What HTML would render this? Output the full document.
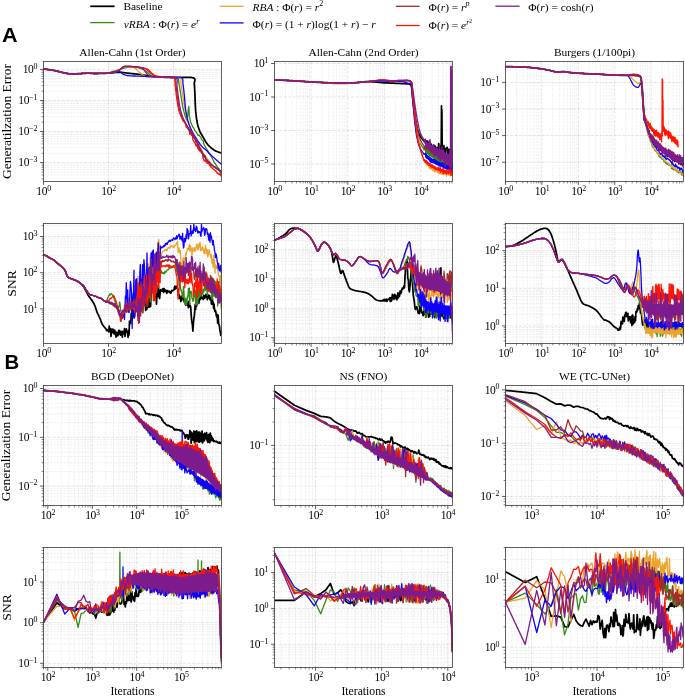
<!DOCTYPE html><html><head><meta charset="utf-8"><style>html,body{margin:0;padding:0;background:#fff;width:685px;height:696px;overflow:hidden}svg{display:block;filter:blur(0.35px)}text{font-family:"Liberation Serif",serif;fill:#000}.t{font-size:11.5px;letter-spacing:-0.3px}.s{font-size:7.9px;letter-spacing:0}.ti{font-size:11.4px}.yl{font-size:13.5px}.lg{font-size:11.4px}.ls{font-size:8px}.pn{font-family:"Liberation Sans",sans-serif;font-weight:bold;font-size:20px}</style></head><body>
<svg width="685" height="696" viewBox="0 0 685 696">
<defs>
<clipPath id="c00"><rect x="43.5" y="61.5" width="178" height="120"/></clipPath>
<clipPath id="c01"><rect x="274.5" y="61.5" width="178" height="120"/></clipPath>
<clipPath id="c02"><rect x="505.5" y="61.5" width="178" height="120"/></clipPath>
<clipPath id="c10"><rect x="43.5" y="223.5" width="178" height="120"/></clipPath>
<clipPath id="c11"><rect x="274.5" y="223.5" width="178" height="120"/></clipPath>
<clipPath id="c12"><rect x="505.5" y="223.5" width="178" height="120"/></clipPath>
<clipPath id="c20"><rect x="43.5" y="385.5" width="178" height="120"/></clipPath>
<clipPath id="c21"><rect x="274.5" y="385.5" width="178" height="120"/></clipPath>
<clipPath id="c22"><rect x="505.5" y="385.5" width="178" height="120"/></clipPath>
<clipPath id="c30"><rect x="43.5" y="547.5" width="178" height="120"/></clipPath>
<clipPath id="c31"><rect x="274.5" y="547.5" width="178" height="120"/></clipPath>
<clipPath id="c32"><rect x="505.5" y="547.5" width="178" height="120"/></clipPath>
</defs>
<path d="M43.5 178.9H221.5M43.5 175H221.5M43.5 172H221.5M43.5 169.5H221.5M43.5 167.4H221.5M43.5 165.6H221.5M43.5 164H221.5M43.5 153.3H221.5M43.5 147.8H221.5M43.5 143.9H221.5M43.5 140.9H221.5M43.5 138.4H221.5M43.5 136.3H221.5M43.5 134.5H221.5M43.5 133H221.5M43.5 122.2H221.5M43.5 116.7H221.5M43.5 112.8H221.5M43.5 109.8H221.5M43.5 107.4H221.5M43.5 105.3H221.5M43.5 103.5H221.5M43.5 101.9H221.5M43.5 91.1H221.5M43.5 85.6H221.5M43.5 81.8H221.5M43.5 78.7H221.5M43.5 76.3H221.5M43.5 74.2H221.5M43.5 72.4H221.5M43.5 70.8H221.5" stroke="#000" stroke-opacity="0.085" stroke-width="0.8" stroke-dasharray="2.6 1.1 1.8 1.1" fill="none"/>
<path d="M108.5 61.5V181.5M173.5 61.5V181.5M43.5 69.4H221.5M43.5 100.5H221.5M43.5 131.5H221.5M43.5 162.6H221.5" stroke="#000" stroke-opacity="0.13" stroke-width="0.8" stroke-dasharray="3.2 1.3" fill="none"/>
<g clip-path="url(#c00)" fill="none" stroke-linejoin="round" stroke-linecap="round">
<path d="M43.5 69l.4.1.6 0 .7.1.8.1.8.1.8.1.9.1.8.1.7.1.8.1.7.1.8.2.7.1.8.1.7.2.8.1.7.2.8.2.7.2.7.1.8.2.8.2.7.2.7.2.8.2.8.2.7.1.8.2.8.2.7.1.8.2.7.1.7.1.7.1.7.1.7 0 .7.1.7 0 .7 0 .8 0 .6 0 .7 0 .6 0 .7-.1.7 0 .7 0 .8-.1.7 0 .8-.1.7 0 .7 0 .7-.1.7 0 .8-.1.7 0 .8-.1.7 0 .8 0 .7-.1.7 0 .7 0 .7 0 .8 0 .7.1.7 0 .7 0 .6.1.7 0 .7.1.7 0 .7 0 .7 0 .7 0 .7 0 .7 0 .8-.1.7 0 .7 0 .7-.1.6 0 .7 0 .8 0 .8 0 .8 0 .8 0 .7 0 .8-.1.7 0 .6 0 .9-.1.7 0 .6-.1.8-.1 1-.1.6 0 .6-.1.7-.1.7 0 .7-.1.8-.1.7 0 .8-.1.8 0 .8 0 .8 0 .7 0 .7.1.7 0 .7.1.7.1.7.1.8.1.7.1.8.1.8.1.8.1.9.1.6.1.7 0 .6.1.7.1.7 0 .7.1.8.1.7.1.7 0 .7.1.8.1.7.1.7.1.8 0 .7.1.7.1.7.1.7.1.8.1.7.1.7.1.7.2.7.1.7.1.7.1.7.1.7.2.7.1.7.1.8.1.7.1.7.1.8.1.7.1.7 0 .7.1.7.1.8 0 .7.1.8 0 .7.1.8 0 .7.1.8 0 .7.1.7 0 .7.1.7 0 .7 0 .7.1.6 0 .8 0 .8.1.7 0 .6.1.6 0 .7 0 .6.1.6 0 .7 0 .8 0 .8.1.9 0 1 0 .6 0 .6 0 .6 0 .7 0 .7 0 .8-.1.8 0 .8 0 .8 0 .8-.1.8 0 .9 0 .8-.1.8 0 .8 0 .8 0 .8 0 .8 0 .7 0 .7.1.6 0 .7 0 .5.1.5.1.5.1.4.1 1 .5.5.5.2.7-.1.7-.2.9-.2.9-.2.9 0 1 .1.6 0 .6.1.6 0 .6 0 .6.1.7 0 .7.1.7 0 .7 0 .8.1.8 0 .8.1.9 0 .9 0 .6.1.6 0 .7 0 .7 0 .7.1.7 0 .8 0 .7 0 .8.1.7 0 .8 0 .8 0 .8.1.8 0 .7 0 .8.1.7 0 .8.1.7 0 .7 0 .7.1.7.1.8 0 .8.1.8.1.8.1.8.1.7.1.8 0 .7.1.8.1.7.1.7.1.7.1.7.1.7.2.6.1.7.1.6.1.6.2.9.2.8.2.7.1.8.2.7.3.7.2.6.2.6.2.6.2.6.3.6.2.6.3.8.4.7.3.7.4.6.4.6.4.7.3.5.4.6.3.6.4.7.4.7.3.7.4.6.4.6.3.6.4.6.4.7.5.6.4.7.5.6.5.7.6.6.5.5.5.5.6.5.6.6.6.5.6.4.6.5.5.4.7.5.7.4.6.4.6.3.7.3.7.3.8.3.8.3.9.3.8.2.7.2.5.2" stroke="#000000" stroke-width="1.75"/>
<path d="M43.5 69l.4.1.6 0 .7.1.8.1.8.1.8.1.9.1.8.1.7.1.8.1.7.1.8.2.7.1.8.1.7.2.8.1.7.2.8.2.7.2.7.1.8.2.8.2.7.2.7.2.8.2.8.2.7.1.8.2.8.2.7.1.8.2.7.1.7.1.7.1.7.1.7 0 .7.1.7 0 .7 0 .8 0 .6 0 .7 0 .6 0 .7-.1.7 0 .7 0 .8-.1.7 0 .8-.1.7 0 .7 0 .7-.1.7 0 .8-.1.7 0 .8-.1.7 0 .8 0 .7-.1.7 0 .7 0 .7 0 .8 0 .7.1.7 0 .7 0 .6.1.7 0 .7.1.7 0 .7 0 .7 0 .7 0 .7 0 .7 0 .8-.1.7 0 .7 0 .7-.1.6 0 .7 0 .8 0 .8 0 .9 0 .7 0 .8 0 .7 0 .7 0 .6-.1.9-.2.6-.3.6-.3.9-.4.6-.2.6-.2.7-.2.8-.2.8-.2.8-.2.8-.2.7-.2.7-.2.7-.2.7-.2.7-.3.7-.2.6-.2.7-.2.7-.2.7-.2.6-.2.7-.1.7-.2.6-.2.7-.2.7-.1.7-.1.7-.1.8-.1.7 0 .6-.1.8 0 .7 0 .7 0 .8.1.7 0 .8.1.7 0 .7.1.6.1.8.1.7.2.7.2.7.3.7.2.6.3.7.2.5.3.6.2.7.3.7.4.5.3.6.3.6.4.6.5.5.4.6.5.6.5.6.6.6.5.6.6.6.4.6.4.7.4.7.3.6.2.7.2.9.2 1 .1.6.1.6 0 .7.1.7 0 .7 0 .7.1.8 0 .8 0 .8 0 .9.1.8 0 .9 0 .6 0 .7 0 .8 0 .7 0 .8-.1.8 0 .8-.1.8 0 .8 0 .8 0 .8 0 .7 0 .7 0 .6.1.6.1.5.1.5.2.7.4.4.5.3.5.2.7.1.7 0 .8 0 .8.1.9.2 1 .1.6.1.6.2.6.1.6.1.7.1.7.1.7.1.8.2.7.1.8.1.7.1.8.1.8.1.7.2.8.1.7.1.7.1.7.1.7.1.8.2.7.1.7.1.8.1.7.1.7.1.8.1.7.2.7.1.7.1.7.1.7.1.6.2.7.1.6.2.8.2.8.2.8.2.8.2.7.2.7.2.8.2.6.2.7.2.6.1.6.2.6.2.5.4 1 .3.9.4.7.3.5.2.5.2.4.9-11 .6-3.5.6 9.5 1.1 6 .5.8.8 1.8.8 2.2.8.6.8 1.6.8 1.7.8.6.8 1.6.8 1.2.8 1.3.8-.4.9 1.4.8.6.8 2.4.8.8.8.1.8 3.7.8 1.8.8 1.2.8 1.7.8.9.8 1.2.8 2.4.8.3.8 1.6.8 1.4.8.8.8 2.2.8 1.2.8 2.1.8.6.9 1.5.8 1 .8 1.6.8.9.8.9.8 2.8.8 1.3.8.9.8-.3.8-.8.8-.1" stroke="#338a16" stroke-width="1.3"/>
<path d="M43.5 69l.4.1.6 0 .7.1.8.1.8.1.8.1.9.1.8.1.7.1.8.1.7.1.8.2.7.1.8.1.7.2.8.1.7.2.8.2.7.2.7.1.8.2.8.2.7.2.7.2.8.2.8.2.7.1.8.2.8.2.7.1.8.2.7.1.7.1.7.1.7.1.7 0 .7.1.7 0 .7 0 .8 0 .6 0 .7 0 .6 0 .7-.1.7 0 .7 0 .8-.1.7 0 .8-.1.7 0 .7 0 .7-.1.7 0 .8-.1.7 0 .8-.1.7 0 .8 0 .7-.1.7 0 .7 0 .7 0 .8 0 .7.1.7 0 .7 0 .6.1.7 0 .7.1.7 0 .7 0 .7 0 .7 0 .7 0 .7 0 .8-.1.7 0 .7 0 .7-.1.6 0 .7 0 .8 0 .8 0 .8 0 .8 0 .7 0 .8-.1.7 0 .6 0 .9 0 .7-.1.8 0 .7-.1.9-.2.7-.2.7-.1.8-.3.8-.2.8-.2.8-.3.8-.2.6-.3.9-.4.7-.5.7-.4.6-.5.6-.4.6-.4.5-.5.5-.5.6-.3.8-.3.7-.1.7 0 .8 0 .8 0 .9.1.8.1.8.1.7.1.8.1.7.1.7.1.7.2.7.3.7.3.5.4.6.4.5.5.5.5.5.6.5.5.6.5.5.5.5.5.6.5.6.4.5.5.6.4.6.4.6.4.6.3.6.3.6.3.5.2.5.1.6.2.6.1.7.1.9.1 1.2.1.5 0 .6.1.6 0 .6 0 .6.1.7 0 .7 0 .8 0 .7 0 .8 0 .7.1.8 0 .8 0 .8 0 .8 0 .8 0 .7 0 .8.1.8 0 .7 0 .7 0 .8 0 .7 0 .8 0 .8 0 .9-.1.8 0 .8 0 .9-.1.8 0 .8 0 .8 0 .8 0 .7 0 .7 0 .7 0 .6.1.6 0 .6.1.5.1.4.2.7.4.5.5.2.5.1.6 0 .7-.1.8 0 .8 0 1 .1 1 .1.6.1.5.1.7.1.6.1.7.1.7.1.7.1.7.1.8.1.7.2.8.1.8.1.8.1.7.1.8.2.8.1.8.1.8.1.7.1.7.1.7.1.7.1.7.1.7.2.7.1.8.1.7.1.7.1.8.1.7.2.7.1.8.1.7.1.7.2.7.1.7.1.7.2.7.1.7.2.7.1.8.2.7.2.7.1.8.2.7.2.7.2.7.2.7.2.7.1.7.2.7.2.7.2.6.2.7.2.6.2.6.2.6.2.6.3.8.2.7.3.7.3.7.3.6.2.6.3.7.3.6.3.5.3.6.3.6.3.6.3.7.3.6.3.6.4.7.3.6.4.7.3.6.4.6.3.7.4.6.4.6.3.7.4.6.4.7.3.6.4.7.3.6.4.6.3.7.3.6.3.7.4.6.3.7.3.6.3.6.4.7.3.6.3.7.4.6.3.6.4.6.4.6.4.7.4.6.4.7.5.6.4.6.4.6.5.6.4.7.5.5.4.6.4.6.5.6.4.5.5.6.5.6.5.6.5.6.5.6.5.5.5.5.5.6.5.5.5.5.5.4.5.5.6.5.6.5.7.5.7.5.7.4.7.5.6.4.6.4.5.3.5.3.3.2" stroke="#eca32c" stroke-width="1.3"/>
<path d="M43.5 69l.4.1.6 0 .7.1.8.1.8.1.8.1.9.1.8.1.7.1.8.1.7.1.8.2.7.1.8.1.7.2.8.1.7.2.8.2.7.2.7.1.8.2.8.2.7.2.7.2.8.2.8.2.7.1.8.2.8.2.7.1.8.2.7.1.7.1.7.1.7.1.7 0 .7.1.7 0 .7 0 .8 0 .6 0 .7 0 .6 0 .7-.1.7 0 .7 0 .8-.1.7 0 .8-.1.7 0 .7 0 .7-.1.7 0 .8-.1.7 0 .8-.1.7 0 .8 0 .7-.1.7 0 .7 0 .7 0 .8 0 .7.1.7 0 .7 0 .6.1.7 0 .7.1.7 0 .7 0 .7 0 .7 0 .7 0 .7 0 .8-.1.7 0 .7 0 .7-.1.6 0 .7 0 .8 0 .8 0 .8 0 .8 0 .8 0 .7 0 .7-.1.6 0 .8-.1.6-.2.6-.2.7-.1 1-.2.6-.1.7-.1.7-.1.8-.1.9-.1.8-.1.9 0 .8-.1.7 0 .7 0 .6.1.8.3.6.4.5.5.4.5.5.5.7.4.6.2.6.2.6.2.6.2.8.1.7.2.9.1 1 .1.6.1.6 0 .6 0 .6.1.7 0 .7.1.7 0 .7 0 .7 0 .8.1.8 0 .8 0 .8 0 .8.1.9 0 .6 0 .7.1.6 0 .7 0 .7 0 .7.1.7 0 .7 0 .7.1.8 0 .7 0 .8 0 .7.1.7 0 .8 0 .7.1.8 0 .7 0 .8 0 .7.1.7 0 .7 0 .7.1.8 0 .7 0 .7.1.8 0 .7 0 .8 0 .7.1.8 0 .7 0 .7.1.7 0 .8 0 .7.1.7 0 .7 0 .6 0 .7.1.7 0 .6 0 .8 0 .9 0 .8 0 .9-.1.8 0 .8-.1.8 0 .8-.1.7 0 .8 0 .7 0 .6 0 .6.1.6.1.5.1.4.2.6.4.4.5.2.6.2.7 0 .7 0 .8 0 .8 0 1 .1.9.1.6.1.6.1.6.1.7 0 .7.1.7.1.7.1.7.1.8.1.8.1.8 0 .8.1.8.1.8.1.9.1.6 0 .7.1.7 0 .7.1.7.1.7 0 .8.1.7 0 .8.1.7.1.8 0 .7.1.8.1.7 0 .8.1.7.1.7.1.7 0 .7.1.7.1.6.1.8.1.8.2.7.1.8.1.7.1.7.2.7.1.7.2.6.1.7.2.6.1.7.2.6.1.6.2.7.2.6.2.8.3.7.2.7.3.7.2.8.3.6.2.7.3.7.3.7.3.6.3.7.3.6.3.7.3.6.3.7.3.6.4.6.3.6.4.7.3.6.4.6.3.6.4.6.3.6.4.6.4.6.4.6.4.7.4.6.4.7.5.6.4.7.4.6.5.7.4.6.4.6.5.6.4.5.4.5.6.6.5.6.6.5.5.5.6.4.5.5.6.4.5.5.6.5.5.5.5.5.5.5.5.5.5.5.5.5.5.5.5.5.5.5.5.5.5.5.6.5.6.6.5.5.6.5.5.5.6.5.5.5.6.4.5.5.6.5.7.6.6.6.7.5.6.5.5.5.5.4.3.3" stroke="#1000ff" stroke-width="1.3"/>
<path d="M43.5 69l.4.1.6 0 .7.1.8.1.8.1.8.1.9.1.8.1.7.1.8.1.7.1.8.2.7.1.8.1.7.2.8.1.7.2.8.2.7.2.7.1.8.2.8.2.7.2.7.2.8.2.8.2.7.1.8.2.8.2.7.1.8.2.7.1.7.1.7.1.7.1.7 0 .7.1.7 0 .7 0 .8 0 .6 0 .7 0 .6 0 .7-.1.7 0 .7 0 .8-.1.7 0 .8-.1.7 0 .7 0 .7-.1.7 0 .8-.1.7 0 .8-.1.7 0 .8 0 .7-.1.7 0 .7 0 .7 0 .8 0 .7.1.7 0 .7 0 .6.1.7 0 .7.1.7 0 .7 0 .7 0 .7 0 .7 0 .7 0 .8-.1.7 0 .7 0 .7-.1.6 0 .7 0 .8 0 .8 0 .8 0 .8 0 .7 0 .8-.1.7 0 .6 0 .9 0 .7-.1.8 0 .7-.1.9-.2.6-.2.7-.1.7-.2.7-.3.7-.2.7-.3.7-.2.7-.3.5-.2.8-.4.6-.4.5-.4.5-.4.6-.4.6-.5.4-.5.6-.6.7-.4 1.2-.3.5-.1.6 0 .6 0 .6 0 .7 0 .8 0 .7 0 .8 0 .8.1.8 0 .7.1.8 0 .7.1.7 0 .7.1.8.1.7 0 .8.1.7.1.8.1.7.1.7.1.7.1.7.1.7.2.6.1.6.1.5.2.9.3.7.4.6.3.6.4.5.5.6.4.6.5.6.5.5.5.6.5.5.6.6.5.5.5.6.5.6.4.7.4.6.3.7.3.6.2.7.2.8.2.9.2.6.1.7.1.7.1.7 0 .7.1.8 0 .7.1.8 0 .8 0 .7.1.8 0 .7 0 .8 0 .8-.1.8-.1.8-.1.8 0 .7-.1.8 0 .7.1.6.1.5.2.5.3.4.4.3.5.2.5.1.6.1.7.1.7 0 .8.1.8 0 .8 0 .8.1.9.1.8.1.6.1.6.1.7 0 .7.1.7.1.7.1.7.1.7.1.7 0 .8.1.7.1.8.1.7.1.7.1.8.1.7.1.7.1.7.1.7.1.8.1.7.1.8.1.7.2.7.1.8.1.7.1.7.1.8.2.7.1.7.1.6.1.7.2.6.1.6.2.9.3.9.2.9.3.8.2.9.3.7.3.7.2.7.2.6.2.5.1.4.5.8.6 1.4.6 1.1.6 0 .6.7.6 1.8.6.8.6 2.4.6.6.6.6.6.8.6 1.3.6-1.2.6 2.2.6-.4.6 4.5.6-3.2.6 4.8.6-2.8.6 4 .6-.8.6 1.4.6 3.4.6-2.9.6 1.4.6 5.4.6-.8.6-.9.6 5.7.6 1 .6-3 .6 2.8.6-.2.6 2.1.6 2.7.7-1.4.6 3.6.6-2.3.6 1.5.6 4 .6-1 .6.9.6 1.2.6.1.6.3.6-.4.6 2.4.6 1 .6.4.6-.1.6-.1.6.4.6.9.6.3.6-.5.6.5.6.6.6.6.6.8.6-.1.6-.3.6 1.6.6-.2.6.5.6-.1.6.7.6-.1.6.6.6-1 .6.7" stroke="#a52a2a" stroke-width="1.3"/>
<path d="M43.5 69l.4.1.6 0 .7.1.8.1.8.1.8.1.9.1.8.1.7.1.8.1.7.1.8.2.7.1.8.1.7.2.8.1.7.2.8.2.7.2.7.1.8.2.8.2.7.2.7.2.8.2.8.2.7.1.8.2.8.2.7.1.8.2.7.1.7.1.7.1.7.1.7 0 .7.1.7 0 .7 0 .8 0 .6 0 .7 0 .6 0 .7-.1.7 0 .7 0 .8-.1.7 0 .8-.1.7 0 .7 0 .7-.1.7 0 .8-.1.7 0 .8-.1.7 0 .8 0 .7-.1.7 0 .7 0 .7 0 .8 0 .7.1.7 0 .7 0 .6.1.7 0 .7.1.7 0 .7 0 .7 0 .7 0 .7 0 .7 0 .8-.1.7 0 .7 0 .7-.1.6 0 .7 0 .8 0 .8 0 .8 0 .8 0 .8 0 .7-.1.7 0 .6 0 .9 0 .7-.1.6 0 .7-.1.8-.2.7-.2.7-.2.8-.3.8-.2.8-.3.8-.3.7-.3.7-.3.7-.4.7-.4.7-.3.6-.4.6-.4.5-.4.4-.5.4-.5.5-.4.7-.4 1-.2.5 0 .5-.1.6 0 .7 0 .6 0 .7.1.8 0 .7.1.8 0 .8.1.7.1.8.1.8 0 .8.1.7.1.7.1.8.1.7 0 .8.1.8.1.8.1.8.1.8.1.8.1.8.1.7.1.7.2.7.1.7.2.6.1.5.2.9.4.8.5.6.5.5.5.5.6.4.5.5.5.5.5.6.5.6.5.5.5.6.4.6.4.8.4.9.3.6.2.6.1.7.1.7.1.7.1.8.1.8.1.7.1.8 0 .8.1.8.1.7 0 .7.1.8 0 .7 0 .8 0 .8-.1.8 0 .8-.1.7 0 .8 0 .6 0 .6.2.5.2.5.3.4.4.2.5.2.6.2.6.1.6 0 .8.1.7 0 .8 0 .9 0 .8.1.9.1.9.1.6.1.7.1.6 0 .7.1.7.1.8.1.7.1.8.1.7.1.8 0 .8.1.7.1.8.1.8.1.7.1.7.1.7.1.7.1.8.1.8.2.8.1.8.1.8.1.7.2.8.1.7.1.8.2.7.1.7.2.7.1.6.2.7.1.6.2.9.3.9.3.8.3.8.3.8.3.7.2.6.3.6.1.5.2.4.2.1.6 1.7.6 1.2.6 1.6.6-.5.6 1.1.6.8.6 1.2.6 3 .6-1.5.6 2.8.6-.5.6 1.4.6 1.8.6 3.1.6-.1.6-1.9.6 2.4.6.4.6 4.8.6.8.6 1 .6 1.2.6.7.6 2.1.6.3.6-1.8.6 4.3.6-.9.6 2.5.6.1.6.3.6.7.6 1.5.6.4.6 0 .5 5 .6.9.6 2.1.6-.8.6 0 .6 1.8.6-2.1.6 3.3.6-.2.6-.1.6 1.1.6 1.6.6-.1.6 1.1.6.9.6.3.6.1.6 1.2.6.2.6.6.6.5.6.7.6 0 .6 1.4.6.9.6-.5.6 1 .6.8.6-1 .6.6.6 1.5.6.4.6-.3.6-.7.6.4.6.7" stroke="#ff1500" stroke-width="1.3"/>
<path d="M43.5 69l.4.1.6 0 .7.1.8.1.8.1.8.1.9.1.8.1.7.1.8.1.7.1.8.2.7.1.8.1.7.2.8.1.7.2.8.2.7.2.7.1.8.2.8.2.7.2.7.2.8.2.8.2.7.1.8.2.8.2.7.1.8.2.7.1.7.1.7.1.7.1.7 0 .7.1.7 0 .7 0 .8 0 .6 0 .7 0 .6 0 .7-.1.7 0 .7 0 .8-.1.7 0 .8-.1.7 0 .7 0 .7-.1.7 0 .8-.1.7 0 .8-.1.7 0 .8 0 .7-.1.7 0 .7 0 .7 0 .8 0 .7.1.7 0 .7 0 .6.1.7 0 .7.1.7 0 .7 0 .7 0 .7 0 .7 0 .7 0 .8-.1.7 0 .7 0 .7-.1.6 0 .7 0 .8 0 .8 0 .8 0 .8 0 .7 0 .8-.1.7 0 .6 0 .9 0 .7-.1.8 0 .7-.1.9-.2.6-.2.7-.1.7-.2.7-.3.7-.2.7-.3.7-.2.7-.3.5-.2.8-.4.6-.4.5-.4.5-.4.6-.4.6-.5.5-.5.6-.5.8-.5 1-.3.5-.1.6 0 .7-.1.7 0 .8 0 .7.1.8 0 .8 0 .8.1.7 0 .7.1.7 0 .8.1.8 0 .7.1.8.1.7.1.7.1.7.1.7.1.6.1.5.1.9.2.6.2.6.3.5.3.6.5.4.4.5.6.4.5.4.7.5.6.4.6.5.6.4.5.5.6.5.5.5.5.5.4.7.4.8.3.5.2.5.1.6.1.5.1.6.1.7.1.7 0 .8.1.8.1 1 0 1.1.1.5 0 .6 0 .7 0 .6 0 .7 0 .8 0 .7 0 .8-.1.8 0 .9 0 .8-.1.8 0 .9 0 .8 0 .8 0 .8 0 .7 0 .8 0 .7.1.7 0 .6.1.6.1.5.1.5.1.4.2.7.4.5.5.3.5.2.7.1.6-.1.7 0 .8-.1.8-.1.8-.1.8 0 .9.1.8.1.6.1.6.1.7 0 .7.1.7.1.7.1.7.1.7.1.7 0 .8.1.7.1.8.1.7.1.7.1.8.1.7.1.7.1.7.1.7.1.7.1.8.1.7.1.7.1.7.1.8.1.7.1.7.2.7.1.7.1.7.2.7.1.7.1.6.2.7.2.7.2.7.2.7.2.7.2.7.2.7.2.7.3.6.2.7.3.6.2.7.3.6.2.6.3.7.3.6.3.7.3.6.4.7.3.6.3.6.4.7.3.6.4.6.4.7.4.6.3.6.4.7.4.6.4.7.3.6.4.6.4.6.3.6.4.6.4.6.4.6.3.6.4.6.4.7.4.6.4.6.4.7.3.6.4.7.4.7.3.6.3.6.4.6.3.7.3.6.3.7.4.6.3.7.3.7.3.7.3.6.4.7.3.6.3.7.3.6.3.6.3.6.3.6.3.5.4.8.4.7.4.7.4.6.4.7.3.6.4.6.3.6.4.5.4.6.4.5.4.6.4.5.5.6.5.5.5.6.5.5.5.5.5.5.5.5.5.5.5.5.5.4.5.5.5.4.6.5.6.5.6.5.5.5.6.4.5.4.5.4.6.4.5.4.7.5.8.5.7.5.7.5.7.4.5.3.4.3" stroke="#7e1b8d" stroke-width="1.3"/>
</g>
<path d="M43.5 181.5v3.4M108.5 181.5v3.4M173.5 181.5v3.4M43.5 69.4h-3.4M43.5 100.5h-3.4M43.5 131.5h-3.4M43.5 162.6h-3.4" stroke="#333" stroke-width="0.8" fill="none"/>
<path d="M43.5 178.9h-1.9M43.5 175h-1.9M43.5 172h-1.9M43.5 169.5h-1.9M43.5 167.4h-1.9M43.5 165.6h-1.9M43.5 164h-1.9M43.5 153.3h-1.9M43.5 147.8h-1.9M43.5 143.9h-1.9M43.5 140.9h-1.9M43.5 138.4h-1.9M43.5 136.3h-1.9M43.5 134.5h-1.9M43.5 133h-1.9M43.5 122.2h-1.9M43.5 116.7h-1.9M43.5 112.8h-1.9M43.5 109.8h-1.9M43.5 107.4h-1.9M43.5 105.3h-1.9M43.5 103.5h-1.9M43.5 101.9h-1.9M43.5 91.1h-1.9M43.5 85.6h-1.9M43.5 81.8h-1.9M43.5 78.7h-1.9M43.5 76.3h-1.9M43.5 74.2h-1.9M43.5 72.4h-1.9M43.5 70.8h-1.9" stroke="#333" stroke-width="0.6" fill="none"/>
<rect x="43.5" y="61.5" width="178" height="120" fill="none" stroke="#3a3a3a" stroke-width="0.8"/>
<text x="43.8" y="194.8" text-anchor="middle" class="t">10<tspan class="s" dy="-4.3">0</tspan></text>
<text x="108.8" y="194.8" text-anchor="middle" class="t">10<tspan class="s" dy="-4.3">2</tspan></text>
<text x="173.8" y="194.8" text-anchor="middle" class="t">10<tspan class="s" dy="-4.3">4</tspan></text>
<text x="37.5" y="73" text-anchor="end" class="t">10<tspan class="s" dy="-4.3">0</tspan></text>
<text x="37.5" y="104.1" text-anchor="end" class="t">10<tspan class="s" dy="-4.3">−1</tspan></text>
<text x="37.5" y="135.1" text-anchor="end" class="t">10<tspan class="s" dy="-4.3">−2</tspan></text>
<text x="37.5" y="166.2" text-anchor="end" class="t">10<tspan class="s" dy="-4.3">−3</tspan></text>
<path d="M285.5 61.5V181.5M292 61.5V181.5M296.6 61.5V181.5M300.1 61.5V181.5M303 61.5V181.5M305.5 61.5V181.5M307.6 61.5V181.5M309.4 61.5V181.5M322.2 61.5V181.5M328.6 61.5V181.5M333.2 61.5V181.5M336.7 61.5V181.5M339.6 61.5V181.5M342.1 61.5V181.5M344.2 61.5V181.5M346.1 61.5V181.5M358.8 61.5V181.5M365.2 61.5V181.5M369.8 61.5V181.5M373.4 61.5V181.5M376.3 61.5V181.5M378.7 61.5V181.5M380.8 61.5V181.5M382.7 61.5V181.5M395.4 61.5V181.5M401.9 61.5V181.5M406.4 61.5V181.5M410 61.5V181.5M412.9 61.5V181.5M415.3 61.5V181.5M417.5 61.5V181.5M419.3 61.5V181.5M432 61.5V181.5M438.5 61.5V181.5M443.1 61.5V181.5M446.6 61.5V181.5M449.5 61.5V181.5M452 61.5V181.5" stroke="#000" stroke-opacity="0.085" stroke-width="0.8" stroke-dasharray="2.6 1.1 1.8 1.1" fill="none"/>
<path d="M311.1 61.5V181.5M347.8 61.5V181.5M384.4 61.5V181.5M421 61.5V181.5M274.5 63.5H452.5M274.5 97H452.5M274.5 130.5H452.5M274.5 164H452.5" stroke="#000" stroke-opacity="0.13" stroke-width="0.8" stroke-dasharray="3.2 1.3" fill="none"/>
<g clip-path="url(#c01)" fill="none" stroke-linejoin="round" stroke-linecap="round">
<path d="M274.5 79.9l.4 0 .4 0 .5.1.6 0 .6 0 .7 0 .7.1.7 0 .8 0 .7.1.8 0 .9 0 .8.1.8 0 .8 0 .8.1.9 0 .7.1.8 0 .7 0 .7.1.7 0 .8 0 .7.1.7 0 .7.1.7 0 .7.1.7 0 .6 0 .7.1.7 0 .6.1.7 0 .7.1.7 0 .7.1.8 0 .8.1.8 0 .6 0 .7.1.6 0 .7.1.7 0 .7 0 .7.1.8 0 .7.1.7 0 .8.1.7 0 .8.1.7 0 .8 0 .7.1.8 0 .7.1.7 0 .8.1.7 0 .7 0 .7.1.7 0 .7 0 .8.1.7 0 .8 0 .7.1.7 0 .8 0 .7.1.7 0 .7 0 .7.1.7 0 .8 0 .7.1.7 0 .7 0 .7 0 .7 0 .6.1.7 0 .7 0 .7 0 .8 0 .7 0 .8 0 .8 0 .7 0 .8 0 .8 0 .7 0 .8 0 .8 0 .7 0 .7 0 .7 0 .7 0 .7 0 .7 0 .6-.1.6 0 .6 0 .6 0 1 0 .9-.1.8 0 .7 0 .6 0 .6-.1.7 0 .7-.1.7 0 .9-.1.6 0 .7-.1.6-.1.7-.1.6 0 .7-.1.7-.1.7-.1.8-.1.7 0 .8-.1.8 0 .8-.1.8 0 .9 0 .6 0 .6 0 .7.1.6 0 .7 0 .6.1.7 0 .7.1.7.1.7 0 .7.1.7.1.7 0 .8.1.7.1.7 0 .8.1.7.1.8 0 .7.1.8.1.7 0 .7 0 .7.1.7 0 .7 0 .7.1.7 0 .8 0 .7.1.8 0 .8 0 .7.1.8 0 .7 0 .8 0 .7.1.7 0 .7 0 .8.1.6 0 .7 0 .7.1.6 0 .6 0 .6.1.5 0 1 .1.9 0 .9 0 .9 0 .8.1.7 0 .7 0 .6.1.6.1.6.1.5.2.5.2.4.3.5.5.3.5.2.5.1.7.1.7.1.7 0 .8 0 .9.1.9.1 1 .1.6.1.6 0 .6.1.7.1.6.1.7.1.7 0 .8.1.7.1.8.1.7.1.8 0 .8.1.8.1.8.1.7.1.8.1.8.1.7.1.7.1.7 0 .7.1.7.1.8.1.7.1.7.1.8.1.7.1.8.1.7.1.8.1.7.1.7.1.8.1.7.1.6.1.7.1.7.1.6.1.8.2.8.1.8.2.7.1.8.2.7.1.7.2.7.1.7.2.7.2.6.1.7.2.6.2.6.1.5.2.6.3.8.3.8.3.8.3.7.3.6.3.6.3.6.3.6.3.5.3.5.5.8.6.7.6.7.5.5.5.5.3.3 0-.3.4.7.4-.2.4 1 .4-.9.4-.5.4 3.7.4-1 .4-1.3.4-1.1.4 1.8.4.1.4 1.1.4-.1.4-2.1.4 6.2.4-2.2.4-.3.4-1.4.4 5 .3-3.7.4.3.4 2.2.4 1.9.4-3.5.4.4.4-1.3.4 1.6.4 3.2.4-3.8.4 3.3.4-1 .4-.3.4 1.2.4-2.1.4 2.7.4-.2.4-6.5.4 3 .4 3.5.4-4.3.4.7.4 4.7.4-.6.4-2.2-.3 1.5.3-43.9.3 43.9.1 0-.3 5 .3-44.9.3 44.9.1 0 .4-3 .4-2 .4 2.2.4-6.4.4 5.9.4-3.1.4 3.2.4 3.2.4-6.5.4.5.4.7.4-2.3.3 1.2.4 2.6.4 5.6.4-3.3.4-3.9.4.4.4.7.4.5.4-2.5.4 8.3.4.5.4-3.3.4-2.2.4 1.2.4-2.5.4 5 .4-3.6.4 3.9.4-1.5.4-6.2" stroke="#000000" stroke-width="1.75"/>
<path d="M425 147.2l1.5 1.2 1.4 1.1 1.5 1.1 1.5 1 1.5 1.1 1.4 1 1.5 1 1.5.9 1.5.9 1.4.8 1.5.8 1.5.7 1.5.8 1.4.6 1.5.5 1.5.5 1.5.5 1.4.5 1.5.3 0 5-1.5-.3-1.4-.5-1.5-.5-1.5-.5-1.5-.5-1.4-.6-1.5-.8-1.5-.7-1.5-.8-1.4-.8-1.5-.9-1.5-.9-1.5-1-1.4-1-1.5-1.1-1.5-1-1.5-1.1-1.4-1.1-1.5-1.2z" fill="#338a16" stroke="none"/>
<path d="M274.5 79.9l.4 0 .4 0 .5.1.6 0 .6 0 .7 0 .7.1.7 0 .8 0 .7.1.8 0 .9 0 .8.1.8 0 .8 0 .8.1.9 0 .7.1.8 0 .7 0 .7.1.7 0 .8 0 .7.1.7 0 .7.1.7 0 .7.1.7 0 .6 0 .7.1.7 0 .6.1.7 0 .7.1.7 0 .7.1.8 0 .8.1.8 0 .6 0 .7.1.6 0 .7.1.7 0 .7 0 .7.1.8 0 .7.1.7 0 .8.1.7 0 .8.1.7 0 .8 0 .7.1.8 0 .7.1.7 0 .8.1.7 0 .7 0 .7.1.7 0 .7 0 .8.1.7 0 .8 0 .7.1.7 0 .8 0 .7.1.7 0 .7 0 .7.1.7 0 .8 0 .7.1.7 0 .7 0 .7 0 .7 0 .6.1.7 0 .7 0 .7 0 .8 0 .7 0 .8 0 .8 0 .7 0 .8 0 .8 0 .7 0 .8 0 .8 0 .7 0 .7 0 .7 0 .7 0 .7 0 .7 0 .6-.1.6 0 .6 0 .6 0 1 0 .9-.1.8 0 .7 0 .6 0 .6-.1.7 0 .7-.1.7 0 .9-.1.6 0 .7-.1.7 0 .7-.1.7-.1.7 0 .7-.1.8 0 .7-.1.8-.1.8 0 .7-.1.8-.1.7 0 .8-.1.7-.1.7 0 .7-.1.7-.1.7-.1.7-.1.8-.1.7 0 .7-.1.7-.1.7-.1.8 0 .7-.1.7 0 .8-.1.7 0 .7 0 .7 0 .7 0 .8 0 .7.1.7 0 .8 0 .7.1.7 0 .7.1.8 0 .7.1.7 0 .7 0 .6.1.7 0 .6 0 .9 0 .8 0 .7 0 .8-.1.7 0 .7 0 .7-.1.8 0 .7 0 .7 0 .7 0 .8 0 .7 0 .7 0 .8 0 .8 0 .8 0 .8 0 .8 0 .7 0 .8.1.7.1.6.1.6.3.6.2.4.4.4.4.3.5.2.6.1.6.2.7 0 .7.1.7 0 .8 0 .8 0 .8 0 .8.1.9 0 .8.1.9.1.6 0 .6.1.7.1.6 0 .7.1.6 0 .7.1.7 0 .7.1.7.1.7 0 .8.1.7 0 .7.1.8 0 .7.1.8.1.7 0 .8.1.7.1.7 0 .7.1.7 0 .7.1.8.1.7 0 .7.1.8.1.8 0 .7.1.8.1.7 0 .8.1.7.1.8 0 .7.1.7.1.7.1.8 0 .7.1.6.1.7.1.8.1.8.1.8.1.8.1.8.1.7.1.8.1.8.1.7.1.7.1.7.1.7.2.7.1.7.1.7.1.6.2.6.1.6.2.8.2.8.3.8.2.7.2.7.3.6.2.7.3.6.3.6.2.5.3.6.3.6.4.7.4.7.5.7.4.7.5.7.4.6.5.6.3.5.4.5.2.3 0 .9.4-2.4.4-.4.4 3 .4.6.4 2.9.4.5.4-1.5.4.5.4-.6.4-1.5.4.4.4 3.3.4-3.6.4 4.8.4-4.9.4 2.8.4-.3.4 3.1.4-2.7.3-.1.4 1.6.4 1 .4-2.9.4 1.7.4.5.4 3.3.4-7.8.4 6.1.4-.9.4 5.6.4-9.2.4 4.7.4 3 .4-.1.4-1.5.4 2.7.4-2.5.4 1.1.4 1 .4-.7.4-3 .4 3.6.4-2.3.4 4.8.4-6.1.4 0 .4 7.7.4-1.4.4-4.6.4-.6.4 2.9.4 2 .4-4.6.4 9.4.4-7.9.4-1.8.4 9.2.4-9.1.3 3.8.4 4.9.4-5.6.4 4 .4-2.7.4-2.7.4 5.5.4-.6.4 3.1.4-2.5.4-4.5.4 7.8.4-6.2.4 4 .4-1.9.4-2.7.4 3.6.4-3.9.4 2.9.4 2.2" stroke="#338a16" stroke-width="1.3"/>
<path d="M274.5 79.9l.4 0 .4 0 .5.1.6 0 .6 0 .7 0 .7.1.7 0 .8 0 .7.1.8 0 .9 0 .8.1.8 0 .8 0 .8.1.9 0 .7.1.8 0 .7 0 .7.1.7 0 .8 0 .7.1.7 0 .7.1.7 0 .7.1.7 0 .6 0 .7.1.7 0 .6.1.7 0 .7.1.7 0 .7.1.8 0 .8.1.8 0 .6 0 .7.1.6 0 .7.1.7 0 .7 0 .7.1.8 0 .7.1.7 0 .8.1.7 0 .8.1.7 0 .8 0 .7.1.8 0 .7.1.7 0 .8.1.7 0 .7 0 .7.1.7 0 .7 0 .8.1.7 0 .8 0 .7.1.7 0 .8 0 .7.1.7 0 .7 0 .7.1.7 0 .8 0 .7.1.7 0 .7 0 .7 0 .7 0 .6.1.7 0 .7 0 .7 0 .8 0 .7 0 .8 0 .8 0 .7 0 .8 0 .8 0 .7 0 .8 0 .8 0 .7 0 .7 0 .7 0 .7 0 .7 0 .7 0 .6-.1.6 0 .6 0 .6 0 1 0 .9-.1.8 0 .7 0 .6 0 .6-.1.7 0 .7-.1.7 0 .9-.1.6 0 .7-.1.6 0 .7-.1.7 0 .7-.1.8-.1.7 0 .8-.1.7-.1.8 0 .8-.1.7-.1.8 0 .8-.1.7-.1.7 0 .7-.1.8-.1.7-.1.8-.1.7-.1.8-.1.7-.1.8-.1.7-.1.8-.1.7 0 .8-.1.7 0 .7-.1.7 0 .8 0 .8 0 .7.1.8 0 .8.1.7.1.7 0 .8.1.7.1.7.1.7.1.8.1.6 0 .7.1.7 0 .8 0 .8 0 .8 0 .7-.1.7-.1.8 0 .7-.1.7 0 .7-.1.8 0 .7 0 .8 0 .7 0 .8 0 .7 0 .8-.1.8 0 .9-.1.8 0 .8 0 .7.1.7.1.7.2.6.2.5.4.5.4.3.4.3.5.2.5.1.6.2.7.1.7 0 .7.1.7 0 .8 0 .8 0 .8 0 .8 0 .8 0 .8.1.8 0 .8.1.8.1.7 0 .6.1.7.1.6.1.7 0 .7.1.7.1.7 0 .7.1.7.1.7.1.7 0 .7.1.7.1.7.1.7 0 .8.1.7.1.8.1.7.1.7.1.6 0 .7.1.7.1.7.1.7.1.7 0 .7.1.7.1.7.1.7.1.8.1.7.1.7 0 .7.1.7.1.7.1.7.1.7.1.7.1.7.1.6.1.7.1.7.1.8.1.7.2.7.1.7.1.7.1.7.1.7.2.7.1.7.1.6.1.7.2.7.1.7.1.7.2.7.1.7.1.7.2.7.1.7.1.7.2.7.1.8.1.7.2.8.1.7.2.8.1.8.2.8.1.8.2.7.1.8.2.7.1.8.2.7.1.7.2.6.1.7.1.6.2.6.1.5.3 1 .2.9.3.9.2.7.3.6.2.6.2.6.3.6.2.5.3.6.4.8.4.7.4.7.5.7.4.7.3.5.4.5.2.4 0 .6.4-1.6.4.7.4.9.4-.7.4 1.8.4 1.9.4-1 .4.8.4-.1.4-.1.4 1.5.4-1 .4-.9.4.3.4 2.7.4-1.6.4.2.4 1.1.4 1.6.4 0 .4-1.2.4-.6.4-.1.4.2.4 1.5.4.4.4-.3.4.6.4.7.4-2.4.4 2.7.4-2.4.4 1.9.4-.5.4 1.5.4-1.1.4 1.1.4-.2.4.2.4-1.9.4 2.2.4-.4.4-.9.4.6.4-2.1.4 2.8.4-.8.4.7.4 1.9.4-2.7.4.2.4 0 .4-1.5.4 2.9.4-.3.4-.7.4-.5.4 2.1.4-.2.4-2.5.4 1.4.4.1.4.3.4.1.4-1.4.4.9.4-1.5.4 2.3.4-3 .4 4.1" stroke="#eca32c" stroke-width="1.3"/>
<path d="M425 152.6l1.5 1.4 1.4 1.3 1.5 1.3 1.5 1 1.5.8 1.4.7 1.5.8 1.5.7 1.5.7 1.4.6 1.5.7 1.5.6 1.5.7 1.4.5 1.5.4 1.5.4 1.5.4 1.4.4 1.5.2 0 4.6-1.5-.3-1.4-.4-1.5-.4-1.5-.4-1.5-.4-1.4-.5-1.5-.7-1.5-.6-1.5-.7-1.4-.6-1.5-.7-1.5-.7-1.5-.8-1.4-.7-1.5-.8-1.5-1-1.5-1.3-1.4-1.3-1.5-1.3z" fill="#1000ff" stroke="none"/>
<path d="M274.5 79.9l.4 0 .4 0 .5.1.6 0 .6 0 .7 0 .7.1.7 0 .8 0 .7.1.8 0 .9 0 .8.1.8 0 .8 0 .8.1.9 0 .7.1.8 0 .7 0 .7.1.7 0 .8 0 .7.1.7 0 .7.1.7 0 .7.1.7 0 .6 0 .7.1.7 0 .6.1.7 0 .7.1.7 0 .7.1.8 0 .8.1.8 0 .6 0 .7.1.6 0 .7.1.7 0 .7 0 .7.1.8 0 .7.1.7 0 .8.1.7 0 .8.1.7 0 .8 0 .7.1.8 0 .7.1.7 0 .8.1.7 0 .7 0 .7.1.7 0 .7 0 .8.1.7 0 .8 0 .7.1.7 0 .8 0 .7.1.7 0 .7 0 .7.1.7 0 .8 0 .7.1.7 0 .7 0 .7 0 .7 0 .6.1.7 0 .7 0 .7 0 .8 0 .7 0 .8 0 .8 0 .7 0 .8 0 .8 0 .7 0 .8 0 .8 0 .7 0 .7 0 .7 0 .7 0 .7 0 .7 0 .6-.1.6 0 .6 0 .6 0 1 0 .9-.1.8 0 .7 0 .6 0 .6-.1.7 0 .7-.1.7 0 .9-.1.6 0 .7-.1.6-.1.7 0 .6-.1.7 0 .7-.1.7-.1.8 0 .7-.1.8-.1.8 0 .8-.1.8 0 .9-.1.6 0 .6-.1.7 0 .6 0 .7-.1.6 0 .7-.1.7 0 .7 0 .7-.1.7 0 .7 0 .7 0 .8-.1.7 0 .7 0 .8 0 .7-.1.8 0 .7 0 .8 0 .7 0 .7 0 .7 0 .7 0 .7 0 .7 0 .8 0 .8 0 .7 0 .8 0 .8.1.7 0 .8 0 .8 0 .7 0 .8.1.7 0 .7 0 .7 0 .7.1.7 0 .6 0 .6.1.6 0 .5.1.5 0 1.2.1 1.1.2.8.2.8.2.6.3.6.2.5.2.5.2.5.2 1 .1.8 0 .7.2.5.9.1.4.2.5.1.6 0 .6.1.6.1.7.1.7 0 .8.1.8.1.8 0 .8.1.8.1.8 0 .8.1.8.1.7 0 .6.1.7.1.7 0 .6.1.7 0 .7.1.7.1.8 0 .7.1.7.1.8 0 .7.1.8.1.7 0 .8.1.8.1.8.1.7 0 .6.1.7.1.8 0 .7.1.7.1.7 0 .8.1.7.1.8.1.7 0 .8.1.7.1.8 0 .8.1.7.1.7.1.8.1.7 0 .7.1.7.1.7.1.7.1.8.1.7.1.8 0 .7.1.8.1.7.1.7.1.8.1.7.1.7.1.7.1.7.1.7.1.6.1.7.1.6.2.7.1.6.1.6.2.8.2.9.2.8.2.8.2.7.2.8.2.7.2.7.2.7.2.7.3.6.2.6.3.6.2.6.4.8.4.8.5.7.4.7.5.6.4.6.5.6.3.4.4.5.2.3 0 .4.4-.6.4.3.4.2.4.4.4 1.5.4-.2.4 2.2.4-.8.4-.6.4-.1.4-.3.4 2 .4 1.2.4-1 .4 2.9.4-1.1.4 1.7.4-3.1.4 3.2.3.3.4-1.2.4-1.2.4.3.4 1.2.4.7.4-.7.4-2.2.4.6.4 2.1.4.2.4-1.1.4 2.2.4-.3.4-.2.4-.4.4.4.4 2.1.4 1 .4-1.3.4 0 .4-1.1.4 1.9.4 0 .4-2.2.4.3.4 2.9.4-3.8.4 1.3.4.2.4 2 .4-1.7.4-.5.4-1.3.4.4.4 4.2.4 1.5.4-.5.4 1.1.3-3.1.4-.1.4.1.4 2.2.4-3.7.4 1.7.4 1.6.4-.9.4-1.5.4 3.8.4 1.8.4-6.1.4 5.2.4 2.1.4-2.1.4-3.1.4 3.2.4 1.5.4-4.1.4 3.1" stroke="#1000ff" stroke-width="1.3"/>
<path d="M274.5 79.9l.4 0 .4 0 .5.1.6 0 .6 0 .7 0 .7.1.7 0 .8 0 .7.1.8 0 .9 0 .8.1.8 0 .8 0 .8.1.9 0 .7.1.8 0 .7 0 .7.1.7 0 .8 0 .7.1.7 0 .7.1.7 0 .7.1.7 0 .6 0 .7.1.7 0 .6.1.7 0 .7.1.7 0 .7.1.8 0 .8.1.8 0 .6 0 .7.1.6 0 .7.1.7 0 .7 0 .7.1.8 0 .7.1.7 0 .8.1.7 0 .8.1.7 0 .8 0 .7.1.8 0 .7.1.7 0 .8.1.7 0 .7 0 .7.1.7 0 .7 0 .8.1.7 0 .8 0 .7.1.7 0 .8 0 .7.1.7 0 .7 0 .7.1.7 0 .8 0 .7.1.7 0 .7 0 .7 0 .7 0 .6.1.7 0 .7 0 .7 0 .8 0 .7 0 .8 0 .8 0 .7 0 .8 0 .8 0 .7 0 .8 0 .8 0 .7 0 .7 0 .7 0 .7 0 .7 0 .7 0 .6-.1.6 0 .6 0 .6 0 1 0 .9-.1.8 0 .7 0 .6 0 .6-.1.7 0 .7-.1.7 0 .9-.1.6 0 .7-.1.6 0 .7-.1.7 0 .7-.1.8-.1.7 0 .8-.1.7 0 .8-.1.8-.1.7-.1.8 0 .8-.1.7-.1.7-.1.7 0 .8-.1.7-.1.8-.1.7-.1.8-.1.7-.1.8-.1.7-.1.8-.1.7-.1.8-.1.7 0 .7-.1.7 0 .8 0 .8 0 .7 0 .8 0 .8.1.7 0 .7.1.8.1.7 0 .7.1.7.1.8 0 .6.1.7 0 .7 0 .8 0 .8 0 .8-.1.7 0 .7-.1.8 0 .7-.1.7 0 .7-.1.8 0 .7 0 .8 0 .7 0 .7 0 .8-.1.8 0 .8 0 .8-.1.8 0 .8 0 .8.1.7.1.7.1.6.3.5.3.5.4.3.4.3.5.2.6.2.6.2.6.1.7.1.7 0 .8.1.8 0 .8 0 .8 0 .8.1.9 0 .8.1.9.1.8.1.6.1.7 0 .7.1.6.1.7.1.7.1.7 0 .7.1.7.1.8.1.7.1.7 0 .8.1.7.1.7.1.8.1.7 0 .8.1.7.1.8.1.7.1.7.1.7 0 .7.1.7.1.7.1.7.1.7.1.7 0 .8.1.7.1.7.1.7.1.8.1.7.1.7 0 .7.1.7.1.7.1.6.1.7.1.7.1.6.1.6.1.8.2.8.1.8.1.8.2.8.1.7.2.8.1.7.2.7.1.7.2.7.1.7.2.6.1.6.2.6.1.6.2.6.3.9.3.9.3.8.3.7.3.7.3.7.3.6.3.6.3.5.3.6.5.8.4.7.5.6.5.6.5.5.3.5.3.3-1-.2.4 2.1.4-2.7.4.5.4.6.4-.2.4 1.7.4.2.4-1.7.4 1 .4-.7.4.5.4 2 .4-.6.4-1 .4 2.3.4.3.4.4.4-.8.4 2.9.3-1.1.4-2.1.4 3.6.4-.2.4-3.3.4 2 .4 1.4.4-.2.4.4.4.7.4-.6.4-.4.4 1 .4 1 .4 1.1.4 1.5.4-3.7.4.6.4.5.4 3 .4-3.9.4 1.1.4 3.7.4-.6.4-4.3.4 3.7.4-1 .4.2.4-2.3.4 3.1.4 3.3.4-3.2.4-.7.4 1.1.4 0 .4 2.1.4-2.8.4.7.4 4.8.3-2.5.4-1.2.4 2.5.4-3 .4 5.2.4-4.9.4 2.7.4-2.2.4-2.1.4 2.9.4 5.1.4-4 .4-.8.4.8.4.8.4-1.3.4-.2.4 1.8.4-3.9.4 2.4" stroke="#a52a2a" stroke-width="1.3"/>
<path d="M425 159.3l1.5 1.3 1.4 1.2 1.5 1.3 1.5 1 1.5.9 1.4.8 1.5.8 1.5.6 1.5.6 1.4.6 1.5.5 1.5.4 1.5.4 1.4.3 1.5.2 1.5.2 1.5.2 1.4.2 1.5.1 0 3.2-1.5-.2-1.4-.2-1.5-.1-1.5-.2-1.5-.2-1.4-.4-1.5-.4-1.5-.4-1.5-.4-1.4-.7-1.5-.6-1.5-.6-1.5-.8-1.4-.8-1.5-.8-1.5-1-1.5-1.3-1.4-1.3-1.5-1.3z" fill="#ff1500" stroke="none"/>
<path d="M274.5 79.9l.4 0 .4 0 .5.1.6 0 .6 0 .7 0 .7.1.7 0 .8 0 .7.1.8 0 .9 0 .8.1.8 0 .8 0 .8.1.9 0 .7.1.8 0 .7 0 .7.1.7 0 .8 0 .7.1.7 0 .7.1.7 0 .7.1.7 0 .6 0 .7.1.7 0 .6.1.7 0 .7.1.7 0 .7.1.8 0 .8.1.8 0 .6 0 .7.1.6 0 .7.1.7 0 .7 0 .7.1.8 0 .7.1.7 0 .8 0 .7.1.8 0 .7.1.8 0 .7 0 .8.1.7 0 .7.1.8 0 .7.1.7 0 .7.1.7 0 .7.1.8 0 .7.1.8 0 .7.1.7.1.8 0 .7.1.7.1.7 0 .7.1.7 0 .8.1.7.1.7 0 .7.1.7 0 .7.1.6 0 .7 0 .7.1.7 0 .7 0 .8 0 .7 0 .7.1.7 0 .7 0 .6 0 .7 0 .7-.1.7 0 .7 0 .6 0 .7 0 .7-.1.8 0 .7 0 .7-.1.8 0 .8-.1.8 0 .6 0 .7-.1.7 0 .7-.1.7 0 .7-.1.7-.1.8 0 .7-.1.8-.1.7 0 .8-.1.7-.1.8 0 .7-.1.8-.1.7-.1.8 0 .7-.1.7-.1.7-.1.7 0 .7-.1.6-.1.7 0 .6-.1.8-.1.8-.1.8-.1.8-.1.7-.1.7-.1.8-.1.6-.1.7-.2.7-.1.7-.1.6-.1.7-.1.6 0 .7-.1.6-.1.6 0 .7-.1.6 0 .8 0 .8 0 .8 0 .7.1.8 0 .7.1.8.1.7.1.7.1.7.1.7.1.7 0 .7.1.7.1.6 0 .8 0 .7 0 .7 0 .7 0 .7-.1.7 0 .6-.1.7 0 .6 0 .7 0 .8 0 .7 0 .7 0 .7 0 .8 0 .8-.1.8 0 .8 0 .8 0 .8 0 .8.1.7.1.7.2.6.2.5.3.5.4.3.4.3.5.2.5.2.6.1.7.1.6.1.8 0 .7 0 .8 0 .8 0 .8 0 .8.1.8 0 .8 0 .8.1.8.1.6 0 .7.1.6.1.7 0 .7.1.6.1.7 0 .7.1.7 0 .7.1.7.1.7 0 .7.1.8.1.7 0 .7.1.8.1.7 0 .8.1.7.1.7 0 .7.1.7.1.7.1.7 0 .7.1.8.1.7.1.8 0 .7.1.7.1.8.1.7 0 .8.1.7.1.8.1.7.1.7 0 .8.1.7.1.7.1.7.1.7.1.8.1.7 0 .8.1.7.1.7.1.8.1.7.1.8.1.7.1.7.1.7.1.7 0 .8.1.7.1.7.2.6.1.7.1.7.1.7.1.6.1.8.2.8.2.7.1.8.2.7.2.7.1.8.2.7.2.7.2.7.2.6.2.7.1.7.2.6.2.7.2.7.2.6.2.7.3.8.2.8.3.8.3.8.2.7.3.8.3.7.2.7.3.7.2.6.2.6.2.5.2.4.1.4 0 .8.4-1.1.4 2.3.4-.8.4.9.4.1.4-1.7.4 1.3.4 1.5.4-.4.4-.2.4.8.4 1.5.4-.4.4.8.4-2 .4 2.8.4-.7.4 1.9.4-2.2.3.8.4-1.1.4 2.4.4.1.4-1.5.4.8.4.6.4 1.1.4.5.4-1 .4 1.6.4-.9.4.4.4-.2.4-.9.4.9.4 1.9.4-3.2.4 1.1.4 1.3.4.5.4-2.8.4 4.8.4-2.2.4.8.4 0 .4-1.7.4-.4.4 4.8.4-5.1.4 4.9.4-2.1.4 1.2.4-2.3.4.2.4-.4.4 3.8.4-1.6.4-1.2.3.1.4 2 .4.7.4-4.5.4.8.4 2.5.4-2 .4 2.3.4-4.1.4 6.7.4-2.4.4 1.5.4-1.6.4 1.7.4.1.4.7.4-3.5.4-.3.4.1.4 1.9" stroke="#ff1500" stroke-width="1.3"/>
<path d="M424.5 139.3l1.5 1.8 1.5 1.1 1.5 1 1.5 1 1.5.9 1.5 1 1.5.9 1.5.9 1.5.9 1.5.9 1.5.8 1.5.8 1.5.7 1.5.8 1.5.5 1.5.6 1.5.6 1.5.8 1.5.7 0 10-1.5-.8-1.5-1.1-1.5-.8-1.5-.8-1.5-.8-1.5-.9-1.5-1.1-1.5-1-1.5-1-1.5-1-1.5-1-1.5-1.1-1.5-1-1.5-1.1-1.5-1-1.5-1.7-1.5-2-1.5-1.9-1.5-2.7z" fill="#7e1b8d" stroke="none"/>
<path d="M274.5 79.9l.4 0 .4 0 .5.1.6 0 .6 0 .7 0 .7.1.7 0 .8 0 .7.1.8 0 .9 0 .8.1.8 0 .8 0 .8.1.9 0 .7.1.8 0 .7 0 .7.1.7 0 .8 0 .7.1.7 0 .7.1.7 0 .7.1.7 0 .6 0 .7.1.7 0 .6.1.7 0 .7.1.7 0 .7.1.8 0 .8.1.8 0 .6 0 .7.1.6 0 .7.1.7 0 .7 0 .7.1.8 0 .7.1.7 0 .8.1.7 0 .8.1.7 0 .8 0 .7.1.8 0 .7.1.7 0 .8.1.7 0 .7 0 .7.1.7 0 .7 0 .8.1.7 0 .8 0 .7.1.7 0 .8 0 .7.1.7 0 .7 0 .7.1.7 0 .8 0 .7.1.7 0 .7 0 .7 0 .7 0 .6.1.7 0 .7 0 .7 0 .8 0 .7 0 .8 0 .8 0 .7 0 .8 0 .8 0 .7 0 .8 0 .8 0 .7 0 .7 0 .7 0 .7 0 .7 0 .7 0 .6-.1.6 0 .6 0 .6 0 1 0 .9-.1.8 0 .7 0 .6 0 .6-.1.7 0 .7-.1.7 0 .9-.1.6 0 .7-.1.6 0 .7-.1.7-.1.7 0 .8-.1.7 0 .8-.1.7-.1.8 0 .8-.1.7-.1.8 0 .8-.1.7-.1.7 0 .7-.1.8-.1.7-.1.8-.1.7-.1.8-.1.7 0 .8-.1.7-.1.8-.1.7 0 .8-.1.7 0 .7-.1.7 0 .8 0 .8 0 .7 0 .8.1.7 0 .8.1.7 0 .8.1.7.1.7 0 .7.1.7 0 .7.1.7 0 .7 0 .8 0 .7-.1.8 0 .7-.1.7-.1.8 0 .7-.1.7-.1.7-.1.7 0 .7-.1.7 0 .7 0 .7 0 .8 0 .8 0 .8 0 .7 0 .8.1.8 0 .7.1.7.1.7.1.6.2.5.2.5.3.5.5.4.5.3.5.2.7.1.7.1.7.1.9.1 1 .2 1.1.1.5.1.6.1.6.1.6.1.6.1.7.1.7.1.7.1.7.1.7.1.8.1.7.1.8.1.7.1.8.1.8.1.7.1.8.1.7.1.8.1.7.1.6.1.7.1.7.1.7.1.7.1.8.1.7.1.7.2.7.1.8.1.7.1.7.1.7.1.8.1.7.1.7.1.7.2.6.1.7.1.6.1.7.1.6.1.8.2.8.1.8.2.8.2.8.1.8.2.8.1.7.2.7.1.7.2.7.1.7.1.6.2.6.1.6.2.6.1.5.3 1 .2.9.3.7.2.6.2.6.3.5.2.6.3.6.4.7.4.8.4.7.4.7.4.7.3.5.2.4 0 .4.4 2.2.4-1.2.4-2.5.4 2.5.4 6.3.4-2.7.4 4.5.4-6.1.4.8.4 2.4.4-3.1.4 1.5.4 4.5.4-8.8.4-1.1.4 10.2.4-1.3.4-1.6.4 3.9.3-3 .4-1.1.4 2.7.4-2.3.4-2.6.4 10.5.4 1.3.4-5 .4-2.6.4 2.9.4 3.9.4-5.4.4-1.3.4 2.7.4-3 .4 6.9.4 2.4.4-6 .4 4.6.4-10.9.4 5.5.4 10.1.4-10.5.4 2.5.4 4.5.4-10.6.4 10.1.4.1.4-4.5.4-3 .4 3.5.4-.1.4.9.4 12.1.4-8.2.4 2.5.4-5.2.4 0 .4 3.1.3-1.3.4-1.2.4-.3.4 3.3.4 3.6.4 4.2.4-16.1.4 11.8.4-2.3-.2 7.9.3-101.6.3 101.6 0-3.8.2-97.6.2 97.6 0-1.6.3-92.5.3 92.5-.2 0 .4-2.8.4 7.7.4-2.4.4-6.8.4.3.4 3.5.4-3.5.4-2.9" stroke="#7e1b8d" stroke-width="1.3"/>
</g>
<path d="M274.5 181.5v3.4M311.1 181.5v3.4M347.8 181.5v3.4M384.4 181.5v3.4M421 181.5v3.4M274.5 63.5h-3.4M274.5 97h-3.4M274.5 130.5h-3.4M274.5 164h-3.4" stroke="#333" stroke-width="0.8" fill="none"/>
<path d="M285.5 181.5v1.9M292 181.5v1.9M296.6 181.5v1.9M300.1 181.5v1.9M303 181.5v1.9M305.5 181.5v1.9M307.6 181.5v1.9M309.4 181.5v1.9M322.2 181.5v1.9M328.6 181.5v1.9M333.2 181.5v1.9M336.7 181.5v1.9M339.6 181.5v1.9M342.1 181.5v1.9M344.2 181.5v1.9M346.1 181.5v1.9M358.8 181.5v1.9M365.2 181.5v1.9M369.8 181.5v1.9M373.4 181.5v1.9M376.3 181.5v1.9M378.7 181.5v1.9M380.8 181.5v1.9M382.7 181.5v1.9M395.4 181.5v1.9M401.9 181.5v1.9M406.4 181.5v1.9M410 181.5v1.9M412.9 181.5v1.9M415.3 181.5v1.9M417.5 181.5v1.9M419.3 181.5v1.9M432 181.5v1.9M438.5 181.5v1.9M443.1 181.5v1.9M446.6 181.5v1.9M449.5 181.5v1.9M452 181.5v1.9" stroke="#333" stroke-width="0.6" fill="none"/>
<rect x="274.5" y="61.5" width="178" height="120" fill="none" stroke="#3a3a3a" stroke-width="0.8"/>
<text x="274.8" y="194.8" text-anchor="middle" class="t">10<tspan class="s" dy="-4.3">0</tspan></text>
<text x="311.4" y="194.8" text-anchor="middle" class="t">10<tspan class="s" dy="-4.3">1</tspan></text>
<text x="348.1" y="194.8" text-anchor="middle" class="t">10<tspan class="s" dy="-4.3">2</tspan></text>
<text x="384.7" y="194.8" text-anchor="middle" class="t">10<tspan class="s" dy="-4.3">3</tspan></text>
<text x="421.3" y="194.8" text-anchor="middle" class="t">10<tspan class="s" dy="-4.3">4</tspan></text>
<text x="268.5" y="67.1" text-anchor="end" class="t">10<tspan class="s" dy="-4.3">1</tspan></text>
<text x="268.5" y="100.6" text-anchor="end" class="t">10<tspan class="s" dy="-4.3">−1</tspan></text>
<text x="268.5" y="134.1" text-anchor="end" class="t">10<tspan class="s" dy="-4.3">−3</tspan></text>
<text x="268.5" y="167.6" text-anchor="end" class="t">10<tspan class="s" dy="-4.3">−5</tspan></text>
<path d="M516.5 61.5V181.5M522.9 61.5V181.5M527.4 61.5V181.5M531 61.5V181.5M533.8 61.5V181.5M536.3 61.5V181.5M538.4 61.5V181.5M540.3 61.5V181.5M552.9 61.5V181.5M559.3 61.5V181.5M563.9 61.5V181.5M567.4 61.5V181.5M570.3 61.5V181.5M572.7 61.5V181.5M574.8 61.5V181.5M576.7 61.5V181.5M589.3 61.5V181.5M595.7 61.5V181.5M600.3 61.5V181.5M603.8 61.5V181.5M606.7 61.5V181.5M609.1 61.5V181.5M611.3 61.5V181.5M613.1 61.5V181.5M625.8 61.5V181.5M632.2 61.5V181.5M636.7 61.5V181.5M640.3 61.5V181.5M643.1 61.5V181.5M645.6 61.5V181.5M647.7 61.5V181.5M649.6 61.5V181.5M662.2 61.5V181.5M668.6 61.5V181.5M673.2 61.5V181.5M676.7 61.5V181.5M679.6 61.5V181.5M682 61.5V181.5" stroke="#000" stroke-opacity="0.085" stroke-width="0.8" stroke-dasharray="2.6 1.1 1.8 1.1" fill="none"/>
<path d="M541.9 61.5V181.5M578.4 61.5V181.5M614.8 61.5V181.5M651.2 61.5V181.5M505.5 82.4H683.5M505.5 109H683.5M505.5 135.6H683.5M505.5 162.2H683.5" stroke="#000" stroke-opacity="0.13" stroke-width="0.8" stroke-dasharray="3.2 1.3" fill="none"/>
<g clip-path="url(#c02)" fill="none" stroke-linejoin="round" stroke-linecap="round">
<path d="M505.5 66.6l.4 0 .5 0 .6 0 .7 0 .7.1.7 0 .9 0 .8 0 .8 0 .9 0 .8.1.9 0 .8 0 .7 0 .6 0 .7.1.8 0 .7 0 .7 0 .8 0 .7.1.7 0 .8 0 .7 0 .7.1.7 0 .7 0 .7.1.6 0 .8.1.8 0 .8.1.7 0 .7.1.7.1.7 0 .7.1.7.1.7 0 .7.1.7.1.7.1.8.1.8.1.7.1.8.1.8.1.7.1.8.1.7.1.7.1.7.1.6.1.8.1.7.2.7.1.7.2.6.1.7.1.6.2.7.1.7.2.7.2.6.1.7.2.7.2.7.2.7.1.7.2.7.1.7.1.7.1.7 0 .8 0 .7 0 .8-.1.7-.1.7-.1.7-.1.8 0 .7 0 .7 0 .7.1.8.1.7.1.7.1.7.2.8.1.7.1.7.1.7.1.7.1.7 0 .6.1.7 0 .7.1.8.1.8 0 .9.1.6 0 .7.1.7 0 .7.1.7 0 .7.1.8 0 .8 0 .7.1.8 0 .8.1.8 0 .8.1.8 0 .7 0 .7.1.7 0 .7 0 .8.1.7 0 .8 0 .7.1.7 0 .8 0 .7 0 .7.1.8 0 .7 0 .6.1.7 0 .8 0 .8.1.8 0 .7.1.8 0 .7.1.7 0 .7.1.8 0 .7.1.6 0 .7.1.7 0 .8 0 .7.1.7 0 .7.1.7 0 .6 0 .7.1.7 0 .8 0 .8.1.8 0 .7 0 .7 0 .7 0 .7 0 .8.1.8 0 .8 0 .8 0 .8 0 .8 0 .7 0 .8 0 .7 0 .6 0 .6 0 1 0 .9 0 .7.1.7 0 .7 0 .6 0 .7.1.7 0 .8 0 .8 0 .8.1.8 0 .8 0 .8.1.6.1.6.2.7.3.4.2.3.5.3.7.3 1.3.1.5.1.5.1.6 0 .6.1.6.1.7.1.7 0 .7.1.8.1.8 0 .8.1.8.1.8 0 .8.1.8.1.9 0 .8.1.8.1.7 0 .7.1.7 0 .7 0 .7.1.8 0 .7.1.8 0 .8.1.8 0 .7 0 .8.1.8 0 .7.1.8 0 .7.1.7 0 .8.1.6 0 .7.1.7 0 .6.1.9.1.9 0 .9.1.9.1.8.1.9.1.8.1.8.1.7.1.7.1.7 0 .6.1.5.1.5 0 .4-.5-.5.5 0 .4 1.6.5 1.9.4.3.5 1.3.4 1.6.5 3 .4-.6.5 3.4.4.8.5-1.2.4 2.8.5.6.4.8.5 3.9.4-3.5.5.7.4 5.5.5-2.2.4-.4.5 1.2.4.7.5 3.6.4-3.2.5.6.4 2.4.5.3.4 2.6.5-.1.4-2.1.5-.4.5 3.8.4 1.3.5-4.6.4 4.2.5 1 .4-.8.5-1.9.4 3.4.5 0 .4-2.6.5 2.8.4-2 .5-.6.4 2 .5.3.4.7.5 1.7.4 1.3.5 1.1.4.4.5.4.4-.7.5-2.4.4-.4.5 2.9.4-.1.5 1 .4-2.9.5.9.4 4.4.5-1.4.5.8.4-3.2.5 2 .4 3.2.5-1.2.4 2.2.5-4.3.4 1.7.5 2.3.4-1.8.5 2.3.4-1.1.5-2.3.4.2.5 5.4.4-4.8.5.8.4 1.1.5 2.5.4 1.1.5-1.9.4.4.5 2 .4-2.8.5.9.4 1.6.5.1.4-3.6.5.5.4.1.5 3.6" stroke="#000000" stroke-width="1.75"/>
<path d="M505.5 66.6l.4 0 .5 0 .6 0 .7 0 .7.1.7 0 .9 0 .8 0 .8 0 .9 0 .8.1.9 0 .8 0 .7 0 .6 0 .7.1.8 0 .7 0 .7 0 .8 0 .7.1.7 0 .8 0 .7 0 .7.1.7 0 .7 0 .7.1.6 0 .8.1.8 0 .8.1.7 0 .7.1.7.1.7 0 .7.1.7.1.7 0 .7.1.7.1.7.1.8.1.8.1.7.1.8.1.8.1.7.1.8.1.7.1.7.1.7.1.6.1.8.1.7.2.7.1.7.2.6.1.7.1.6.2.7.1.7.2.7.2.6.1.7.2.7.2.7.2.7.1.7.2.7.1.7.1.7.1.7 0 .8 0 .7 0 .8-.1.7-.1.7-.1.7-.1.8 0 .7 0 .7 0 .7.1.8.1.7.1.7.1.7.2.8.1.7.1.7.1.7.1.7.1.7 0 .6.1.7 0 .7.1.8.1.8 0 .9.1.6 0 .7.1.7 0 .7.1.7 0 .7.1.8 0 .8 0 .7.1.8 0 .8.1.8 0 .8.1.8 0 .7 0 .7.1.7 0 .7 0 .8.1.7 0 .8 0 .7.1.7 0 .8 0 .7 0 .7.1.8 0 .7 0 .6.1.7 0 .8 0 .8.1.8 0 .7.1.8 0 .7.1.7 0 .7.1.8 0 .7.1.6 0 .7.1.7 0 .8 0 .7.1.7 0 .7.1.7 0 .6 0 .7.1.7 0 .8 0 .8.1.8 0 .7 0 .7 0 .7 0 .7.1.8 0 .8 0 .8 0 .8 0 .8 0 .8 0 .7 0 .8 0 .7 0 .6 0 .6 0 1 0 .8-.1.8 0 .7-.1.6 0 .7-.1.7 0 .7 0 .7 0 .8 0 .8 0 .8 0 .8 0 .7.1.7.1.7.1.5.2.7.4.5.3.3.6.2.8.3 1.4.1.5.1.5.1.6 0 .6.1.6.1.7.1.7 0 .8.1.7.1.8 0 .8.1.8.1.8 0 .8.1.8.1.9 0 .8.1.8.1.7 0 .7.1.7 0 .7 0 .7.1.8 0 .7.1.8 0 .7.1.8 0 .8 0 .7.1.8 0 .8.1.7 0 .7.1.8 0 .7.1.7 0 .7.1.7 0 .6.1.8 0 .9.1.8.1.9.1.8.1.8 0 .8.1.8.1.8.1.7.1.7 0 .7.1.6.1.6 0 .5.1.4 0 .4-1-.4.5.1.4.1.5 2.3.4 1.7.5 2.3.4 1.4.5 2.6.4 2.5.5 1.6.4 1.8.5 1.1.4.6.5.8.4 2.2.5.4.4 1.1.5 2.2.4 1.3.5.8.4 1 .5-.3.4.6.5.8.4 2.1.5-.6.4.9.5.4.4.6.5.5.4 1 .5.2.5.7.4 1.6.5-.8.4 1.7.5.3.4.2.5.5.4.9.5.1.4-.2.5.7.4.4.5.8.4 1.6.5-.6.4-.3.5 1.2.4 1.1.5-.5.4 1 .5-1 .4.3.5 1.7.4-1.1.5 1 .4.5.5-.1.4 0 .5.2.4 2.7.5-.3.5.9.4-.7.5 1.5.4.1.5-.3.4.1.5.3.4-.4.5.7.4 1.2.5-1.2.4 2 .5-.7.4.5.5.9.4-.3.5-1.2.4.6.5-.5.4.3.5 2.9.4-.8.5 1.4.4-.3.5-1.2.4 2.1.5-.1.4-1.4.5-1.2.4.8.5-.5" stroke="#338a16" stroke-width="1.3"/>
<path d="M505.5 66.6l.4 0 .5 0 .6 0 .7 0 .7.1.7 0 .9 0 .8 0 .8 0 .9 0 .8.1.9 0 .8 0 .7 0 .6 0 .7.1.8 0 .7 0 .7 0 .8 0 .7.1.7 0 .8 0 .7 0 .7.1.7 0 .7 0 .7.1.6 0 .8.1.8 0 .8.1.7 0 .7.1.7.1.7 0 .7.1.7.1.7 0 .7.1.7.1.7.1.8.1.8.1.7.1.8.1.8.1.7.1.8.1.7.1.7.1.7.1.6.1.8.1.7.2.7.1.7.2.6.1.7.1.6.2.7.1.7.2.7.2.6.1.7.2.7.2.7.2.7.1.7.2.7.1.7.1.7.1.7 0 .8 0 .7 0 .8-.1.7-.1.7-.1.7-.1.8 0 .7 0 .7 0 .7.1.8.1.7.1.7.1.7.2.8.1.7.1.7.1.7.1.7.1.7 0 .6.1.7 0 .7.1.8.1.8 0 .9.1.6 0 .7.1.7 0 .7.1.7 0 .7.1.8 0 .8 0 .7.1.8 0 .8.1.8 0 .8.1.8 0 .7 0 .7.1.7 0 .7 0 .8.1.7 0 .8 0 .7.1.7 0 .8 0 .7 0 .7.1.8 0 .7 0 .6.1.7 0 .8 0 .8.1.8 0 .7.1.8 0 .7.1.7 0 .7.1.8 0 .7.1.6 0 .7.1.7 0 .8 0 .7.1.7 0 .7.1.7 0 .6 0 .7.1.7 0 .8 0 .8.1.8 0 .7 0 .7 0 .7 0 .8 0 .8 0 .9 0 .8 0 .8 0 .8 0 .8 0 .7 0 .7 0 .7 0 .6.1.5 0 1.4.2.8.2.5.3.6.4.6.5.5.6.5.7.6.7.5.6.6.5.5.5.6.5.5.5.6.4.7.5.7.5.7.4.6.2.7-.4.7-.8.6-.3.4.2.3.4.2.8.3 1.6.1.5 0 .5.1.6.1.6 0 .7.1.7 0 .8.1.7.1.8 0 .8.1.9 0 .8.1.8.1.8 0 .8.1.7 0 .8.1.7.1.7 0 .8.1.7 0 .7.1.8.1.7 0 .7.1.7 0 .7.1.8 0 .7.1.6.1.7 0 .7.1.7 0 .6.1.7.1.8.1.8.1.9.1.8.1.8.1.9.1.8.1.7.1.7 0 .7.1.7.1.5.1.5 0 .4-1 .1.5 0 .4.2.5 1.1.4 2.5.5 2.4.4 2.1.5 1.3.4 2.7.5 1.9.4 1 .5 1.7.4.6.5 1 .4 1.8.5.7.4.7.5 1.1.4 1.3.5.2.4 1.6.5.9.4.4.5 1.4.4.9.5.2.4 1 .5-.2.4.5.5 2.1.4-.6.5.4.5 1.8.4.3.5-.6.4.9.5.4.4.5.5-.1.4 1.5.5 0 .4.6.5 0 .4.3.5.3.4 2.2.5.2.4.1.5-.5.4.5.5.3.4.8.5-.2.4.8.5.2.4.4.5 1.4.4-.1.5.4.4.1.5.8.4 1 .5-.8.5-.3.4 1.4.5 0 .4 1.3.5-1.4.4 2.3.5-2 .4 1.7.5.1.4-.1.5 1.9.4-.2.5-1.2.4 1.2.5.6.4-1.3.5.4.4 1.7.5.7.4-.5.5.2.4.5.5-.4.4 2.1.5.6.4-1.4.5-1.3.4 1.1.5 1.2.4-1.4.5-.7" stroke="#eca32c" stroke-width="1.3"/>
<path d="M505.5 66.6l.4 0 .5 0 .6 0 .7 0 .7.1.7 0 .9 0 .8 0 .8 0 .9 0 .8.1.9 0 .8 0 .7 0 .6 0 .7.1.8 0 .7 0 .7 0 .8 0 .7.1.7 0 .8 0 .7 0 .7.1.7 0 .7 0 .7.1.6 0 .8.1.8 0 .8.1.7 0 .7.1.7.1.7 0 .7.1.7.1.7 0 .7.1.7.1.7.1.8.1.8.1.7.1.8.1.8.1.7.1.8.1.7.1.7.1.7.1.6.1.8.1.7.2.7.1.7.2.6.1.7.1.6.2.7.1.7.2.7.2.6.1.7.2.7.2.7.2.7.1.7.2.7.1.7.1.7.1.7 0 .8 0 .7 0 .8-.1.7-.1.7-.1.7-.1.8 0 .7 0 .7 0 .7.1.8.1.7.1.7.1.7.2.8.1.7.1.7.1.7.1.7.1.7 0 .6.1.7 0 .7.1.8.1.8 0 .9.1.6 0 .7.1.7 0 .7.1.7 0 .7.1.8 0 .8 0 .7.1.8 0 .8.1.8 0 .8.1.8 0 .7 0 .7.1.7 0 .7 0 .8.1.7 0 .8 0 .7.1.7 0 .8 0 .7 0 .7.1.8 0 .7 0 .6.1.7 0 .8 0 .8.1.8 0 .7.1.8 0 .7.1.7 0 .7.1.8 0 .7.1.6 0 .7.1.7 0 .8 0 .7.1.7 0 .7.1.7 0 .6 0 .7.1.7 0 .8 0 .8.1.8 0 .7 0 .7 0 .7 0 .8 0 .9 0 .8 0 .8-.1.9 0 .8 0 .8 0 .7 0 .7.1.7 0 .5 0 .5.1 1.2.4.4.5.2.6.4.7.4.6.4.6.4.7.3.7.4.7.4.7.3.7.4.6.3.7.3.6.4.6.4.5.6.6.7.5.7.5.7.4.6.2.8 0 .7-.3.6-.6.4-.7.4-.9.4-.8.3-.6 1 .5.1.4 0 .5.1.6.1.6 0 .7.1.7.1.8 0 .8.1.9.1.8 0 .8.1.9.1.9 0 .8.1.8.1.7 0 .7.1.7 0 .7.1.7 0 .8.1.7.1.8 0 .7.1.7 0 .8.1.7.1.8 0 .7.1.7.1.7 0 .7.1.7.1.8.1.9.1.8.1.9.1.8.1.9.1.8.1.8.1.8.1.7.1.7.1.6.1.6 0 .5.1.4-1 0 .5.1.4.3.5 1.6.4 1.9.5 1.4.4 2.7.5 1.3.4 1.8.5 1.5.4 1.6.5.5.4 1.2.5 1.5.4 1.2.5 1 .4 0 .5 1 .4 1.2.5 1.3.4 1.3.5.7.4 1.1.5.1.4.9.5.2.4.8.5.5.4 1.2.5.7.4.5.5.2.5.6.4.2.5 1.8.4 0 .5.9.4.5.5-.8.4-.1.5.8.4 1.9.5.1.4-.6.5 1.3.4-.7.5 1.7.4-1.6.5 2.1.4 1 .5-1.1.4.5.5-.6.4.8.5.2.4.6.5-.3.4 1 .5-.2.4 1.6.5.1.4-.2.5 2.6.5-1.7.4 1.1.5 1.5.4-.1.5 1 .4-.8.5 1.2.4-2.4.5 2.7.4-1.1.5.3.4 1.9.5.3.4-1.2.5.4.4 0 .5 2.7.4-.9.5-1.1.4 1.4.5-1.6.4 1.1.5 1.2.4 2.2.5-.2.4-1.1.5.9.4-2.1.5 1.8.4 1.2.5-3.4" stroke="#1000ff" stroke-width="1.3"/>
<path d="M505.5 66.6l.4 0 .5 0 .6 0 .7 0 .7.1.7 0 .9 0 .8 0 .8 0 .9 0 .8.1.9 0 .8 0 .7 0 .6 0 .7.1.8 0 .7 0 .7 0 .8 0 .7.1.7 0 .8 0 .7 0 .7.1.7 0 .7 0 .7.1.6 0 .8.1.8 0 .8.1.7 0 .7.1.7.1.7 0 .7.1.7.1.7 0 .7.1.7.1.7.1.8.1.8.1.7.1.8.1.8.1.7.1.8.1.7.1.7.1.7.1.6.1.8.1.7.2.7.1.7.2.6.1.7.1.6.2.7.1.7.2.7.2.6.1.7.2.7.2.7.2.7.1.7.2.7.1.7.1.7.1.7 0 .8 0 .7 0 .8-.1.7-.1.7-.1.7-.1.8 0 .7 0 .7 0 .7.1.8.1.7.1.7.1.7.2.8.1.7.1.7.1.7.1.7.1.7 0 .6.1.7 0 .7.1.8.1.8 0 .9.1.6 0 .7.1.7 0 .7.1.7 0 .7.1.8 0 .8 0 .7.1.8 0 .8.1.8 0 .8.1.8 0 .7 0 .7.1.7 0 .7 0 .8.1.7 0 .8 0 .7.1.7 0 .8 0 .7 0 .7.1.8 0 .7 0 .6.1.7 0 .8 0 .8.1.8 0 .7.1.8 0 .7.1.7 0 .7.1.8 0 .7.1.6 0 .7.1.7 0 .8 0 .7.1.7 0 .7.1.7 0 .6 0 .7.1.7 0 .8 0 .8.1.8 0 .7 0 .7 0 .7.1.7 0 .8 0 .8 0 .8 0 .8 0 .8 0 .8 0 .7 0 .8 0 .7 0 .6 0 .6 0 1-.1.9-.1.7-.1.7-.1.7-.1.6-.1.7-.1.7 0 .8 0 .8.1.8 0 .8.1.8.1.8.2.6.2.6.2.7.4.4.4.3.5.3.9.3 1.3.1.5.1.5.1.6 0 .6.1.6.1.7.1.7 0 .8.1.7.1.8 0 .8.1.8.1.8 0 .8.1.8.1.9 0 .8.1.8.1.7 0 .7.1.7 0 .7 0 .7.1.8 0 .7.1.8 0 .7.1.8 0 .8 0 .7.1.8 0 .8.1.7 0 .7.1.8 0 .7.1.7 0 .7.1.7 0 .6.1.8 0 .9.1.8.1.9.1.8.1.8 0 .8.1.8.1.8.1.7.1.7 0 .7.1.6.1.6 0 .5.1.4 0 .4-.5 0 .5.3.4 1.3.5 1.6.4 0 .5 3.2.4.1.5 2 .4 1.4.5 2.1.4-2 .5 1.2.4 2.8.5.2.4 2 .5-1.5.4 4.5.5-4.8.4 5.1.5-1.5.4-1.6.5 4.5.4-3.3.5 1.7.4 1.1.5-.5.4.6.5 0 .4 5.4.5-4.5.4 1 .5-.1.5 5.8.4-1.9.5 2.3.4 1.4.5-2.8.4-.3.5.2.4-.5.5 2.5.4 2.8.5-2.8.4 2 .5 1.2.4-.1.5-.7.4-.6.5-2.8.4 2.2.5 3.7.4-2.6.5 2 .4-2.7.5 2.6.4-2.3.5 4.3.4.6.5-5.5.4 5 .5-3.9.4 6.6.5-5.4.5-.1.4 5.9.5-1.8.4-4.2.5 3.7.4 2.9.5-4.7.4 4.7.5-3.2.4 1.4.5-.1.4-2.4.5 2.9.4 1.3.5 1 .4-.3.5-2.6.4 3.7.5-2.2.4 5.1.5-6.1.4 5.7.5-5.2.4 4.1.5-1.4.4 1 .5 1.8.4.9.5-6.4.4 7.1.5-1.9" stroke="#a52a2a" stroke-width="1.3"/>
<path d="M648 120.3l1.5 2.7 1.5 2.6 1.5 1.6 1.5 1.5 1.5 1.4 1.5 1.5 1.5 1.4 1.5 1 1.5 1.1 1.5-8.4 1.5.8 1.5 2.1 1.5 1.5 1.5 1.5 1.5 1.5 1.5 1.5 1.5 1.5 1.5 1.5 1.5 1.6 1.5 1.5 0 4.8-1.5-1.5-1.5-1.6-1.5-1.5-1.5-1.5-1.5-1.5-1.5-1.5-1.5-1.5-1.5-1.5-1.5-2.1-1.5-.8-1.5 8.4-1.5-1.1-1.5-1-1.5-1.4-1.5-1.5-1.5-1.4-1.5-1.5-1.5-1.6-1.5-2.6-1.5-2.7z" fill="#ff1500" stroke="none"/>
<path d="M505.5 66.6l.4 0 .5 0 .6 0 .7 0 .7.1.7 0 .9 0 .8 0 .8 0 .9 0 .8.1.9 0 .8 0 .7 0 .6 0 .7.1.8 0 .7 0 .7 0 .8 0 .7.1.7 0 .8 0 .7 0 .7.1.7 0 .7 0 .7.1.6 0 .8.1.8 0 .8.1.7 0 .7.1.7.1.7 0 .7.1.7.1.7 0 .7.1.7.1.7.1.8.1.8.1.7.1.8.1.8.1.7.1.8.1.7.1.7.1.7.1.6.1.8.1.7.2.7.1.7.2.6.1.7.1.6.2.7.1.7.2.7.2.6.1.7.2.7.2.7.2.7.1.7.2.7.1.7.1.7.1.7 0 .8 0 .7 0 .8-.1.7-.1.7-.1.7-.1.8 0 .7 0 .7 0 .7.1.8.1.7.1.7.1.7.2.8.1.7.1.7.1.7.1.7.1.7 0 .6.1.7 0 .7.1.8.1.8 0 .9.1.6 0 .7.1.7 0 .7.1.7 0 .7.1.8 0 .8 0 .7.1.8 0 .8.1.8 0 .8.1.8 0 .7 0 .7.1.7 0 .7 0 .8.1.7 0 .8 0 .7.1.7 0 .8 0 .7 0 .7.1.8 0 .7 0 .6.1.7 0 .8 0 .8.1.8 0 .7.1.8 0 .7.1.7 0 .7.1.8 0 .7.1.6 0 .7.1.7 0 .8 0 .7.1.7 0 .7.1.7 0 .6 0 .7.1.7 0 .8 0 .8.1.8 0 .7 0 .7 0 .7 0 .8.1.8 0 .9 0 .8 0 .8 0 .8 0 .8 0 .8 0 .7 0 .6 0 .6 0 .5 0 1.3-.1.7-.1.4-.2.6-.1.7-.1.7-.2.7-.1.7-.2.8 0 .7 0 .8.1.8 0 .7.1.8.2.6.2.8.3.6.3.6.6.5 1 .2.5.1.5.1.6.2.6.1.6.1.8.1.7.1.9.1.8.1 1 .1 1 .1.6 0 .6.1.6 0 .6.1.7 0 .7 0 .8.1.7 0 .7.1.8 0 .8.1.7 0 .8.1.8 0 .8.1.7 0 .8 0 .7.1.7 0 .7.1.7.1.8 0 .8.1.7 0 .8.1.8 0 .8.1.7 0 .8.1.7 0 .8.1.7.1.7 0 .7.1.7.1.6.1.7.1.6.1.6.2.9.2.8.3.8.3.8.3.8.3.7.3.7.3.6.2.6.3.5.1.4.2.4.5.3.5 3.4.4.9.5.8.4.3.5 1.5.4-5 .5 5.1.4-2.1.5 4.5.4-2.1.5 1.5.4.3.5.7.4 2.7.5 1.8.4-5.3.5 4.6.4 1.2.5-4 .4-2 .5 3.9.4 2.8.5-1.7.4-2.7.5 5 .4-3.1.5 5.4.4-6.2.5 4.2.4-1.6.5 5.8.4-10.2.1 4.2.2-57.1.2 57.1 0-6.7.2-49.7.2 49.7 0-2.2.2-27 .2 27 .1 0 .5-.8.4 3.2.5 4.5.4 1.3.5.1.4-2.3.5-2.9.4 2.9.5 1.7.4-2.7.5 6.6.4-7.6.5 1.8.4.2.5.1.4-.5.5 2 .4 1.7.5 5.5.4-3.1.5 1.2.4-2 .5-1.2.4 4 .5 2 .4-5.4.5 5.6.4-3.5.5 4.8.4-2.6.5-1.4.4.4.5 6.3" stroke="#ff1500" stroke-width="1.3"/>
<path d="M645.5 121.6l1.5 4.6 1.5 4.2 1.5 3.4 1.5 1.8 1.5 1.8 1.5 1.8 1.5 1.6 1.5 1.4 1.5 1.4 1.5 1.3 1.5 1.1 1.5 1.1 1.5 1.2 1.5 1 1.5 1 1.5 1 1.5.9 1.5.9 1.5.8 1.5.9 1.5.6 1.5.7 1.5.6 1.5.6 1.5.6 1.5.2 1.5 0 0 7.2-1.5 0-1.5-.2-1.5-.7-1.5-.7-1.5-.6-1.5-.7-1.5-.7-1.5-.9-1.5-.9-1.5-1-1.5-.9-1.5-1.1-1.5-1.1-1.5-1.1-1.5-1.1-1.5-1.2-1.5-1.2-1.5-1.5-1.5-1.7-1.5-1.7-1.5-1.8-1.5-2.1-1.5-2.1-1.5-2.1-1.5-4.1-1.5-5-1.5-5.4z" fill="#7e1b8d" stroke="none"/>
<path d="M505.5 66.6l.4 0 .5 0 .6 0 .7 0 .7.1.7 0 .9 0 .8 0 .8 0 .9 0 .8.1.9 0 .8 0 .7 0 .6 0 .7.1.8 0 .7 0 .7 0 .8 0 .7.1.7 0 .8 0 .7 0 .7.1.7 0 .7 0 .7.1.6 0 .8.1.8 0 .8.1.7 0 .7.1.7.1.7 0 .7.1.7.1.7 0 .7.1.7.1.7.1.8.1.8.1.7.1.8.1.8.1.7.1.8.1.7.1.7.1.7.1.6.1.8.1.7.2.7.1.7.2.6.1.7.1.6.2.7.1.7.2.7.2.6.1.7.2.7.2.7.2.7.1.7.2.7.1.7.1.7.1.7 0 .8 0 .7 0 .8-.1.7-.1.7-.1.7-.1.8 0 .7 0 .7 0 .7.1.8.1.7.1.7.1.7.2.8.1.7.1.7.1.7.1.7.1.7 0 .6.1.7 0 .7.1.8.1.8 0 .9.1.6 0 .7.1.7 0 .7.1.7 0 .7.1.8 0 .8 0 .7.1.8 0 .8.1.8 0 .8.1.8 0 .7 0 .7.1.7 0 .7 0 .8.1.7 0 .8 0 .7.1.7 0 .8 0 .7 0 .7.1.8 0 .7 0 .6.1.7 0 .8 0 .8.1.8 0 .7.1.8 0 .7.1.7 0 .7.1.8 0 .7.1.6 0 .7.1.7 0 .8 0 .7.1.7 0 .7.1.7 0 .6 0 .7.1.7 0 .8 0 .8.1.8 0 .7 0 .7 0 .7 0 .7.1.8 0 .8 0 .8 0 .8 0 .8 0 .8 0 .7 0 .8 0 .7 0 .6 0 .6 0 1 0 .9 0 .7 0 .7-.1.7 0 .6 0 .7 0 .7 0 .8 0 .8 0 .8 0 .8 0 .8 0 .8.1.6.1.6.2.7.3.5.4.4.5.3.9.3 1.3.1.5.1.5.1.6.1.6 0 .6.1.7.1.7.1.8 0 .7.1.8.1.8 0 .8.1.8 0 .8.1.8.1.9 0 .8.1.8.1.7 0 .7.1.7 0 .7 0 .7.1.8 0 .7.1.8 0 .7.1.8 0 .8 0 .7.1.8 0 .8.1.7 0 .7.1.8 0 .7.1.7 0 .7.1.7 0 .6.1.8 0 .9.1.8.1.9.1.8.1.8 0 .8.1.8.1.8.1.7.1.7 0 .7.1.6.1.6 0 .5.1.4 0 .4-.7.2.5-.8.4 1.5.5 2.2.4 1.6.5.5.4 2 .5.4.4 2.3.5-1 .4 4.5.5.7.4-1.1.5 1.7.4 3.6.5-1.7.4 4.7.5.7.4-.5.5-5.5.4.4.5 2.4.4 1.2.5 3.4.4 1.6.5-1.7.4 1.2.5-.1.4-4.2.5 4.7.4-2.2.5 2.2.5-3.1.4 6.1.5 2.8.4-7 .5 4.9.4-4.6.5 3.2.4-1.4.5 6.7.4-.8.5 1.9.4-5.9.5 5 .4.1.5-1.4.4 4.2.5-2.4.4-3 .5 4.5.4-2 .5-2.2.4 4.2.5-5.2.4 4.2.5 1.4.4-5.2.5 6.7.4-5.3.5 5.8.4-2.8.5-2.8.5 9.9.4-9.1.5 1.2.4 3.8.5-2.4.4 3.2.5-.4.4 1.4.5-.1.4-2.4.5-.7.4 5.2.5-2.5.4 1.1.5 4.4.4-9.5.5 3.1.4 3.2.5-5.3.4 7.8.5-3.6.4-.8.5-1.1.4 8.6.5-9.9.4 8.6.5-1.2.4 2.1.5-2.2.4-3.9.5 2.2" stroke="#7e1b8d" stroke-width="1.3"/>
</g>
<path d="M505.5 181.5v3.4M541.9 181.5v3.4M578.4 181.5v3.4M614.8 181.5v3.4M651.2 181.5v3.4M505.5 82.4h-3.4M505.5 109h-3.4M505.5 135.6h-3.4M505.5 162.2h-3.4" stroke="#333" stroke-width="0.8" fill="none"/>
<path d="M516.5 181.5v1.9M522.9 181.5v1.9M527.4 181.5v1.9M531 181.5v1.9M533.8 181.5v1.9M536.3 181.5v1.9M538.4 181.5v1.9M540.3 181.5v1.9M552.9 181.5v1.9M559.3 181.5v1.9M563.9 181.5v1.9M567.4 181.5v1.9M570.3 181.5v1.9M572.7 181.5v1.9M574.8 181.5v1.9M576.7 181.5v1.9M589.3 181.5v1.9M595.7 181.5v1.9M600.3 181.5v1.9M603.8 181.5v1.9M606.7 181.5v1.9M609.1 181.5v1.9M611.3 181.5v1.9M613.1 181.5v1.9M625.8 181.5v1.9M632.2 181.5v1.9M636.7 181.5v1.9M640.3 181.5v1.9M643.1 181.5v1.9M645.6 181.5v1.9M647.7 181.5v1.9M649.6 181.5v1.9M662.2 181.5v1.9M668.6 181.5v1.9M673.2 181.5v1.9M676.7 181.5v1.9M679.6 181.5v1.9M682 181.5v1.9" stroke="#333" stroke-width="0.6" fill="none"/>
<rect x="505.5" y="61.5" width="178" height="120" fill="none" stroke="#3a3a3a" stroke-width="0.8"/>
<text x="505.8" y="194.8" text-anchor="middle" class="t">10<tspan class="s" dy="-4.3">0</tspan></text>
<text x="542.2" y="194.8" text-anchor="middle" class="t">10<tspan class="s" dy="-4.3">1</tspan></text>
<text x="578.7" y="194.8" text-anchor="middle" class="t">10<tspan class="s" dy="-4.3">2</tspan></text>
<text x="615.1" y="194.8" text-anchor="middle" class="t">10<tspan class="s" dy="-4.3">3</tspan></text>
<text x="651.5" y="194.8" text-anchor="middle" class="t">10<tspan class="s" dy="-4.3">4</tspan></text>
<text x="499.5" y="86" text-anchor="end" class="t">10<tspan class="s" dy="-4.3">−1</tspan></text>
<text x="499.5" y="112.6" text-anchor="end" class="t">10<tspan class="s" dy="-4.3">−3</tspan></text>
<text x="499.5" y="139.2" text-anchor="end" class="t">10<tspan class="s" dy="-4.3">−5</tspan></text>
<text x="499.5" y="165.8" text-anchor="end" class="t">10<tspan class="s" dy="-4.3">−7</tspan></text>
<path d="M43.5 334.2H221.5M43.5 327.8H221.5M43.5 323.3H221.5M43.5 319.8H221.5M43.5 316.9H221.5M43.5 314.5H221.5M43.5 312.4H221.5M43.5 310.6H221.5M43.5 298H221.5M43.5 291.6H221.5M43.5 287.1H221.5M43.5 283.6H221.5M43.5 280.7H221.5M43.5 278.3H221.5M43.5 276.2H221.5M43.5 274.4H221.5M43.5 261.8H221.5M43.5 255.4H221.5M43.5 250.9H221.5M43.5 247.4H221.5M43.5 244.5H221.5M43.5 242.1H221.5M43.5 240H221.5M43.5 238.2H221.5M43.5 225.6H221.5" stroke="#000" stroke-opacity="0.085" stroke-width="0.8" stroke-dasharray="2.6 1.1 1.8 1.1" fill="none"/>
<path d="M108.5 223.5V343.5M173.5 223.5V343.5M43.5 308.9H221.5M43.5 272.7H221.5M43.5 236.5H221.5" stroke="#000" stroke-opacity="0.13" stroke-width="0.8" stroke-dasharray="3.2 1.3" fill="none"/>
<g clip-path="url(#c10)" fill="none" stroke-linejoin="round" stroke-linecap="round">
<path d="M43.5 254.6l.5.2.7.3.8.4.8.3.7.4.6.4.6.4.6.4.6.4.6.4.8.3.7.3.7.3.8.4.6.4.6.5.6.5.6.6.6.5.6.5.6.5.6.5.6.5.6.5.6.5.6.5.7.5.6.4.5.5.6.5.5.5.5.6.4.5.4.6.4.5.3.7.4.7.3.6.2.7.2.7.3.8.3.6.2.6.4.8.5.6.6.6.5.3.7.3.7.3.8.3.8.3.7.3.7.2.7.3.8.3.8.3.7.3.6.3.7.4.6.4.6.3.5.4.6.5.5.4.5.5.5.4.5.5.5.6.5.6.4.5.4.6.3.6.4.6.4.7.3.7.4.6.4.7.4.7.3.7.4.7.4.7.3.7.4.7.4.7.4.6.4.6.4.6.5.5.4.6.5.5.4.6.4.5.4.6.4.6.3.6.4.6.3.6.3.6.3.7.3.6.3.7.2.6.3.7.2.6.2.7.2.6.2.7.2.7.2.7.3.7.3.6.2.7.3.6.4.7.3.6.3.7.3.7.3.6.3.7.3.6.3.7.3.7.2.7.3.7.2.7.3.6.3.7.3.6.3.6.4.7.5.6.5.7.5.6.5.6.4.5.4.5.3.3.5 1.6.5-.9.4.2.5.8.4.5.5.6.4-5.6.5 5.4.4-3 .5 0 .4 7.8.5-7.1.4.1.5 3.3.4-3.5.5 3.3.4-2.4.5 4 .4-4 .5 1.6.4.6.5 4.9.4-5.1.5.7.4.8.5 2.3.4-.9.5-4.7.4.1.5 3.4.4-.3.5 1.6.4-3.9.5 3.3.4-2.1.5 4.7.4-5.8.5.2.4.2.5 2.3.4-5.4.5 7.9.4-7 .5.4.4-1 .5 3.3.4-.5.5 2.8.4 2.8.5-6.9.4 4.9.5-14.1.4 2.8.5-1.1.4.4.5-9.9.4 4.5.5-13 .4 13.6.5-7.9.4-5.3.5 1.4.4 10 .5-12 .4 7.4.5-9.6.4 1.4.5 1 .4-2.5.5 0 .4 14.3.5-17.9.4 17.5.5-2.4.4-8.6.5-2.1.4 8.5.5-6.8.4-5.2.5-4.7.4-.8.5 11.4.4-3.5.5-12.7.4 1.3.5 11.5.4.5.5 7.8.4-8.8.5-.1.4 7.5.5-26.4.4 13.2.5 10.9.4-14.8.5 15.1.4-24.3.5 8 .4 15.7.5-15.5.4 2.8.5-6.9.4 2.5.5 2.1.4.2.5-8.2.4 4.3.5-1.3.4 10.8.5-4.5.4 1.1.5 10.2.4-9.4.5 0 .4 1.9.5-11.7.4 6.3.5 3.9.4 3.4.5-5.9.4-2.9.5 0 .4 1.2.5-.8.4 1.2.5-2.5.4-.2.5 3.7.4-3.6.5.6.4 1.7.5.5.4-1.1.5.6.4 2.4.5-2.4.4-.5.5 1.3.4-.1.5.1.4-.6.5.7.4 1.2.5 0 .4-1.4.5-1.2.4.4.5-.2.4-.5.5-.3.4-.1.5-2.3.4-1.4.5 2.8.4-.9.5-1 .4-.8.5 1.8.4.8.5.8.4 6 .5 1.7.4-2.3.5 3.5.4-1.3.5 4.3.4-.8.5-.6.4-4.2.5.4.4 1.8.5.2.4 2.2.5 1.9.4-2.9.5 3.8.4 1.7.5-2.3.4-.9.5.6.4 2.7.5-1.5.4 4 .5-6.2.4 2.7.5 2.4.4-.9.5 1.7.4 5.9.5 7.2.4 1.9.5 3.4.4 5.5.5-8 .4-4.1.5-3.2.4-4.1.5-7.3.4 4.9.5-7.8.4 4.8.5-2.6.4-2.1.5-2.2.4 1.7.5 2.2.4-2.5.5-2.3.4 1.1.5-6.2.4 3.4.5-.6.4 2.2.5-.8.4.5.5 1.2.4-4 .5 2.6.4.1.5-2.4.4 1.8.5-3 .4 1.7.5-.4.4 3.8.5-5.2.4 2.9.5-.4.4 1.2.5-2.6.4 4.2.5-.9.4-.9.5 5.9.4.3.5-5.8.4 3.7.5 0 .4 6.3.5-4.1.4 5.6.5 1.7.4-1.1.5 2.1.4 3.2.5 1.2.4-2.3.5 8.6.4-8.2.5 8.8.4.8.5 1.5.4 4.7.5 1.3.4 3.3.5-1.9.4 1 .5-7.7.4 7 .5-3.7.4 7.2.5-6.1" stroke="#000000" stroke-width="1.75"/>
<path d="M43.5 254.6l.5.2.7.3.8.4.8.3.7.4.6.4.6.4.6.4.6.4.6.4.8.3.7.3.7.3.8.4.6.4.6.5.6.5.6.6.6.5.6.5.6.5.6.5.6.5.6.5.6.5.6.5.7.5.6.4.5.5.6.5.5.5.5.6.4.5.4.6.4.5.3.7.4.7.3.6.2.7.2.7.3.8.3.6.2.6.4.8.5.6.6.6.5.3.7.3.7.3.8.3.8.3.7.3.7.2.7.3.8.3.8.3.7.3.6.3.7.4.6.4.6.4.5.4.6.4.6.4.7.4.6.4.7.4.6.7.4.5.4.6.4.7.5.7.4.7.4.7.4.7.4.6.5.7.4.6.5.6.4.6.5.5.4.5.4.4.8.5.8.1.8.2.7.2.8.2.7.2.8.2.8.3.7.5.8.4.7.3.9.2.9.1.9.3.6.4.5.5.6.5.6.5.6.4.8.4.7.4.7.4.4.2.3-1 .5-.7.4-1.6.5-.9.4-.4.5-1.8.4.1.5-1.6.4 1.2.5-.7.4-.5.5-.4.4.7.5.9.4 0 .5 1 .4 1.4.5 1.7.4 1.2.5 1.2.4 1.7.5 2.5.4 1.3.5 2 .4-.3.5-.7.4.2.5-1.6.4-.3.5-4.6.4 1.5.5 6.1.4 1.9.5 2.7.4 1.4.5 3.1.4-1.6.5-4.1.4.3.5-2.6.4-2.2.5-.3.4-3.9.5 5.7.4-3.4.5 6.1.4-3.9.5-4.4.4 0 .5 4.4.4 3.4.5-8 .4-.3.5 6.4.4-5.6.5 5.6.4-6.3.5 4.2.4-3.2.5 4 .4-1 .5-4.6.4 5.5.5 4 .4-8.7.5-5.6.4 4.4.5 3.2.4-13.8.5.5.4 19.2.5-12.1.4 18.3.5-11 .4-21.1.5 24.2.4-16.3.5 2.5.4 7.5.5-7.1.4 16.2.5-17.6.4-8.5.5 6.7.4-6.2.5 18.9.4-31.5.5 17.9.4-3.3.5 1.1.4-5.7.5 0 .4 14.9.5-18.7.4 14.5.5 2.1.4-5.1.5 9.7.4-15.1.5-18.6.4 18.3.5 6 .4-13.4.5-11.2.4 13.6.5-12.6.4 3.7.5 22.9.4-7.1.5-2.9.4-1.7.5 5.1.4-7 .5-15.9.4 14.5.5-6.7.4-4.7.5 10.6.4-2.3.5-9.1.4 2.8.5 2 .4-2.8.5 2.6.4-.6.5.7.4-.3.5.7.4-1.4.5 1.4.4-2.5.5.3.4.6.5-.6.4-.7.5-.6.4-.7.5.3.4-.2.5-2 .4.6.5.1.4-.8.5-.8.4 1.2.5-.3.4-1.1.5 1.1.4-1.1.5.6.4-.6.5-.8.4 0 .5-1.5.4 1.3.5 5.5.4-3.4.5-3.5.4 10.9.5-4.9.4 2.7.5 12.5.4-5.6.5 4.3.4 1.1.5 5.2.4-.4.5 2.2.4 1.6.5 3.8.4-3.2.5-7.8.4 4.4.5 10.4.4 2.1.5 1.1.4-6.4.5 2.9.4 3.7.5-3.9.4-4.8.5 1.3.4-8.9.5 6.4.4-6.8.5 16.4.4-13.2.5 1.1.4-1 .5 1.7.4 5.8.5-.3.4 2.7.5-.3.4-4 .5-.1.4-7.4.5 1.3.4 13.9.5-13.8.4 14.3.5-3.6.4-2.6.5 4.8.4-14.4.5 7.9.4-8.1.5 7 .4-4 .5.6.4 3.5.5-8.2.4 5.6.5.6.4.1.5-5.2.4 2.7.5-1.3.4-2 .5-8.9.4 10.7.5-10.9.4 7.8.5 1.2.4 7 .5-10.1.4 4.1.5 2 .4-2.3.5-10.1.4 11.1.5-.3.4 2.6.5-9.5.4 16.3.5-.1.4-3.2.5-11.6.4-2 .5 14.3.4-16 .5 15.4.4-3.7.5-10.7.4 15.7.5-7.4.4-3.9.5 20.1.4-18.6.5 8.8.4 6.5.5-3.3.4 1.9.5-11.8.4 5 .5 13 .4-4.5.5-.2.4 1.1.5-1.4.4-2.5.5 2.4" stroke="#338a16" stroke-width="1.3"/>
<path d="M43.5 254.6l.5.2.7.3.8.4.8.3.7.4.6.4.6.4.6.4.6.4.6.4.8.3.7.3.7.3.8.4.6.4.6.5.6.5.6.6.6.5.6.5.6.5.6.5.6.5.6.5.6.5.6.5.7.5.6.4.5.5.6.5.5.5.5.6.4.5.4.6.4.5.3.7.4.7.3.6.2.7.2.7.3.8.3.6.2.6.4.8.5.6.6.6.5.3.7.3.7.3.8.3.8.3.7.3.7.2.7.3.8.3.8.3.7.3.6.3.7.4.6.4.6.4.5.4.6.4.6.4.7.4.6.4.7.4.6.7.4.5.4.6.4.7.5.7.4.7.4.7.4.7.4.6.5.7.4.6.5.6.4.6.5.5.4.5.4.4.8.5.8.1.8.2.7.2.8.2.7.2.8.2.8.3.7.5.8.4.7.3.9.2.9.1.9.3.6.4.5.5.6.5.6.5.6.4.8.4.7.4.7.4.4.2.3-.2.5.2.4.3.5 0 .4-.1.5.3.4.2.5.7.4-1.1.5.8.4-.1.5.5.4-1.1.5.8.4.7.5 1.1.4 0 .5 0 .4.1.5-.2.4.9.5 1.2.4-.5.5 1 .4-1.3.5 2.7.4-.9.5 1 .4 3.5.5 2.4.4-.3.5-.3.4 1.6.5.1.4-.4.5-.2.4-2.9.5 1.7.4-3.7.5 2.5.4-1.3.5-6 .4 2.3.5-2 .4-5.6.5 7.1.4 2.7.5 1.6.4-14.1.5 1.1.4 5.3.5 8.3.4-2.1.5-8.5.4-2.2.5-5.2.4-.1.5 7.6.4 3.4.5-3.7.4.1.5-1.3.4-3.5.5 4 .4 5.1.5-4.8.4-19.7.5 19.8.4-8.5.5-9.4.4-6.9.5 16.2.4 5.8.5-8.5.4-2.2.5 2 .4-3.5.5 16.5.4-.9.5-11.1.4 13.4.5 3.9.4-41.4.5 31 .4-14.7.5.2.4-.2.5-8 .4 6.7.5-4.7.4-2.4.5 8.6.4-4.8.5-14.2.4 20.8.5-14.8.4-.3.5-12.6.4 24.5.5-27.9.4 10.7.5-1.6.4 10.9.5-17.4.4 18.2.5-10.2.4.9.5 7.9.4-8.6.5-5.9.4 11.5.5-17 .4 25.7.5-25.5.4-10.7.5 20.5.4-23.8.5 8 .4.8.5-2.9.4 13.7.5-1.6.4-2.5.5-1.6.4-.9.5-.6.4-.5.5 0 .4-.3.5-1.2.4.5.5-.2.4-1 .5 1.6.4-.8.5.4.4-1.9.5-.5.4-.1.5.1.4-.5.5 1.1.4-1.7.5-1.2.4.8.5.5.4-.3.5.4.4-.9.5.3.4 1.3.5-2.2.4 0 .5.3.4-.6.5-1 .4-1.4.5.4.4-1.5.5 10.9.4-3 .5-1.6.4 4.6.5-1.2.4-.8.5 7.1.4 5.9.5.7.4 2.4.5-2 .4-6.8.5 5.3.4-5 .5 2.5.4-2.4.5 1.1.4-5.9.5 1.5.4-2.9.5-1.1.4-2.6.5 0 .4 1.4.5-2.4.4-2.9.5 6.5.4-3.9.5-1.2.4 5.4.5-2.1.4 7.4.5-7.6.4-1.1.5 2.9.4.5.5.1.4-3.6.5.3.4 2.5.5-2.9.4-2.5.5-1.1.4 3.4.5 2.5.4-.6.5-4.5.4-1.5.5 3.6.4-4.6.5 8.3.4-2.5.5 2 .4 0 .5-3.4.4.9.5 1.3.4 1.9.5 2.9.4-4.2.5 3.9.4-8.2.5 6.1.4-2.5.5 5.4.4-4.3.5 7.1.4-2.3.5-1.6.4-3.7.5 2.2.4 2.4.5 2.1.4 1.8.5-3.2.4 7.1.5 1.9.4-4.3.5 8.3.4-12 .5 9.2.4-4.9.5 13.1.4-8.3.5 2.1.4 1.3.5-2.5.4 2 .5 2 .4 2.6.5 2.4.4 1.5.5 1.6.4 3.9.5-6.3.4 10.6.5-3.7.4-.3.5-5.2.4 11.2.5.6.4-12 .5 4.7" stroke="#eca32c" stroke-width="1.3"/>
<path d="M43.5 254.6l.5.2.7.3.8.4.8.3.7.4.6.4.6.4.6.4.6.4.6.4.8.3.7.3.7.3.8.4.6.4.6.5.6.5.6.6.6.5.6.5.6.5.6.5.6.5.6.5.6.5.6.5.7.5.6.4.5.5.6.5.5.5.5.6.4.5.4.6.4.5.3.7.4.7.3.6.2.7.2.7.3.8.3.6.2.6.4.8.5.6.6.6.5.3.7.3.7.3.8.3.8.3.7.3.7.2.7.3.8.3.8.3.7.3.6.3.7.4.6.4.6.4.5.4.6.4.6.4.7.4.6.4.7.4.6.7.4.5.4.6.4.7.5.7.4.7.4.7.4.7.4.6.5.7.4.6.5.6.4.6.5.5.4.5.4.4.8.5.8.1.8.2.7.2.8.2.7.2.8.2.8.3.7.5.8.4.7.3.9.2.9.1.9.3.6.4.5.5.6.5.6.5.6.4.8.4.7.4.7.4.4.2.3 0 .5-.2.4.1.5.7.4-.2.5.2.4-.2.5 0 .4 1 .5-.8.4.4.5-.4.4.7.5 1 .4-.3.5.5.4.2.5 0 .4.9.5 0 .4-.1.5.5.4 1 .5.8.4.8.5-1.9.4 3.3.5.8.4-.2.5 3.6.4 2.1.5-2.1.4 3.9.5-1.9.4-2.4.5 1.7.4 2.5.5-4.4.4 1.3.5-2.3.4 7.1.5-12.5.4-11.1.5 2.5.4-15.8.5 16.9.4 3.2.5-12.9.4 22 .5-3.6.4 4.3.5-7.5.4-12.5.5-11.1.4 2 .5 6.4.4 10.2.5 28.4.4-24.6.5-10.4.4-.8.5-22.5.4 48 .5-3.5.4-10.6.5-24.4.4 11.2.5-12.1.4 21.1.5-3.1.4.8.5-10.8.4 13.9.5-13.5.4-13 .5-9.6.4 10.7.5 26.6.4-21.9.5 10.1.4-25.3.5 19.2.4-7 .5-17.2.4 4.2.5 8.9.4 4.6.5 8.7.4-9.8.5-2.1.4-21.3.5 29.8.4 8.7.5-17.8.4-4.7.5-1.8.4 3.2.5 5.8.4 7 .5-30.3.4 18.6.5-15.2.4-4.8.5 15.3.4-16.9.5 10 .4 14.5.5-14 .4 17.6.5-16.8.4-7.8.5-1.1.4 11.4.5-6.6.4 18.4.5-32.5.4 18.9.5 8.5.4-13.9.5-1.5.4-8.7.5 1.3.4.5.5-.8.4.3.5 0 .4-1.2.5-.7.4 1 .5-1.6.4.8.5-2.5.4 1.6.5-1.8.4.4.5.7.4-1.8.5 0 .4-1.4.5 0 .4.4.5-1.3.4 1.3.5-1 .4-.2.5-.3.4 0 .5.7.4-1.8.5-.9.4.6.5 0 .4 1.1.5-.7.4-1.4.5 1.4.4-3.3.5 3.3.4-2.3.5-.2.4-1.2.5-1.1.4.7.5 4.4.4-2.2.5-.8.4 3 .5-1.9.4 3.5.5-7.3.4 8.8.5 5.7.4-1.1.5-8.5.4.1.5 3.3.4-1.4.5-6.1.4 3.9.5-9.9.4 1.6.5.8.4 8.2.5-2.6.4-2.4.5-.5.4-.3.5-7.8.4 10.7.5-3.2.4-1.2.5 2 .4-3.5.5 2.7.4-8.7.5 6.3.4-.5.5-1.3.4 2.9.5-3.6.4-1.8.5 1.7.4 3.8.5 1.4.4-2.2.5 1.8.4-.5.5-.5.4 1 .5 3.3.4.4.5-12.1.4 7.7.5-2.7.4 0 .5-.5.4-1.2.5 2 .4 5.9.5-1.6.4-4.8.5.6.4-1 .5.7.4 4.8.5-1.3.4 3 .5 4.4.4-5.8.5-.2.4 7.9.5-9.4.4 5.5.5-2.1.4 3.5.5 2 .4 3.2.5-4.4.4 4.1.5 2.2.4 4 .5 1.9.4 5.1.5-4.1.4 1.3.5 3 .4 3.5.5 2.3.4 4.6.5-4.8.4 6.5.5.9.4-2.8.5-2.7.4 5.7.5.9.4 1.9.5-6.3.4 7.4.5-7.3.4-.6.5 7.5" stroke="#1000ff" stroke-width="1.3"/>
<path d="M43.5 254.6l.5.2.7.3.8.4.8.3.7.4.6.4.6.4.6.4.6.4.6.4.8.3.7.3.7.3.8.4.6.4.6.5.6.5.6.6.6.5.6.5.6.5.6.5.6.5.6.5.6.5.6.5.7.5.6.4.5.5.6.5.5.5.5.6.4.5.4.6.4.5.3.7.4.7.3.6.2.7.2.7.3.8.3.6.2.6.4.8.5.6.6.6.5.3.7.3.7.3.8.3.8.3.7.3.7.2.7.3.8.3.8.3.7.3.6.3.7.4.6.4.6.4.5.4.6.4.6.4.7.4.6.4.7.4.6.7.4.5.4.6.4.7.5.7.4.7.4.7.4.7.4.6.5.7.4.6.5.6.4.6.5.5.4.5.4.4.8.5.8.1.8.2.7.2.8.2.7.2.8.2.8.3.7.5.8.4.7.3.9.2.9.1.9.3.6.4.5.5.6.5.6.5.6.4.8.4.7.4.7.4.4.2.3 0 .5.1.4 0 .5.4.4 0 .5.2.4 1.1.5-.8.4.6.5.7.4-1.2.5.8.4.5.5.4.4.3.5 1.1.4-.7.5.1.4 1.5.5-.7.4.3.5 1.2.4-.5.5 1 .4-.1.5.2.4.3.5 1.2.4 2.4.5.3.4 1.4.5 2 .4 1.3.5 2.2.4-4.8.5 1.1.4.5.5-3.9.4 1 .5-.4.4-.2.5-1.9.4 1 .5-3.6.4 3.7.5-3.6.4-4.8.5 5.6.4.5.5.6.4-.1.5-8.3.4.5.5 5.3.4 1.3.5-.9.4-4.5.5 4.8.4-.8.5-3 .4-2.1.5-2.4.4 2.4.5 3.5.4-1.3.5-2.2.4-4.2.5 6.9.4 2 .5-1.1.4 14.5.5-34.5.4 15.9.5 8.2.4-24.7.5 11.8.4 18.8.5-34.2.4 6.9.5 9.4.4 1.2.5 13.3.4-4.9.5-5.2.4-10.6.5 2.3.4-6.1.5 10.5.4-8.4.5-2.5.4-3.5.5 21.5.4-1 .5-17.5.4 1.4.5-8.3.4-8.6.5 13.3.4 4.7.5 8.5.4-21.3.5 9.4.4-9.7.5 6.4.4-17.1.5-.6.4.4.5-1.4.4-3.2.5 9.2.4 8.5.5-6.5.4 8.2.5-12.7.4 6 .5-12.8.4 11.5.5-19.7.4 24.2.5-1.3.4-14.6.5 1.5.4.4.5-1.6.4-1.1.5 1.6.4-1.3.5.6.4-.3.5.5.4-1.6.5.5.4-.5.5.6.4-.4.5 1.4.4-1.8.5 1.2.4-1.3.5.6.4-.2.5-.2.4.4.5 1.3.4-.5.5 1 .4-.5.5-.1.4.5.5-.5.4.8.5.3.4-.5.5 2.1.4-1.6.5.9.4 3.1.5-6.7.4 13.2.5-8.1.4 8.7.5-.1.4 5 .5-16.3.4 4.6.5 14.5.4-.3.5-15.3.4 9.8.5-3.6.4-6 .5 2.7.4 2.8.5.1.4 3.8.5-2.3.4 0 .5.4.4-5.9.5 4 .4-5.1.5 6.4.4-4.1.5 3.4.4-.8.5-1.5.4 4.8.5 4.5.4-9.3.5-2.1.4 1.2.5-4.8.4 6 .5-2.1.4 5.5.5 5.9.4-3.4.5-1.6.4-4.4.5 6.5.4-7.6.5 7.4.4 5.2.5-5.3.4-2.9.5 4.2.4-11.8.5 15.4.4-10.6.5 5.3.4-4.6.5 9.9.4-2.9.5 1.5.4-6.1.5-3.4.4 3.6.5-6.8.4 7.8.5 1.1.4 4.5.5-8.3.4 2.2.5-.3.4 9.4.5-2 .4-3 .5 1.6.4 9.8.5-5.6.4 3.7.5-12.4.4 4.8.5 3.5.4-6.6.5 2.7.4 8.3.5-8.2.4-1 .5 5.6.4 6.5.5-1.3.4-4.6.5 5.4.4-3.4.5 4.2.4-8.7.5.3.4 9.7.5-10.7.4-.5.5 13.7.4-7.2.5 5.4.4-3.3.5 9.4.4-5 .5 2.9.4-7 .5-2.1.4 2.4.5 5.1" stroke="#a52a2a" stroke-width="1.3"/>
<path d="M43.5 254.6l.5.2.7.3.8.4.8.3.7.4.6.4.6.4.6.4.6.4.6.4.8.3.7.3.7.3.8.4.6.4.6.5.6.5.6.6.6.5.6.5.6.5.6.5.6.5.6.5.6.5.6.5.7.5.6.4.5.5.6.5.5.5.5.6.4.5.4.6.4.5.3.7.4.7.3.6.2.7.2.7.3.8.3.6.2.6.4.8.5.6.6.6.5.3.7.3.7.3.8.3.8.3.7.3.7.2.7.3.8.3.8.3.7.3.6.3.7.4.6.4.6.4.5.4.6.4.6.4.7.4.6.4.7.4.6.7.4.5.4.6.4.7.5.7.4.7.4.7.4.7.4.6.5.7.4.6.5.6.4.6.5.5.4.5.4.4.8.5.8.1.8.2.7.2.8.2.7.2.8.2.8.3.7.5.8.4.7.3.9.2.9.1.9.3.6.4.5.5.6.5.6.5.6.4.8.4.7.4.7.4.4.2.3 0 .5-.5.4-.5.5-.2.4.1.5-.1.4-.7.5-.9.4-.6.5.4.4 0 .5-1.4.4 0 .5-.4.4-.6.5.3.4-1.1.5.9.4 1.5.5.4.4 1.7.5.8.4 2.1.5.6.4 3.1.5.9.4 4.2.5 1.2.4 1.1.5 1.1.4 1.5.5 4.6.4.2.5-1.1.4-4.5.5-.9.4-2.3.5-1.5.4.7.5.9.4-6.8.5 1.7.4.7.5-3.5.4 1.8.5-2.1.4 4.9.5-1 .4-1.9.5-2.2.4.7.5-.3.4.3.5-1.6.4 1.8.5 1.1.4.2.5-.5.4-3.7.5 4.3.4 2.9.5-1.8.4-3.5.5 9 .4-10.8.5-.4.4-.4.5 1.5.4 4.7.5-15.2.4-9.8.5 40.5.4-5.9.5-30 .4 22.9.5-15.6.4 15.7.5-22.9.4 6 .5 3.3.4-.5.5-2 .4 10.2.5-16.5.4-12.4.5 10.4.4 17 .5-11.9.4-8.4.5-8.7.4 32.5.5-7.6.4-7.8.5-4.9.4-.9.5-15.6.4 25.6.5-21.3.4 3.6.5-9.7.4 10.1.5 5 .4 9.5.5-12.4.4 20 .5.5.4-26.6.5 12.9.4 13.7.5-25.7.4 8.7.5 8.5.4-27.3.5 11.8.4 5.2.5-13.3.4 18.9.5-17.6.4 4.8.5 8 .4-14 .5-5.3.4 2.1.5 1.4.4-1.1.5-.1.4.3.5.3.4-.6.5.5.4.5.5-1.1.4 1.2.5-1.3.4-.6.5.1.4 1.4.5-.9.4 1.6.5-2.4.4.7.5.2.4 1.9.5-1 .4.2.5-.4.4.7.5-.8.4.4.5-1 .4 1.6.5-.1.4-.1.5 2.7.4 1.1.5 4.3.4-1 .5 6.5.4 10 .5 8.6.4-3.9.5-5.1.4-3.9.5-2.5.4-10.5.5 8.6.4-9.5.5 2 .4-1.3.5 9.1.4-7.2.5 6.1.4-5.3.5-2.5.4 14.5.5-15.4.4 10.3.5-3.4.4.7.5 3.6.4-.2.5-4.5.4 4.7.5-4.4.4 3.1.5-8.6.4 3.6.5 2.7.4 2.8.5-9.5.4 7.2.5 5.1.4-1.3.5 12.1.4-4.3.5 0 .4-9.3.5 3.9.4-3.1.5-6.7.4 20.4.5-15.3.4 15.4.5-17.1.4 3 .5 4.2.4 2.3.5-12 .4 11.7.5 4 .4-14.7.5 14.8.4-5.6.5-10.4.4 4.5.5-.2.4 0 .5 2.9.4 1.7.5-3.4.4-2.6.5 4.2.4-5 .5 9.8.4-2.1.5-10.4.4 4 .5 9.3.4-4.7.5-2.1.4 8.6.5-3.6.4-5 .5 5.6.4-2.6.5-6.9.4 3.3.5 8.6.4-2.5.5-5.2.4 5.1.5 2.8.4-4.3.5 1.8.4-3.3.5 1.9.4-8.8.5 9.2.4 1.3.5 5.7.4-1.4.5 2.8.4-11 .5 12 .4 4.2.5-8.6.4 21.9.5-14.2.4 5.3.5-8.5.4 5.3.5 5.5" stroke="#ff1500" stroke-width="1.3"/>
<path d="M43.5 254.6l.5.2.7.3.8.4.8.3.7.4.6.4.6.4.6.4.6.4.6.4.8.3.7.3.7.3.8.4.6.4.6.5.6.5.6.6.6.5.6.5.6.5.6.5.6.5.6.5.6.5.6.5.7.5.6.4.5.5.6.5.5.5.5.6.4.5.4.6.4.5.3.7.4.7.3.6.2.7.2.7.3.8.3.6.2.6.4.8.5.6.6.6.5.3.7.3.7.3.8.3.8.3.7.3.7.2.7.3.8.3.8.3.7.3.6.3.7.4.6.4.6.4.5.4.6.4.6.4.7.4.6.4.7.4.6.7.4.5.4.6.4.7.5.7.4.7.4.7.4.7.4.6.5.7.4.6.5.6.4.6.5.5.4.5.4.4.8.5.8.1.8.2.7.2.8.2.7.2.8.2.8.3.7.5.8.4.7.3.9.2.9.1.9.3.6.4.5.5.6.5.6.5.6.4.8.4.7.4.7.4.4.2.3 0 .5.1.4.2.5-.2.4.7.5-.3.4.4.5-.7.4 1.1.5-.3.4.7.5-1 .4.4.5 1 .4-.1.5-.3.4.8.5-.9.4.4.5.9.4.2.5.8.4.8.5-.1.4.5.5 1.7.4 3.5.5.1.4 2.6.5-.2.4 1.3.5.3.4.5.5-1.3.4-2.7.5-2.4.4.7.5-.7.4.6.5-.1.4-1.5.5 2.2.4-4.5.5-1.9.4-1.2.5 4.3.4-1.4.5.2.4-2.1.5 1.6.4-.6.5-.5.4-3.3.5 3.9.4 1.4.5-.8.4-1.7.5 2.8.4-4.5.5.9.4 2.1.5 1.7.4-5.3.5 3.2.4-1.8.5 7.5.4-2.5.5 2.8.4-5.7.5 7 .4-14.7.5 6.7.4 7.1.5 10.3.4-15.8.5-8 .4 9.4.5 2.6.4-6.5.5-7.7.4-3.3.5-3.9.4-3.3.5 7.9.4 10.9.5-14.7.4 8.6.5-8.9.4-9.8.5 14.3.4-.3.5-6.7.4-3.4.5 3 .4-12.5.5-6.3.4 6.7.5-4.9.4 6.8.5 3.5.4-20.9.5 32.6.4-16.8.5 5.1.4-6.7.5 6.4.4-25.2.5 30.3.4-31.1.5 10 .4 4.2.5 3.7.4-3.7.5-10.7.4-8.8.5 21.6.4-5.4.5 5.9.4-13.6.5-1.7.4-.5.5 3.4.4-.1.5.2.4-1.3.5-.5.4-.1.5 1.1.4-.3.5.1.4-.5.5.1.4-.3.5-.1.4-1.5.5 2.1.4-.8.5-.4.4 2 .5-.9.4-.6.5.1.4-.5.5 1.6.4-.8.5-.8.4 1.8.5-1.9.4-.7.5 2.1.4-.2.5-.7.4 1.1.5 1.3.4 3.5.5-3 .4 1.7.5 3.1.4 5.3.5 2.7.4-3.8.5-5.5.4 17.1.5-14.1.4 9.2.5-1.2.4-2 .5 2.8.4-4.1.5 1.5.4-4.8.5 13.2.4-18.9.5 11.6.4 4.6.5-10.4.4 4.6.5-14.5.4 12.6.5-6.5.4 8.3.5-8.6.4 12.2.5-5.5.4-8.2.5 6.8.4-5.9.5 5.9.4-3.8.5-8.5.4.8.5 1.6.4 11.8.5-2.5.4 0 .5.9.4-5.5.5 5.9.4-7 .5 14.5.4-7.8.5 1.4.4 3.5.5-7.1.4 6.3.5-2.5.4-.8.5 5.6.4-13.1.5 20.2.4-9 .5.8.4.7.5 4.7.4-2.6.5-13.3.4 21.9.5-13.6.4 8 .5-6.2.4 3.4.5 4.7.4.1.5 6.6.4-6.2.5.2.4 2.8.5 4 .4-5.8.5-4.7.4 5.3.5-.7.4 9.1.5-6 .4-4.8.5-3.5.4 14.3.5-3.7.4-5.8.5 2.4.4 7.9.5-7.3.4 8.3.5 3.2.4-7.7.5.2.4 3.5.5-3.9.4 13 .5-3.3.4-6.8.5 10.3.4-6.6.5-1.1.4 4.1.5 2.7.4-2.8.5 6.5.4-.2.5-1.8.4-11.4.5.5" stroke="#7e1b8d" stroke-width="1.3"/>
</g>
<path d="M43.5 343.5v3.4M108.5 343.5v3.4M173.5 343.5v3.4M43.5 308.9h-3.4M43.5 272.7h-3.4M43.5 236.5h-3.4" stroke="#333" stroke-width="0.8" fill="none"/>
<path d="M43.5 334.2h-1.9M43.5 327.8h-1.9M43.5 323.3h-1.9M43.5 319.8h-1.9M43.5 316.9h-1.9M43.5 314.5h-1.9M43.5 312.4h-1.9M43.5 310.6h-1.9M43.5 298h-1.9M43.5 291.6h-1.9M43.5 287.1h-1.9M43.5 283.6h-1.9M43.5 280.7h-1.9M43.5 278.3h-1.9M43.5 276.2h-1.9M43.5 274.4h-1.9M43.5 261.8h-1.9M43.5 255.4h-1.9M43.5 250.9h-1.9M43.5 247.4h-1.9M43.5 244.5h-1.9M43.5 242.1h-1.9M43.5 240h-1.9M43.5 238.2h-1.9M43.5 225.6h-1.9" stroke="#333" stroke-width="0.6" fill="none"/>
<rect x="43.5" y="223.5" width="178" height="120" fill="none" stroke="#3a3a3a" stroke-width="0.8"/>
<text x="43.8" y="356.8" text-anchor="middle" class="t">10<tspan class="s" dy="-4.3">0</tspan></text>
<text x="108.8" y="356.8" text-anchor="middle" class="t">10<tspan class="s" dy="-4.3">2</tspan></text>
<text x="173.8" y="356.8" text-anchor="middle" class="t">10<tspan class="s" dy="-4.3">4</tspan></text>
<text x="37.5" y="312.5" text-anchor="end" class="t">10<tspan class="s" dy="-4.3">1</tspan></text>
<text x="37.5" y="276.3" text-anchor="end" class="t">10<tspan class="s" dy="-4.3">2</tspan></text>
<text x="37.5" y="240.1" text-anchor="end" class="t">10<tspan class="s" dy="-4.3">3</tspan></text>
<path d="M285.5 223.5V343.5M292 223.5V343.5M296.6 223.5V343.5M300.1 223.5V343.5M303 223.5V343.5M305.5 223.5V343.5M307.6 223.5V343.5M309.4 223.5V343.5M322.2 223.5V343.5M328.6 223.5V343.5M333.2 223.5V343.5M336.7 223.5V343.5M339.6 223.5V343.5M342.1 223.5V343.5M344.2 223.5V343.5M346.1 223.5V343.5M358.8 223.5V343.5M365.2 223.5V343.5M369.8 223.5V343.5M373.4 223.5V343.5M376.3 223.5V343.5M378.7 223.5V343.5M380.8 223.5V343.5M382.7 223.5V343.5M395.4 223.5V343.5M401.9 223.5V343.5M406.4 223.5V343.5M410 223.5V343.5M412.9 223.5V343.5M415.3 223.5V343.5M417.5 223.5V343.5M419.3 223.5V343.5M432 223.5V343.5M438.5 223.5V343.5M443.1 223.5V343.5M446.6 223.5V343.5M449.5 223.5V343.5M452 223.5V343.5M274.5 342.3H452.5M274.5 340.6H452.5M274.5 339H452.5M274.5 328.8H452.5M274.5 323.7H452.5M274.5 320H452.5M274.5 317.1H452.5M274.5 314.8H452.5M274.5 312.8H452.5M274.5 311.1H452.5M274.5 309.6H452.5M274.5 299.4H452.5M274.5 294.2H452.5M274.5 290.5H452.5M274.5 287.7H452.5M274.5 285.4H452.5M274.5 283.4H452.5M274.5 281.7H452.5M274.5 280.2H452.5M274.5 270H452.5M274.5 264.8H452.5M274.5 261.1H452.5M274.5 258.3H452.5M274.5 255.9H452.5M274.5 254H452.5M274.5 252.3H452.5M274.5 250.7H452.5M274.5 240.5H452.5M274.5 235.4H452.5M274.5 231.7H452.5M274.5 228.8H452.5M274.5 226.5H452.5M274.5 224.5H452.5" stroke="#000" stroke-opacity="0.085" stroke-width="0.8" stroke-dasharray="2.6 1.1 1.8 1.1" fill="none"/>
<path d="M311.1 223.5V343.5M347.8 223.5V343.5M384.4 223.5V343.5M421 223.5V343.5M274.5 337.7H452.5M274.5 308.3H452.5M274.5 278.8H452.5M274.5 249.4H452.5" stroke="#000" stroke-opacity="0.13" stroke-width="0.8" stroke-dasharray="3.2 1.3" fill="none"/>
<g clip-path="url(#c11)" fill="none" stroke-linejoin="round" stroke-linecap="round">
<path d="M274.5 240.2l.4-.2.6-.3.7-.3.7-.3.8-.4.8-.4.8-.4.7-.4.6-.4.7-.4.6-.4.7-.4.7-.4.6-.4.6-.5.6-.4.5-.4.6-.6.5-.5.5-.6.5-.6.4-.6.5-.5.4-.4.8-.6.7-.5.7-.3.8-.3.7-.1.8-.1.9 0 .8.1.8.1.8.1.7.1.7.1.8.3 1 .4.5.3.6.3.6.4.7.4.6.4.7.4.7.5.7.5.6.4.6.5.5.4.6.5.5.5.5.5.5.5.5.6.4.5.4.5.4.5.4.6.4.6.5.7.4.7.4.7.4.7.3.7.4.7.3.6.4.7.3.7.3.7.4.7.2.6.3.6.3.6.4.9.4.9.3.6.4.3.4-.3.4-.6.4-.9.5-.9.3-.6.3-.7.3-.7.4-.7.3-.7.4-.6.5-.6.5-.7.5-.5.6-.4.6-.1.6.1.7.4.7.5.6.6.7.7.4.5.4.5.5.5.4.6.4.7.4.6.4.7.3.8.2.6.2.6.2.7.2.8.2.7.1.7.2.8.1.7.1.7.2.7.1.6.2 1 .1 1 .2.9.1.9.1.8.1.5.2.2.2-.2.3-.6.2-.9.3-1 .3-.9.2-.7.4-1.3.3-1 .5.1.2.3.1.5.2.5.2.6.2.7.2.8.2.8.2.8.2.8.2.8.2.8.2.8.2.7.2.8.1.8.2.9.2.8.2.9.2.8.2.8.1.8.2.7.2.5.1.5.2.3.5 0 .4-1.2.4-1.2.5-.3.2.3.3.4.2.6.2.7.3.8.3.9.2.9.4.9.3.9.2.6.3.6.2.7.3.7.3.8.2.7.3.8.3.8.3.7.3.8.3.7.2.6.3.6.3.5.2.5.6 1 .6.6.5.3.6.2.7.3.6.3.6.2.6.2.7.2.9.2 1 .2.6.1.6.1.7.2.7.1.8.1.7.1.8.2.8.1.8.1.7.2.7.2.7.1.6.2.9.3.7.3.7.3.6.4.6.3.6.4.6.5.7.4.5.4.6.5.5.4.6.6.5.5.6.5.5.5.6.4.5.4.6.3.8.3.9.2.9.2.9.1.8 0 .7.1.5 0 .5-.5.5.2.6-.9.5 1.3.6-1.6.5.7.6 1.1.5-2 .6 2.1.5-1 .6-1 .5.3.6-.4.5-1.4.6 3.6.5-3.8.6 3.6.5-1 .6-5.8.5 1.3.6 1.4.5 2.3.6-5.1.5 3.3.6-2.2.5 3.3.6 1.1.5-1.6.6-5.3.5 5 .6-4.2.5 2.4.6-5.1.5 2.7.6-.9.5-3.1.6-1.6.5 1 .6-.8.5-2.3.6 1.8.5-10.6.6-9.8.5-2.1.6-5.6.5 2.3.6 16.7.5 1 .6 10.2.5 1.9.6-5.9.5-6.3.6-6.9.5-6.4.6 12.4.5 7.9.6 8.9.5 2.9.6 3.6.5 6.2.6 1.2.5-2.2.6-.3.5.6.6 3.6.5 1.9.6-.3.5.8.5-7.4.6 4.7.5-2.9.6 5 .5 0 .6-.2.5 3 .6-6.3.5 5.1.6-1.4.5-3.7.6 7.7.5-9.3.6 4.2.5.7.6.7.5 3.8.6-4.2.5 3.4.6-5.9.5 1.9.6-3.3.5 5 .6-2.1.5 3.7.6-6.7.5 3.6.6 5 .5-9.5.6 6.6.5.2.6.5.5-1.6.6-.5.5 4.6.6-6.7.5 4.3.6-.3.5.7-.1-2.5.3-45.6.3 45.6.1 0 .5-4.6.6 7.7.5-4.9.6 5.1.5 2.1.6-2.1.5-3.6.6 4.6.5-4.5.6-.5.5 2.6.6 1 .5.5.6-1.2.5-1.3.6 3.5.5-4.1.6 3 .5-5.9.6 1.4.5 7.5.6-6.5.5 1.9.6-3.6.5 7.2" stroke="#000000" stroke-width="1.75"/>
<path d="M274.5 240.2l.5-.2.6-.2.8-.3.8-.3.9-.3.9-.3.7-.2.6-.2.8-.3.7-.2.7-.3.8-.2.7-.3.7-.4.6-.4.6-.4.6-.4.7-.5.6-.5.5-.5.6-.4.6-.5.5-.4.7-.5.6-.5.6-.5.5-.4.6-.4.5-.4.5-.3.8-.4.6-.3.6-.2.7-.1.7-.1.7 0 .8.1 1.1.5.5.3.6.3.6.4.6.4.7.5.7.5.7.5.6.5.7.5.6.5.5.4.6.5.5.5.5.5.5.6.5.5.4.5.4.5.4.5.4.6.4.6.5.7.4.7.4.7.4.7.3.7.4.7.3.6.4.7.3.7.3.7.4.7.2.6.3.6.3.6.4.9.4.9.3.6.4.3.4-.3.4-.6.4-.9.5-.9.3-.6.3-.7.3-.7.4-.7.3-.7.4-.6.5-.6.5-.7.5-.5.6-.4.6-.1.6.1.7.4.7.5.6.6.7.7.4.5.4.6.5.6.4.6.4.7.4.7.4.6.3.6.4.7.3.8.3.7.3.6.2.6.3.5.7 1.1.6.4.5-.4.6-.8.6-.3.5.3.5.6.5.8.5.8.3.6.4.6.3.6.4.7.4.5.6.5.6.2.6.2.7.1.8.1.7.1.8.1.7.1.6.2.7.3.7.4.6.5.5.5.6.4.5.5.6.6.6.8.5.7.5.5.6.2.5-.2.5-.4.5-.5.5-.7.6-.7.6-.8.4-.5.4-.6.4-.7.4-.6.5-.7.4-.7.4-.6.5-.6.4-.4.4-.3.7-.2.7.1.7.3.8.5.9.5.5.3.6.3.5.4.6.4.6.4.7.4.6.4.7.3.7.3.8.2.7.1.7 0 .8-.1.8-.2.9-.1.8-.2.8-.2.9 0 .7 0 .8.1.6.2.6.4.4.4.3.5.3.7.2.7.3.8.2.8.2.9.2.9.2.9.1.8.2.9.2.8.1.7.2.6.2.5.2.4.2.3.4.2.4-.2.5-.4.4-.6.4-.7.5-.9.4-.8.4-.9.5-.7.4-.6.4-.7.4-.7.4-.8.4-.7.4-.8.4-.7.4-.6.4-.6.4-.5.3-.3.8-.4.6.1.6.7.7 1.1.2.5.3.5.3.7.2.8.3.8.3.8.3.9.3.8.3.8.3.8.2.7.3.6.3.5.2.3.8.3.8-.7.6-1 .5-.6-.5-.4.5.6.6-1.4.5-.1.6-.8.5-.5.6.4.5-.4.6-.4.5-.8.6-.8.5-2.3.6-1.6.5 0 .6-1.3.5.2.6-4 .5.6.6 1.7.5 1.6.6 2 .5.1.6 5.9.5 3.1.6 6.9.5 2.4.6 2.5.5.4.6 2.3.5 5.8.6-4.1.5 7.8.6.9.5-.4.6-.1.5 10.7.6-1.1.5-7 .6 2.2.5 5.4.6-4.3.5 1.7.6-3.4.5 4.3.6-5.1.5 11.1.6-1 .5 1 .6 6.6.5-.9.6-9.1.5 6.4.5-6.4.6 1.7.5 4.3.6-7.9.5 7.2.6-5 .5 5.9.6-4.1.5 3.4.6 2.6.5.2.6 1.2.5-.5.6-13.3.5 5.3.6 2.8.5 7.3.6-6.5.5 3.5.6-12.4.5 7.6.6 2 .5.1.6 2.1.5-4.1.6 2 .5-1.8.6-7 .5 8.7.6-.3.5 4.7.6-3.2.5-3.4.6-2.2.5 10.9.6-6.8.5-3.6.6 5.9.5 3.9.6-3.3.5 2.7.6-10.6.5 6.8.6 0 .5 5.2.6-5 .5-2.3.6 4.7.5-1.9.6 8.6.5-7.6" stroke="#338a16" stroke-width="1.3"/>
<path d="M274.5 240.2l.5-.2.6-.2.8-.3.8-.3.9-.3.9-.3.7-.2.6-.2.8-.3.7-.2.7-.3.8-.2.7-.3.7-.4.6-.4.6-.4.6-.4.7-.5.6-.5.5-.5.6-.4.6-.5.5-.4.7-.5.6-.5.6-.5.5-.4.6-.4.5-.4.5-.3.8-.4.6-.3.6-.2.7-.1.7-.1.7 0 .8.1 1.1.5.5.3.6.3.6.4.6.4.7.5.7.5.7.5.6.5.7.5.6.5.5.4.6.5.5.5.5.5.5.6.5.5.4.5.4.5.4.5.4.6.4.6.5.7.4.7.4.7.4.7.3.7.4.7.3.6.4.7.3.7.3.7.4.7.2.6.3.6.3.6.4.9.4.9.3.6.4.3.4-.3.4-.6.4-.9.5-.9.3-.6.3-.7.3-.7.4-.7.3-.7.4-.6.5-.6.5-.7.5-.5.6-.4.6-.1.6.1.7.4.7.5.6.6.7.7.4.5.4.6.5.6.4.6.4.7.4.7.4.6.3.6.4.7.3.8.3.7.3.6.2.6.3.5.7 1.1.6.4.5-.4.6-.8.6-.3.5.3.5.6.5.8.5.8.3.6.4.6.3.6.4.7.4.5.6.5.6.2.6.2.7.1.8.1.7.1.8.1.7.1.6.2.7.3.7.4.6.5.5.5.6.4.5.5.6.6.6.8.5.7.5.5.6.2.5-.2.5-.4.5-.5.5-.7.6-.7.6-.8.4-.5.4-.6.4-.7.4-.6.5-.7.4-.7.4-.6.5-.6.4-.4.4-.3.7-.2.7.1.7.3.8.5.9.5.5.3.6.3.5.4.6.4.6.4.7.4.6.4.7.3.7.3.8.2.7.1.7 0 .8-.2.8-.1.9-.2.8-.2.8-.1.9-.1.7 0 .8.1.6.3.6.4.3.4.3.5.3.7.3.7.2.8.2.9.2.8.2 1 .2.9.1.9.2.9.2.8.1.8.2.7.1.6.2.5.2.4.2.3.4.2.4-.2.3-.4.4-.6.4-.8.4-.8.4-.9.4-.9.4-.9.4-.7.4-.6.4-.7.4-.8.4-.8.4-.7.4-.8.4-.7.4-.6.4-.6.4-.4.3-.3.8-.3.6.2.6.8.7 1.3.2.5.2.5.3.7.2.8.2.8.3.8.2.9.3.9.3.8.2.9.3.8.2.7.2.6.3.6.2.4.2.3.5.2.6-.6.5-.9.4-1.1.4-1 .3-.6-.5.1.5-.2.6-1 .5-1.3.6-1 .5-2.6.6-.5.5-.2.6-3 .5-2.6.6-.9.5-.8.6-3.6.5-2.1.6-1.7.5.3.6-2.3.5-.4.6-1.4.5-1.3.6 2.6.5 5.2.6 3.7.5 2.6.6 6.3.5 5.1.6.9.5 3.7.6 3.5.5 6 .6-1 .5 6.3.6-4.3.5-.9.6 1.7.5 4.6.6-8.5.5 9.3.6 3.3.5 5.4.6-13.9.5 10.3.6-2.6.5 1 .6 1.3.5-3.4.6-4.5.5 7.6.6 5.1.5-9.6.6 7.6.5-3.5.5.8.6-1.4.5 8.1.6-11.9.5 7.9.6 3.3.5-2.4.6-6.2.5-4.5.6 7.5.5-8.5.6 9.8.5-2.9.6 1.1.5-.8.6-.8.5-6 .6 5.9.5 4.3.6-3.7.5 3.7.6-9.5.5 5.7.6 1.9.5 5.7.6-.5.5-9.8.6-1.5.5 8.3.6-7.8.5 5.3.6-.6.5 1 .6-.9.5-2.1.6-.6.5 10.3.6-7.8.5-1.9.6 7.4.5-9.5.6 4.7.5.1.6-2.6.5 2.9.6 4.3.5-3 .6-3.1.5-5.7.6 6.3.5 4.8" stroke="#eca32c" stroke-width="1.3"/>
<path d="M418 293.1l1.5 1.9 1.5 1.8 1.6 1.5 1.5.9 1.5 1 1.5.9 1.6.9 1.5.8 1.5.3 1.5.2 1.5.3 1.6.3 1.5.2 1.5.3 1.5.2 1.5.2 1.6.2 1.5.2 1.5.2 1.5.2 1.6.2 1.5.3 1.5.1 0 9.6-1.5-.2-1.5-.3-1.6-.2-1.5-.3-1.5-.3-1.5-.3-1.6-.3-1.5-.3-1.5-.3-1.5-.3-1.5-.4-1.6-.3-1.5-.4-1.5-.3-1.5-.3-1.5-1-1.6-1-1.5-.9-1.5-1-1.5-1-1.6-2.5-1.5-3.3-1.5-3.3z" fill="#1000ff" stroke="none"/>
<path d="M274.5 240.2l.5-.2.6-.2.8-.3.8-.3.9-.3.9-.3.7-.2.6-.2.8-.3.7-.2.7-.3.8-.2.7-.3.7-.4.6-.4.6-.4.6-.4.7-.5.6-.5.5-.5.6-.4.6-.5.5-.4.7-.5.6-.5.6-.5.5-.4.6-.4.5-.4.5-.3.8-.4.6-.3.6-.2.7-.1.7-.1.7 0 .8.1 1.1.5.5.3.6.3.6.4.6.4.7.5.7.5.7.5.6.5.7.5.6.5.5.4.6.5.5.5.5.5.5.6.5.5.4.5.4.5.4.5.4.6.4.6.5.7.4.7.4.7.4.7.3.7.4.7.3.6.4.7.3.7.3.7.4.7.2.6.3.6.3.6.4.9.4.9.3.6.4.3.4-.3.4-.6.4-.9.5-.9.3-.6.3-.7.3-.7.4-.7.3-.7.4-.6.5-.6.5-.7.5-.5.6-.4.6-.1.6.1.7.4.7.5.6.6.7.7.4.5.4.6.5.6.4.6.4.7.4.7.4.6.3.6.4.7.3.8.3.7.3.6.2.6.3.5.7 1.1.6.4.5-.4.6-.8.6-.3.5.3.5.6.5.8.5.8.3.6.4.6.3.6.4.7.4.5.6.5.6.2.6.2.7.1.8.1.7.1.8.1.7.1.6.2.7.3.7.4.6.5.5.5.6.4.5.5.6.6.6.8.5.7.5.5.6.2.5-.2.5-.4.5-.5.5-.7.6-.7.6-.8.4-.5.4-.6.4-.7.4-.6.5-.7.4-.7.4-.6.5-.6.4-.4.4-.3.7-.3.7 0 .7.3.8.5.9.7.4.4.5.4.5.5.6.6.5.6.6.6.6.6.5.6.6.5.5.5.5.5.5.3.9.4.8.3.8 0 .7 0 .8.1.7.1.7.2.7.1.7.2.7.2.6.3.6.5.4.5.3.6.3.7.3.7.3.7.3.8.3.8.3.7.3.7.2.8.3.8.2.9.3.8.3.7.2.6.4.4.3.2.4-.1.5-.3.5-.5.6-.6.5-.8.5-.7.5-.8.5-.6.4-.7.4-.7.4-.8.3-.8.3-.7.4-.6.4-.5.4-.2.5.1.5.4.6.7.5.7.6.8.6.5.7.3.7 0 .7-.2.8-.2.8-.4.8-.4.7-.3.6-.3.4-.2-.5-.4.5.5.6-2 .5-1.8.6-1.5.5-2.2.6-1.5.5-1.6.6-1.3.5-1.5.6-2.6.5-1.5.6-.9.5-2 .6-1.7.5-1.9.6-1.8.5-1.1.6-.9.5-.6.6 1.4.5 4.3.6 3.2.5 6.4.6 4.3.5 5.2.6 5.5.5 7 .6 2.3.5 3.5.6-.8.5 7 .6-1.4.5 3.2.6 3.9.5-.1.6-1.7.5 4.7.6 2.4.5-12.6.6 16.7.5 1.5.6-16.3.5 6.6.6-4.8.5 14 .6-5.4.5-6.7.6 17.5.5-12.9.6 13.1.5-1.1.5-6.9.6-2.5.5.9.6 6.1.5 3 .6-9.4.5-4.9.6 11.4.5-7.5.6 16.2.5-8.2.6 3.1.5-6.5.6 2.5.5-8.3.6 10.9.5-14.5.6.9.5 8.4.6-.3.5 13.8.6-17.8.5 11.5.6 7.5.5-12 .6-11.9.5 6.1.6 2.5.5 4.4.6 3.4.5-10.2.6 9.9.5 8.2.6-11.6.5-1.1.6.5.5 11.9.6.7.5-10.3.6-.3.5-.5.6 4.1.5-12.4.6 4.5.5 9.5.6 2.5.5 4.4.6-11.5.5-4.8.6 2.1.5-1.7" stroke="#1000ff" stroke-width="1.3"/>
<path d="M274.5 240.2l.5-.2.6-.2.8-.3.8-.3.9-.3.9-.3.7-.2.6-.2.8-.3.7-.2.7-.3.8-.2.7-.3.7-.4.6-.4.6-.4.6-.4.7-.5.6-.5.5-.5.6-.4.6-.5.5-.4.7-.5.6-.5.6-.5.5-.4.6-.4.5-.4.5-.3.8-.4.6-.3.6-.2.7-.1.7-.1.7 0 .8.1 1.1.5.5.3.6.3.6.4.6.4.7.5.7.5.7.5.6.5.7.5.6.5.5.4.6.5.5.5.5.5.5.6.5.5.4.5.4.5.4.5.4.6.4.6.5.7.4.7.4.7.4.7.3.7.4.7.3.6.4.7.3.7.3.7.4.7.2.6.3.6.3.6.4.9.4.9.3.6.4.3.4-.3.4-.6.4-.9.5-.9.3-.6.3-.7.3-.7.4-.7.3-.7.4-.6.5-.6.5-.7.5-.5.6-.4.6-.1.6.1.7.4.7.5.6.6.7.7.4.5.4.6.5.6.4.6.4.7.4.7.4.6.3.6.4.7.3.8.3.7.3.6.2.6.3.5.7 1.1.6.4.5-.4.6-.8.6-.3.5.3.5.6.5.8.5.8.3.6.4.6.3.6.4.7.4.5.6.5.6.2.6.2.7.1.8.1.7.1.8.1.7.1.6.2.7.3.7.4.6.5.5.5.6.4.5.5.6.6.6.8.5.7.5.5.6.2.5-.2.5-.4.5-.5.5-.7.6-.7.6-.8.4-.5.4-.6.4-.7.4-.6.5-.7.4-.7.4-.6.5-.6.4-.4.4-.3.7-.2.7.1.7.3.8.5.9.5.5.3.6.3.5.4.6.4.6.4.7.4.6.4.7.3.7.3.8.2.7.1.7 0 .8-.1.8-.2.9-.1.8-.2.8-.1.9-.1.7 0 .8.1.6.2.6.4.4.4.3.6.3.6.3.8.2.8.3.9.2.9.2 1 .2.9.1.8.2.9.2.7.2.6.2.6.2.4.2.2.4.1.4-.3.3-.5.4-.6.4-.8.4-1 .4-.9.4-.9.4-.9.4-.7.4-.6.4-.7.4-.7.4-.8.4-.7.4-.7.4-.7.4-.5.4-.5.4-.4.3-.2.5-.1.5.3.4.6.4.8.4.9.5 1 .3.5.2.7.3.7.3.8.3.9.3.8.4.9.3.8.3.8.3.7.3.6.2.5.3.3.7.2.6-.5.6-.8.5-.8.3-.5-.5-.2.5 0 .6.2.5-.6.6.2.5-.3.6-.5.5.3.6-.5.5.9.6-1.3.5 1.4.6-2.7.5.2.6-2.9.5 4.8.6-3.3.5.3.6-1.3.5.7.6 3.6.5-3.8.6-1.2.5 3.3.6 1.1.5 4.3.6 1.2.5-1.3.6-2 .5 3.1.6-7.9.5 5.8.6 5.2.5-12.4.6 9.7.5 1.7.6 8.4.5-2.5.6-1.3.5-7.9.6-6.1.5 2.4.6 5.1.5 1.6.6 4.3.5-7 .6 12.9.5-7 .6-3.3.5.9.6 5.8.5-5.1.5 2.7.6-5.7.5 10.6.6-1.4.5 2.2.6-5.9.5-5.3.6-.2.5 4.5.6 8.9.5-12.8.6 7.2.5-6.8.6 8.6.5-8.8.6 6.8.5-4.2.6 9.2.5-1.4.6-7.9.5 5.9.6-2.8.5 5.3.6-6.5.5 4.6.6-3.4.5 4.1.6-1.5.5 6.8.6-5.5.5-12.7.6 7 .5 1.8.6 8.8.5-5.8.6-.4.5-9 .6 1 .5 3.1.6 7.2.5-13 .6-1.1.5 14.2.6 3.7.5-16.9.6 4.5.5 1.4.6 5.4.5-10.1.6 12.4.5-13.1" stroke="#a52a2a" stroke-width="1.3"/>
<path d="M274.5 240.2l.5-.2.6-.2.8-.3.8-.3.9-.3.9-.3.7-.2.6-.2.8-.3.7-.2.7-.3.8-.2.7-.3.7-.4.6-.4.6-.4.6-.4.7-.5.6-.5.5-.5.6-.4.6-.5.5-.4.7-.5.6-.5.6-.5.5-.4.6-.4.5-.4.5-.3.8-.4.6-.3.6-.2.7-.1.7-.1.7 0 .8.1 1.1.5.5.3.6.3.6.4.6.4.7.5.7.5.7.5.6.5.7.5.6.5.5.4.6.5.5.5.5.5.5.6.5.5.4.5.4.5.4.5.4.6.4.6.5.7.4.7.4.7.4.7.3.7.4.7.3.6.4.7.3.7.3.7.4.7.2.6.3.6.3.6.4.9.4.9.3.6.4.3.4-.3.4-.6.4-.9.5-.9.3-.6.3-.7.3-.7.4-.7.3-.7.4-.6.5-.6.5-.7.5-.5.6-.4.6-.1.6.1.7.4.7.5.6.6.7.7.4.5.4.6.5.6.4.6.4.7.4.7.4.6.3.6.4.7.3.8.3.7.3.6.2.6.3.5.7 1.1.6.4.5-.4.6-.8.6-.3.5.3.5.6.5.8.5.8.3.6.4.6.3.6.4.7.4.5.6.5.6.2.6.2.7.1.8.1.7.1.8.1.7.1.6.2.7.3.7.4.6.5.5.5.6.4.5.5.6.6.6.8.5.7.5.5.6.2.5-.2.5-.4.5-.5.5-.7.6-.7.6-.8.4-.5.4-.6.4-.7.4-.6.5-.7.4-.7.4-.6.5-.6.4-.4.4-.3.7-.2.7.1.7.3.8.5.9.5.5.3.6.3.5.4.6.4.6.4.7.4.6.4.7.3.7.3.8.2.7.1.7 0 .8-.1.8-.2.9-.2.8-.1.8-.2.9-.1.7 0 .8.2.6.2.6.4.4.4.3.6.3.6.2.8.3.8.2.9.2.9.2.9.2 1 .1.9.2.8.2.8.1.8.2.6.2.5.2.4.2.2.3.1.4-.3.3-.4.4-.7.3-.8.4-.9.3-.9.4-.9.4-1 .3-.8.4-.7.4-.7.4-.7.4-.7.4-.8.4-.7.4-.7.4-.6.4-.6.4-.5.4-.3.3-.2.5 0 .5.3.4.7.4.8.4 1.1.5 1.1.2.5.3.6.2.7.3.7.2.8.3.8.3.8.2.9.3.7.3.8.2.7.3.6.2.5.3.4.2.3.5.2.6-.5.5-.7.4-1 .4-.8.3-.5-.5.2.5-.2.6 0 .5-1 .6.5.5-.6.6-.2.5.2.6-1.7.5 1.4.6-.5.5-.8.6-1.7.5.3.6 1.8.5-3.6.6-.7.5.7.6-1.3.5.3.6-1 .5 4.8.6-1.4.5 3.1.6 5 .5-4.7.6.3.5-2.2.6 3.5.5 4.7.6-2.5.5 6.7.6 3.1.5-9.1.6-.3.5 12.3.6-5.6.5-2.9.6 7.5.5-5.4.6 7.1.5-4 .6-.9.5 6.1.6-8.2.5 4.5.6 7.8.5-10.2.6-1 .5 4.2.6-1.8.5-5.4.5 14.6.6-10.8.5 2.9.6-.4.5 1.7.6-4 .5 9.2.6-2.1.5-6.1.6 1.6.5-1.7.6 9.5.5-13.6.6 14.6.5-4.8.6-4.8.5 6.2.6-2.9.5 2.8.6-5.6.5 4 .6-8 .5 2.6.6 7.8.5-2.6.6 6 .5-10.7.6 4.1.5-3.3.6 3.4.5-5.1.6 13.8.5-7.7.6-1.1.5.2.6 4.1.5-8.6.6 10.3.5-10.7.6 5.6.5-1.2.6 2.9.5.4.6.2.5 1.4.6-1.5.5 3.5.6-8 .5 1.4.6-2.6.5 6.7" stroke="#ff1500" stroke-width="1.3"/>
<path d="M414.5 263.2l1.5 5.2 1.5 3.4 1.6.3 1.5.6 1.5 1.1 1.5 1.1 1.5 1 1.6.3 1.5.2 1.5.3 1.5.3 1.6.3 1.5.3 1.5.3 1.5.3 1.5.3 1.6.3 1.5.6 1.5.6 1.5.6 1.5.6 1.6.6 1.5.7 1.5.7 0 13.6-1.5-.7-1.5-.7-1.6-.6-1.5-.6-1.5-.6-1.5-.6-1.5-.6-1.6-.4-1.5-.4-1.5-.5-1.5-.4-1.5-.4-1.6-.4-1.5-.4-1.5-.5-1.5-.4-1.6-.4-1.5-1.1-1.5-1.2-1.5-1.2-1.5-1.7-1.6-2-1.5-5.2-1.5-7z" fill="#7e1b8d" stroke="none"/>
<path d="M274.5 240.2l.5-.2.6-.2.8-.3.8-.3.9-.3.9-.3.7-.2.6-.2.8-.3.7-.2.7-.3.8-.2.7-.3.7-.4.6-.4.6-.4.6-.4.7-.5.6-.5.5-.5.6-.4.6-.5.5-.4.7-.5.6-.5.6-.5.5-.4.6-.4.5-.4.5-.3.8-.4.6-.3.6-.2.7-.1.7-.1.7 0 .8.1 1.1.5.5.3.6.3.6.4.6.4.7.5.7.5.7.5.6.5.7.5.6.5.5.4.6.5.5.5.5.5.5.6.5.5.4.5.4.5.4.5.4.6.4.6.5.7.4.7.4.7.4.7.3.7.4.7.3.6.4.7.3.7.3.7.4.7.2.6.3.6.3.6.4.9.4.9.3.6.4.3.4-.3.4-.6.4-.9.5-.9.3-.6.3-.7.3-.7.4-.7.3-.7.4-.6.5-.6.5-.7.5-.5.6-.4.6-.1.6.1.7.4.7.5.6.6.7.7.4.5.4.6.5.6.4.6.4.7.4.7.4.6.3.6.4.7.3.8.3.7.3.6.2.6.3.5.7 1.1.6.4.5-.4.6-.8.6-.3.5.3.5.6.5.8.5.8.3.6.4.6.3.6.4.7.4.5.6.5.6.2.6.2.7.1.8.1.7.1.8.1.7.1.6.2.7.3.7.4.6.5.5.5.6.4.5.5.6.6.6.8.5.7.5.5.6.2.5-.2.5-.4.5-.5.5-.7.6-.7.6-.8.4-.5.4-.6.4-.7.4-.6.5-.7.4-.7.4-.6.5-.6.4-.4.4-.3.7-.2.7.1.7.3.8.5.9.5.5.3.6.3.5.4.6.4.6.4.7.4.6.4.7.3.7.3.8.2.7.1.7 0 .8-.1.8-.2.9-.1.8-.2.8-.2.9 0 .7 0 .8.1.6.2.6.4.4.4.3.5.3.7.2.7.3.8.2.9.2.9.2.9.2.9.1.8.2.9.2.8.1.7.2.6.2.5.2.4.2.2.4.1.4-.2.3-.5.4-.7.4-.8.4-.9.4-1 .4-.9.4-.9.4-.7.4-.6.4-.7.4-.7.4-.8.4-.7.4-.7.4-.7.4-.5.4-.5.4-.4.3-.2.5-.1.5.3.4.6.4.7.4 1 .5 1 .2.5.3.7.3.7.2.8.3.8.3.8.3.9.3.8.3.8.3.8.2.6.3.6.3.4.2.3.5.1.6-.4.5-.8.4-.9.4-.9.3-.5-.5-.2.5-.1.6.9.5-.1.6-.9.5.3.6-.4.5-.4.6-.1.5-.9.6-.2.5.3.6-.2.5 1.7.6-1.2.5-2.5.6-1.6.5 3.3.6-4 .5-.6.6-4.9.5 1.5.6-2.6.5 2 .6 6 .5-7 .6 8.6-.3-4.9.3-4.4.3 4.4.2-5.4.2 5.4-.2 0 .6-2.2.5-5.1.6 21.7.5-4.5.6 14 .5-10.5.6-14.3.5 11.2.6 9.4.5 9.1.6-15.5.5 1.7.6 1 .5-2.7.6 3.2.5 1.1.6 8.5.5 1.7.6-19.9.5 14.6.6.6.5 1.1.6 11.2.5-9.4.5-17.4.6 15.2.5.5.6 4 .5-16.5.6-4.6.5.1.6 18.8.5-3.2.6-1.4.5.1.6-12.3.5 8.7.6-5.4.5 8 .6-13.9.5 13.7.6 6.8.5-18 .6 9.8.5 4.6.6-16.8.5 9.7.6-3.4.5 7.5.6-5.3.5 15.2.6-15.5.5 4.1.6 9.3.5 12.4.6.3.5-22.4.6 2.4.5 9.3.6 1.7.5 2.4.6-14.2.5 2.5.6-1 .5 2.2.6 10.7.5 3.1.6 7.1.5 9 .6 15 .5 8.9.6-3.1.5 2.1.6-1.4.5 2.4" stroke="#7e1b8d" stroke-width="1.3"/>
</g>
<path d="M274.5 343.5v3.4M311.1 343.5v3.4M347.8 343.5v3.4M384.4 343.5v3.4M421 343.5v3.4M274.5 337.7h-3.4M274.5 308.3h-3.4M274.5 278.8h-3.4M274.5 249.4h-3.4" stroke="#333" stroke-width="0.8" fill="none"/>
<path d="M285.5 343.5v1.9M292 343.5v1.9M296.6 343.5v1.9M300.1 343.5v1.9M303 343.5v1.9M305.5 343.5v1.9M307.6 343.5v1.9M309.4 343.5v1.9M322.2 343.5v1.9M328.6 343.5v1.9M333.2 343.5v1.9M336.7 343.5v1.9M339.6 343.5v1.9M342.1 343.5v1.9M344.2 343.5v1.9M346.1 343.5v1.9M358.8 343.5v1.9M365.2 343.5v1.9M369.8 343.5v1.9M373.4 343.5v1.9M376.3 343.5v1.9M378.7 343.5v1.9M380.8 343.5v1.9M382.7 343.5v1.9M395.4 343.5v1.9M401.9 343.5v1.9M406.4 343.5v1.9M410 343.5v1.9M412.9 343.5v1.9M415.3 343.5v1.9M417.5 343.5v1.9M419.3 343.5v1.9M432 343.5v1.9M438.5 343.5v1.9M443.1 343.5v1.9M446.6 343.5v1.9M449.5 343.5v1.9M452 343.5v1.9M274.5 342.3h-1.9M274.5 340.6h-1.9M274.5 339h-1.9M274.5 328.8h-1.9M274.5 323.7h-1.9M274.5 320h-1.9M274.5 317.1h-1.9M274.5 314.8h-1.9M274.5 312.8h-1.9M274.5 311.1h-1.9M274.5 309.6h-1.9M274.5 299.4h-1.9M274.5 294.2h-1.9M274.5 290.5h-1.9M274.5 287.7h-1.9M274.5 285.4h-1.9M274.5 283.4h-1.9M274.5 281.7h-1.9M274.5 280.2h-1.9M274.5 270h-1.9M274.5 264.8h-1.9M274.5 261.1h-1.9M274.5 258.3h-1.9M274.5 255.9h-1.9M274.5 254h-1.9M274.5 252.3h-1.9M274.5 250.7h-1.9M274.5 240.5h-1.9M274.5 235.4h-1.9M274.5 231.7h-1.9M274.5 228.8h-1.9M274.5 226.5h-1.9M274.5 224.5h-1.9" stroke="#333" stroke-width="0.6" fill="none"/>
<rect x="274.5" y="223.5" width="178" height="120" fill="none" stroke="#3a3a3a" stroke-width="0.8"/>
<text x="274.8" y="356.8" text-anchor="middle" class="t">10<tspan class="s" dy="-4.3">0</tspan></text>
<text x="311.4" y="356.8" text-anchor="middle" class="t">10<tspan class="s" dy="-4.3">1</tspan></text>
<text x="348.1" y="356.8" text-anchor="middle" class="t">10<tspan class="s" dy="-4.3">2</tspan></text>
<text x="384.7" y="356.8" text-anchor="middle" class="t">10<tspan class="s" dy="-4.3">3</tspan></text>
<text x="421.3" y="356.8" text-anchor="middle" class="t">10<tspan class="s" dy="-4.3">4</tspan></text>
<text x="268.5" y="341.3" text-anchor="end" class="t">10<tspan class="s" dy="-4.3">−1</tspan></text>
<text x="268.5" y="311.9" text-anchor="end" class="t">10<tspan class="s" dy="-4.3">0</tspan></text>
<text x="268.5" y="282.4" text-anchor="end" class="t">10<tspan class="s" dy="-4.3">1</tspan></text>
<text x="268.5" y="253" text-anchor="end" class="t">10<tspan class="s" dy="-4.3">2</tspan></text>
<path d="M516.5 223.5V343.5M522.9 223.5V343.5M527.4 223.5V343.5M531 223.5V343.5M533.8 223.5V343.5M536.3 223.5V343.5M538.4 223.5V343.5M540.3 223.5V343.5M552.9 223.5V343.5M559.3 223.5V343.5M563.9 223.5V343.5M567.4 223.5V343.5M570.3 223.5V343.5M572.7 223.5V343.5M574.8 223.5V343.5M576.7 223.5V343.5M589.3 223.5V343.5M595.7 223.5V343.5M600.3 223.5V343.5M603.8 223.5V343.5M606.7 223.5V343.5M609.1 223.5V343.5M611.3 223.5V343.5M613.1 223.5V343.5M625.8 223.5V343.5M632.2 223.5V343.5M636.7 223.5V343.5M640.3 223.5V343.5M643.1 223.5V343.5M645.6 223.5V343.5M647.7 223.5V343.5M649.6 223.5V343.5M662.2 223.5V343.5M668.6 223.5V343.5M673.2 223.5V343.5M676.7 223.5V343.5M679.6 223.5V343.5M682 223.5V343.5M505.5 340.9H683.5M505.5 337.2H683.5M505.5 334.2H683.5M505.5 331.7H683.5M505.5 329.5H683.5M505.5 327.6H683.5M505.5 314.6H683.5M505.5 308H683.5M505.5 303.3H683.5M505.5 299.6H683.5M505.5 296.6H683.5M505.5 294.1H683.5M505.5 291.9H683.5M505.5 290H683.5M505.5 277H683.5M505.5 270.4H683.5M505.5 265.7H683.5M505.5 262H683.5M505.5 259H683.5M505.5 256.5H683.5M505.5 254.3H683.5M505.5 252.4H683.5M505.5 239.4H683.5M505.5 232.7H683.5M505.5 228H683.5M505.5 224.4H683.5" stroke="#000" stroke-opacity="0.085" stroke-width="0.8" stroke-dasharray="2.6 1.1 1.8 1.1" fill="none"/>
<path d="M541.9 223.5V343.5M578.4 223.5V343.5M614.8 223.5V343.5M651.2 223.5V343.5M505.5 325.9H683.5M505.5 288.3H683.5M505.5 250.7H683.5" stroke="#000" stroke-opacity="0.13" stroke-width="0.8" stroke-dasharray="3.2 1.3" fill="none"/>
<g clip-path="url(#c12)" fill="none" stroke-linejoin="round" stroke-linecap="round">
<path d="M505.5 246.6l.4 0 .6-.1.6 0 .8 0 .8-.1.8-.1.8-.1.9-.2.8-.2.6-.2.7-.3.6-.2.7-.3.7-.3.7-.4.7-.3.7-.4.6-.3.7-.4.7-.3.6-.4.7-.4.6-.4.7-.4.7-.4.6-.4.6-.4.7-.5.6-.4.6-.4.6-.4.6-.4.6-.4.7-.4.6-.5.6-.4.6-.4.6-.4.6-.4.6-.4.5-.3.6-.4.7-.4.6-.5.7-.4.6-.3.6-.4.6-.4.6-.3.6-.3.7-.4.7-.3.7-.3.7-.3.6-.2.6-.2.9-.2.8-.2.8-.1.8 0 .7.1.7.2.6.3.7.6.4.4.4.5.5.6.4.6.4.7.5.8.4.9.2.5.3.6.2.6.2.7.3.7.2.7.2.7.3.7.2.8.2.7.3.8.2.7.2.8.2.7.2.6.1.8.2.7.2.7.2.7.2.8.1.7.2.7.2.8.1.7.2.7.1.6.2.7.1.6.2.9.2.9.1.9.2.9.1.8.2.8.1.7.2.7.1.5.2.4.9.3 1-.8.7-.5.6-.6.7-.1.5.3.5.7.5.8.5.9.3.6.4.6.3.7.4.7.3.8.4.8.4.8.3.6.3.7.2.6.3.7.3.7.3.7.3.8.3.7.3.7.3.7.3.6.2.7.3.6.3.7.3.6.3.6.2.7.3.6.3.7.3.6.3.7.3.7.3.6.3.7.3.6.3.7.3.6.3.7.3.7.3.6.3.7.3.7.3.7.3.7.3.7.3.7.3.7.3.7.2.7.3.8.3.6.3.7.3.7.3.7.3.8.4.8.3.7.3.8.3.7.4.7.3.6.3.5.3.5.7.8.6.4.7.3.8.3.6.2.6.3.7.2.7.2.8.3.8.3.8.4.5.3.6.3.6.3.6.3.6.4.7.3.6.4.6.5.7.4.6.5.6.6.5.5.4.5.5.5.5.7.5.6.5.7.4.6.5.7.5.6.4.7.5.6.4.5.4.5.4.4.3.4 1 .8.6.1.6 0 .7.2.6.3.6.3.6.3.6.3.7.4.6.5.5.4.5.5.5.5.5.6.6.6.5.5.4.5.5.4.7.6.7.4.7.4.5.4.4.2.5.4.5 1.2.4-.8.5.8.4-.8.5-1.8.4 1.9.5-1.9.4-6.1.5 2.5.4-.7.5.6.4-6.7.5 1.3.4-.5.5 3.6.4-6.5.5 1.5.4-3.7.5-.5.4 4.2.5-1.2.4 1.4.5-3.4.4 7.6.5-2.6.4-1.5.5 2.2.4-2.2.5 5.9.4-2.3.5-4 .4 9.1.5-10.4.4.2.5 8.5.4-3.9.5.7.4 1.7.5-5.7.4 4 .5-9 .4.4.5 0 .4-3.2.5 1.1.4-4.2.5 2.6.4-2.2.5-3.5.4 5.1.5 5.4.4-.8.5 1 .4 3.3.5 5.7.4 2.8.5-5.4.4 1.9.5 0 .4 3 .5-4.4.4 3.6.5 1.5.4.1.5-4.7.4 6.1.5-1.9.4-5.1.5 2.6.4 3.9.5 2 .4 0 .5-2 .4-2.5.5 1.9.5 2.6.4-7.4.5 10.4.4-5.9.5 4.8.4-1.7.5 2.8.4-2.2.5-1.9.4-3.6.5-.7.4 4.9.5-3.1.4-.2.5 6.1.4.1.5-2.2.4-3.5.5 2.3.4-2.5.5-1.8.4-1.1.5 3.2.4-2.4.5 3.6.4 1.9.5-.1.4 1 .5-4.2.4 1.7.5 1.2.4-2.7.5 1.2.4 1.3.5-.1.4-3 .5.8.4 5 .5-9 .4 10.5.5-3.6.4-1.8.5 2.2.4-3.2.5.9.4 2.5.5-3.9.4 1.6.5 2.9.4 1.1.5-5.1.4-1.6.5 5.9.4-3.2.5-4.3.4 1.5.5 2.6.4-1.3.5 1.1.4-4.3.5 2.8.4-1.8.5 6.2.4-1.4.5-1.5.4-1.6.5 2.6.4 1.2.5-1.9.4.1.5 3.3.4-4.3.5.4.4-.3.5-2.8.4 3.7.5-3.3" stroke="#000000" stroke-width="1.75"/>
<path d="M645 327.9l1.5.1 1.5.1 1.6.1 1.5.1 1.5.1 1.5.1 1.5.1 1.5.1 1.6.1 1.5.1 1.5 0 1.5 0 1.5 0 1.6 0 1.5 0 1.5 0 1.5 0 1.5 0 1.6 0 1.5 0 1.5 0 1.5 0 1.5 0 1.5 0 1.6 0 1.5 0 1.5 0 0 4.2-1.5 0-1.5 0-1.6 0-1.5 0-1.5 0-1.5 0-1.5 0-1.5 0-1.6 0-1.5 0-1.5 0-1.5 0-1.5 0-1.6 0-1.5 0-1.5 0-1.5 0-1.5-.1-1.6-.1-1.5-.1-1.5-.1-1.5-.1-1.5-.1-1.5-.1-1.6-.1-1.5-.1-1.5-.1z" fill="#338a16" stroke="none"/>
<path d="M505.5 246.6l.4 0 .5-.1.6-.1.7 0 .7-.1.8-.1.8 0 .9-.1.8-.1.9-.1.8-.1.8-.2.8-.1.7-.1.7-.2.8-.1.7-.2.8-.2.7-.2.8-.2.7-.2.7-.1.7-.2.7-.2.7-.2.7-.2.6-.2.8-.3.8-.2.8-.3.7-.2.7-.3.6-.3.7-.2.6-.3.7-.2.6-.2.8-.2.8-.3.8-.2.8-.2.7-.2.8-.1.7-.2.6-.1.9-.2.9-.1.8-.1.7-.1.7 0 .8 0 .8 0 .7 0 .7.2.8.3.7.4.7.5.8.6.4.4.5.5.4.5.4.6.4.6.5.7.4.7.3.5.3.6.3.7.3.6.3.7.3.6.3.7.3.7.3.7.3.7.3.7.2.7.3.7.3.8.2.7.3.8.2.7.2.7.3.6.2.6.4 1 .3.9.3.9.3.7.3.5.4.3.5-.2.6-.6.6-.9.6-.7.6-.3.5.2.5.4.5.6.6.8.5.9.3.5.3.7.3.7.4.7.3.7.3.7.4.8.3.6.4.6.5.7.6.6.5.6.6.6.6.5.6.4.6.4.8.3.8.2.7.1.8 0 .9.1.7.1.7.1.7.1.7 0 .7.1.8.1.7.1.7.1.6.1.6 0 .6.1.7.1.8.1 1 .1.6.1.6 0 .7.1.7.1.8.1.8.1.8.1.8.1.8.1.8.1.7.1.7.1.6.1.6.1 1 .2.8.2.7.1.6.2.6.2.6.2.7.2.7.3.8.3.7.3.7.4.7.3.7.2.7.2.9.1.8.1.8-.1.8-.2.7-.2.7-.4.6-.5.6-.6.6-.6.5-.4.8-.5.8-.4.8 0 .6.2.7.4.6.6.7.7.4.4.4.5.4.5.5.6.4.6.4.7.5.7.3.6.3.6.3.8.4.8.3.8.3.8.4.7.3.7.3.6.4.4.3.2.5-.1.5-.6.5-.9.5-1 .5-.9.4-.5.5 0 .2.3.3.5.2.7.3.8.2.9.2.9.2 1 .3.9.2.9.2.8.2.6.3.5.2.2.3-.1.4-.5.3-.8.3-1 .4-1 .3-1 .3-.9.4-.5.3-.2.3.2.3.4.3.6.3.7.3.9.3.8.3 1 .3.9.3.8.3.7.3.7.4.6.3.6.4.5.3.6.3.6.4.7.3.8.3.9.2.6.1.5.2.7.1.7.2.7.1.7.2.7.1.8.2.7.1.8.2.8.1.7.2.8.1.7.1.7.2.7.1.7.2.8.1.8.2.7.1.8.2.8.1.7.2.8.1.7.1.7.2.7.1.7.1.6.2.6.1.6.2 1 .2.9.3.9.2.8.2.8.1.6.2.6.1.4 0-3.9.4 5.7.4-.5.4-1 .4-1.3.4 3.2.4-.9.4-2.1.4 3.4.4 2 .4-3.2.4 3.3.4-3.5.4 4.4.4-2.8.4-3.4.4 5.2.4-.3.4-1.5.4-1.1.4 2 .4-1.3.4 1.9.4-6.5.4.4.4.4.5 2.8.4 4 .4-.3.4-1.9.4 5.4.4-7.1.4-.1.4-.3.4-.7.4 4.1.4-6.5.4 3.8.4 6.5.4-1 .4-10.1.4.3.4 5.7.4-1.1.4 6 .4-10.2.4 3.2.4 4.5.4-2.1.4-.2.4 1.9.4-.1.4-.7.4-.1.4-4.6.4-1.5.4 6.2.4.8.4.3.4-6.9.4 6.4.4-6.4.4 2.2.4 2.4.4-6 .4 8.5.4-2.9.4-1.1.4.4.4 1.1.4-3.7.4.8.4-1.7.4 6 .4-4.8.4 1.5.4 3.1.5-2.1.4 1.9.4-7.2.4 4.8.4 2.6.4-4.3.4 3.5.4-2.3.4 3.7.4-7.3.4 6.4.4 2.6.4-6.8.4 4 .4 4.4.4-8.3.4 5.1.4-4.7.4 5 .4-.3.4-2.9.4.9.4-3.8.4 5.7.4-1.9.4-1.9" stroke="#338a16" stroke-width="1.3"/>
<path d="M645 327.9l1.5.2 1.5.1 1.6.2 1.5.1 1.5.2 1.5.1 1.5.2 1.5.1 1.6.2 1.5.1 1.5 0 1.5.1 1.5 0 1.6 0 1.5.1 1.5 0 1.5 0 1.5.1 1.6 0 1.5 0 1.5.1 1.5 0 1.5 0 1.5.1 1.6 0 1.5 0 1.5 0 0 4.2-1.5 0-1.5 0-1.6 0-1.5-.1-1.5 0-1.5 0-1.5-.1-1.5 0-1.6 0-1.5-.1-1.5 0-1.5 0-1.5-.1-1.6 0-1.5 0-1.5-.1-1.5 0-1.5-.1-1.6-.2-1.5-.1-1.5-.2-1.5-.1-1.5-.2-1.5-.1-1.6-.2-1.5-.1-1.5-.2z" fill="#eca32c" stroke="none"/>
<path d="M505.5 246.6l.4 0 .5-.1.6-.1.7 0 .7-.1.8-.1.8 0 .9-.1.8-.1.9-.1.8-.1.8-.2.8-.1.7-.1.7-.2.8-.1.7-.2.8-.2.7-.2.8-.2.7-.2.7-.1.7-.2.7-.2.7-.2.7-.2.6-.2.8-.3.8-.2.8-.3.7-.2.7-.3.6-.3.7-.2.6-.3.7-.2.6-.2.8-.2.8-.3.8-.2.8-.2.7-.2.8-.1.7-.2.6-.1.9-.2.9-.1.8-.1.7-.1.7 0 .8 0 .8 0 .7 0 .7.2.8.3.7.4.7.5.8.6.4.4.5.5.4.5.4.6.4.6.5.7.4.7.3.5.3.6.3.7.3.6.3.7.3.6.3.7.3.7.3.7.3.7.3.7.2.7.3.7.3.8.2.7.3.8.2.7.2.7.3.6.2.6.4 1 .3.9.3.9.3.7.3.5.4.3.5-.2.6-.6.6-.9.6-.7.6-.3.5.2.5.4.5.6.6.8.5.9.3.5.3.7.3.7.4.7.3.7.3.7.4.8.3.6.4.6.5.7.6.6.5.6.6.6.6.5.6.4.6.4.8.3.8.2.7.1.8 0 .9.1.7.1.7.1.7.1.7 0 .7.1.8.1.7.1.7.1.6.1.6 0 .6.1.7.1.8.1 1 .1.6.1.6 0 .7.1.7.1.8.1.8.1.8.1.8.1.8.1.8.1.7.1.7.1.6.1.6.1 1 .2.8.2.7.1.6.2.6.2.6.2.7.2.7.3.8.3.7.3.7.4.7.3.7.2.7.2.9.1.8.1.8-.1.8-.2.7-.2.7-.4.6-.5.6-.6.6-.6.5-.4.8-.5.8-.4.8 0 .6.2.7.3.6.6.7.8.3.5.3.5.3.7.4.6.3.7.3.8.4.7.3.8.4.7.3.7.3.7.3.8.4.9.3.8.3.8.4.7.3.7.3.5.4.3.3.1.3-.2.3-.4.4-.7.3-.9.3-.9.3-1 .3-.9.3-.9.3-.6.3-.4.3-.1.2.2.3.5.2.7.3.8.2 1 .2 1 .2 1 .3 1 .2.9.2.8.2.6.3.4.2.1.2-.2.2-.4.2-.6.3-.8.2-.9.2-.9.2-1.1.2-1 .2-1 .2-.9.3-.8.2-.7.2-.5.2-.2.3.1.3.6.3 1 .3 1.1.3 1.3.3 1.2.3 1 .3.7.3.3.3-.3.1-.3.1-.4.1-.5.1-.6.1-.7.1-.7.1-.8.1-.9.1-1 .1-.9.1-1 .1-1 .1-1 .1-1 .1-1 .1-1 .1-.9.1-.9 0-.8.1-.8.1-.7.1-.6.1-.5.1-.5 0-.3.1-.1.1-.1.1.1 0 .1.1.3.1.3 0 .4.1.5 0 .5.1.6 0 .7.1.7 0 .7.1.8 0 .9.1.8 0 .9.1.9 0 1 .1.9 0 1 .1.9 0 .9.1 1 0 .9.1.9 0 .9.1.8 0 .8.1.8.1.7 0 .7.1.7 0 .7.1.7 0 .7.1.8.1.7 0 .8.1.7 0 .7.1.8.1.7 0 .8.1.7 0 .8.1.7.1.8 0 .7.1.7.1.8 0 .7.1.7.1.7 0 .7.1.6.1.7.1.6 0 .7.1.6.1.6.1.9.2.9.1.8.2.9.1.9.2.8.1.9.2.8.2.8.1.8.2.8.2.7.1.7.2.7.1.6.2.6.1.6.1.5.1.5.1.4.1.4 0-3.7.4 4.1.4 6.1.4-1.2.4-3.9.4 4.1.4-3.7.4 4.5.4-.6.4-4.1.4 1.3.4-6.1.4 5.7.4 6.4.4-4.6.4-1.4.4-.1.4 7.8.4-5.8.4 5.8.4-7.1.4-4.2.4 3.6.4-5.5.4 2.2.4 1.5.5.9.4.8.4-4.1.4 3.7.4-3.4.4 2.6.4 3.4.4-.8.4-2 .4-4.2.4 3.8.4 2.2.4-4.8.4 7.1.4-2.6.4.7.4 2 .4-7.3.4 7.7.4-8.6.4 4.8.4.2.4 1.4.4-3 .4 2.3.4-.5.4 7.2.4-8 .4-3.3.4 5.8.4-6.2.4 1.8.4-2 .4 1.7.4 2.6.4 4.7.4-4.9.4 2.1.4-2.8.4-1.9.4 9.3.4-3.2.4-2.1.4.8.4-4 .4 9.8.4-5.6.4 4.1.4-2.2.4-3.3.4 6.2.5-7.3.4 6.9.4-5.3.4 1.4.4 1.2.4.6.4-4.8.4.9.4-1.2.4-4 .4 1 .4 2.1.4-1.8.4 4.8.4 2.7.4-2.3.4-.4.4-2.7.4 3.8.4 4.1.4-5.3.4.4.4-2.2.4.9.4-1.2.4 2.5" stroke="#eca32c" stroke-width="1.3"/>
<path d="M650 322.9l1.5 0 1.5 0 1.5 0 1.5 0 1.5 0 1.5 0 1.5 0 1.5 0 1.5 0 1.5 0 1.5 0 1.5 0 1.5 0 1.5 0 1.5 0 1.5 0 1.5 0 1.5 0 1.5 0 1.5 0 1.5 0 1.5 0 1.5 0 1.5 0 0 4.2-1.5 0-1.5 0-1.5 0-1.5 0-1.5 0-1.5 0-1.5 0-1.5 0-1.5 0-1.5 0-1.5 0-1.5 0-1.5 0-1.5 0-1.5 0-1.5 0-1.5 0-1.5 0-1.5 0-1.5 0-1.5 0-1.5 0-1.5 0-1.5 0z" fill="#1000ff" stroke="none"/>
<path d="M505.5 246.6l.4 0 .5-.1.6-.1.7 0 .7-.1.8-.1.8 0 .9-.1.8-.1.9-.1.8-.1.8-.2.8-.1.7-.1.7-.2.8-.1.7-.2.8-.2.7-.2.8-.2.7-.2.7-.1.7-.2.7-.2.7-.2.7-.2.6-.2.8-.3.8-.2.8-.3.7-.2.7-.3.6-.3.7-.2.6-.3.7-.2.6-.2.8-.2.8-.3.8-.2.8-.2.7-.2.8-.1.7-.2.6-.1.9-.2.9-.1.8-.1.7-.1.7 0 .8 0 .8 0 .7 0 .7.2.8.3.7.4.7.5.8.6.4.4.5.5.4.5.4.6.4.6.5.7.4.7.3.5.3.6.3.7.3.6.3.7.3.6.3.7.3.7.3.7.3.7.3.7.2.7.3.7.3.8.2.7.3.8.2.7.2.7.3.6.2.6.4 1 .3.9.3.9.3.7.3.5.4.3.5-.2.6-.6.6-.9.6-.7.6-.3.5.2.5.4.5.6.6.8.5.9.3.5.3.7.3.7.4.7.3.7.3.7.4.8.3.6.4.6.5.7.6.6.5.6.6.6.6.5.6.4.6.4.8.3.8.2.7.1.8 0 .9.1.6.1.5 0 .4 0 .6 0 .7.1 1 .1 1.2.3.5.1.5.1.6.2.7.1.6.2.7.1.8.2.7.2.8.2.8.2.8.2.8.2.8.2.8.2.7.2.8.2.7.2.6.2.7.2.6.2.5.1.5.2 1.1.4.8.4.7.4.5.4.4.3.5.4.4.3.6.4.7.4.6.4.7.5.7.4.6.4.7.4.6.2.6.2.9 0 .8-.1.7-.4.7-.4.7-.5.6-.5.5-.6.5-.7.5-.7.4-.6.5-.4.8-.6.7-.3.9.4.3.3.4.5.4.6.3.6.4.7.5.7.4.7.4.7.5.7.4.6.5.7.4.8.5.8.5.7.5.8.5.7.4.6.5.4.4.3.4.1.4-.2.3-.6.3-.9.3-1 .3-1.1.2-1 .3-1 .3-.7.3-.4.3-.1.2.2.3.4.2.6.2.7.3.8.2.9.3.9.2.9.3 1 .3.9.2.8.3.8.2.7.3.4.2.4.3.1.3-.1.2-.2.3-.3.3-.5.3-.6.3-.7.3-.7.2-.8.3-.9.3-.8.2-.9.3-.9.2-.9.3-.9.2-.8.2-.6.1-.7.2-.6.2-.7.1-.7.2-.7.1-.7.1-.7.2-.7.1-.7.1-.7.2-.8.1-.7.1-.8.1-.7.1-.7.1-.8.1-.7.1-.8.1-.7.1-.7 0-.8.1-.7 0-.8.1-.8.1-.8 0-.8 0-.8.1-.8 0-.7.1-.8 0-.8 0-.7.1-.7 0-.7 0-.7.1-.6 0-.6.1-.5 0-.5.1-1.6.2-1.3.1-1.1.1-.7.2-.3.1.3.1.3 0 .5.1.6 0 .7.1.9.1.9 0 .9.1 1 .1 1 0 .9.1 1 .1.8 0 .7.1.7 0 .5.1.3.2-.1.1-1.4.1-1.7.1-1.1.2.3 0 .3.1.4 0 .4 0 .5.1.5 0 .6.1.6 0 .7.1.7 0 .7 0 .8.1.8 0 .8.1.8 0 .9.1.8 0 .9 0 .8.1.9 0 .8.1.9 0 .8.1.8 0 .8 0 .6.1.7 0 .7 0 .6 0 .7.1.7 0 .6 0 .7 0 .7.1.7 0 .7 0 .7 0 .7.1.7 0 .7 0 .7 0 .7.1.7 0 .8 0 .7.1.7 0 .7.1.8 0 .7.1.7 0 .8.1.7 0 .8.1.7.1.7 0 .7.1.7.1.8.1.7.1.8.1.8.1.8.1.8.1.9.1.8.1.8.1.8.1.9.1.8.2.8.1.8.1.8.1.7.1.8.1.7.1.7.1.7.1.7.1.6.1.6.1.6.1.5 0 .5.1.5 0 .4.1.4 0 3.9.4-.2.4-2 .4 3.9.4-6.3.4 3.7.4 1.7.4-1.7.4-.7.4 6.6.4-1.7.4-2.9.4 2 .4-1.1.4-1.5.4-.7.4-1.6.4 7.5.4-3 .4-4.8.4 9.5.4-4.7.4-.1.4 4.3.4-6.9.4 5.6.5-1.9.4-.9.4-1.5.4 2.7.4 1.6.4.8.4-4.7.4-1.9.4 2 .4 3 .4-.1.4-2.7.4 3.2.4-1.5.4 2.9.4-3.5.4 2.1.4 1.2.4-7.9.4 2.7.4 3.2.4-.1.4 4.6.4-5.9.4-2.6.4 0 .4 7.1.4-3.9.4-5.5.4 5.5.4-3.2.4 5 .4-4.9.4 3.8.4 4.4.4-6 .4-.1.4 3.8.4-3 .4 2.7.4-.9.4-2.7.4 2.5.4-3.5.4-.2.4 2.8.4-.5.4-2.4.4 3.9.4-4.7.4 7.6.5-1.7.4-4.4.4 4.2.4-3.7.4 0 .4 3.6.4-2.1.4-1.9.4-1.1.4 1.7.4-.5.4 1.9.4-1.2.4 1.7.4-1 .4-1.7.4 2.5.4-3.2.4 3.1.4-.4.4 3.9.4-5.9.4 4.5.4-.8.4.7.4-.3" stroke="#1000ff" stroke-width="1.3"/>
<path d="M646 304l1.5.9 1.5 1 1.4.6 1.5.1 1.5.1 1.5.1 1.5.1 1.5.1 1.4.1 1.5 0 1.5.1 1.5.1 1.5.1 1.4.1 1.5.1 1.5.1 1.5.1 1.5.1 1.4 0 1.5.1 1.5.1 1.5.1 1.5.1 1.5.1 1.4.1 1.5 0 1.5 0 0 5-1.5 0-1.5 0-1.4-.1-1.5-.1-1.5-.1-1.5-.1-1.5-.1-1.5-.1-1.4 0-1.5-.1-1.5-.1-1.5-.1-1.5-.1-1.4-.1-1.5-.1-1.5-.1-1.5-.1-1.5 0-1.4-.1-1.5-.1-1.5-.1-1.5-.1-1.5-.1-1.5-.1-1.4-.6-1.5-1-1.5-.9z" fill="#a52a2a" stroke="none"/>
<path d="M505.5 246.6l.4 0 .5-.1.6-.1.7 0 .7-.1.8-.1.8 0 .9-.1.8-.1.9-.1.8-.1.8-.2.8-.1.7-.1.7-.2.8-.1.7-.2.8-.2.7-.2.8-.2.7-.2.7-.1.7-.2.7-.2.7-.2.7-.2.6-.2.8-.3.8-.2.8-.3.7-.2.7-.3.6-.3.7-.2.6-.3.7-.2.6-.2.8-.2.8-.3.8-.2.8-.2.7-.2.8-.1.7-.2.6-.1.9-.2.9-.1.8-.1.7-.1.7 0 .8 0 .8 0 .7 0 .7.2.8.3.7.4.7.5.8.6.4.4.5.5.4.5.4.6.4.6.5.7.4.7.3.5.3.6.3.7.3.6.3.7.3.6.3.7.3.7.3.7.3.7.3.7.2.7.3.7.3.8.2.7.3.8.2.7.2.7.3.6.2.6.4 1 .3.9.3.9.3.7.3.5.4.3.5-.2.6-.6.6-.9.6-.7.6-.3.5.2.5.4.5.6.6.8.5.9.3.5.3.7.3.7.4.7.3.7.3.7.4.8.3.6.4.6.5.7.6.6.5.6.6.6.6.5.6.4.6.4.8.3.8.2.7.1.8 0 .9.1.7.1.7.1.7.1.7 0 .7.1.8.1.7.1.7.1.6.1.6 0 .6.1.7.1.8.1 1 .1.6.1.6 0 .7.1.7.1.8.1.8.1.8.1.8.1.8.1.8.1.7.1.7.1.6.1.6.1 1 .2.8.2.7.1.6.2.6.2.6.2.7.2.7.3.8.3.7.3.7.4.7.3.7.2.7.2.9.1.8.1.8-.1.8-.2.7-.2.7-.4.6-.5.6-.6.6-.6.5-.4.8-.5.8-.4.8 0 .6.2.7.4.6.6.7.7.4.4.4.4.4.5.4.5.5.6.4.7.5.9.3.5.2.6.3.8.3.7.3.8.2.8.3.9.3.8.3.7.3.7.3.6.3.5.3.4.3.2.4 0 .5-.4.5-.7.4-.9.5-1 .4-.9.5-.7.4-.4.4 0 .3.3.2.5.2.6.3.9.2.9.2.9.2 1 .2 1 .2.9.3.7.2.7.2.4.3.2.3-.1.4-.4.3-.7.4-.8.4-1 .3-1 .4-1 .4-.8.4-.7.3-.4.4-.1.3.2.3.3.3.4.3.6.3.7.3.7.3.8.3.8.2.9.3.8.3.8.3.7.2.7.3.6.4.8.4.9.4.7.4.8.3.7.4.7.3.5.2.5.2.4 0-2.6.4 5 .4-.7.4-3.7.4 5.9.4 4.5.4-2.9.4-4.3.4 3.4.4-2.4.4 3.4.4-1.1.4 2.8.4-3.6.4-4 .4 3.7.4-2.4.4 1.7.4-8.3.4 17.8.4-8.3.4-.4.4 6 .4-8.2.4 3.1.4 6.9.4-15.4.4 13.7.4 3.3.4.1.4-5 .4-4.7.4 3.9.4-2.3.4 2.5.4 10.1.4-9.4.4-4.4.4 10.8.4 3.7.4-13.8.4 14.6.4-9.1.4-.5.4-.6.4 6.2.4-4.3.4-14.1.4 22.1.4-18.8.4 12.6.4-1.5.4-4.2.4 1.6.4-8.3.4 10.4.4-6.6.4 7.1.4-.3.4-.9.4 3.1.4-8.2.4 5.2.4-3.5.4 7 .4-5.4.4 7.7.4-2.1.4-17.2.4 8.3.4 14.8.4-9.5.4 3.7.4-10.9.4 7.3.4 3.5.4-9.4.4 11.5.4-11.3.4.9.4 2.2.4 2.2.4 8.8.4-22.8.4 21.4.4-5.7.4-7.2.4-.1.4-.4.4 4.2.4 13.1.4-12.4.4-.6.4 11.1.4-17.6.4 11.6.4-14.9.4 7.9.4-.8.4-7.4.4 9.2.4 1.2.4-1.5.4 6.8.4 5.8.4-5.1.4-4.1.4-6.7.4 18 .4-17.2.4 11.3" stroke="#a52a2a" stroke-width="1.3"/>
<path d="M648 299.6l1.5-1.1 1.5-1.1 1.6-1.1 1.5-1.1 1.5-.7 1.5-.1 1.5-.2 1.6-.1 1.5-.2 1.5-.1 1.5-.2 1.5.1 1.6.2 1.5.1 1.5.2 1.5.2 1.5.1 1.6.2 1.5.2 1.5.1 1.5.2 1.5.2 1.6.1 1.5.1 1.5 0 0 4.8-1.5 0-1.5 0-1.6-.2-1.5-.2-1.5-.1-1.5-.2-1.5-.2-1.6-.1-1.5-.2-1.5-.2-1.5-.1-1.5-.2-1.6-.1-1.5-.2-1.5.2-1.5.2-1.5.1-1.6.2-1.5.1-1.5.2-1.5.7-1.5 1.1-1.6 1-1.5 1.1-1.5 1.1z" fill="#ff1500" stroke="none"/>
<path d="M505.5 246.6l.4 0 .5-.1.6-.1.7 0 .7-.1.8-.1.8 0 .9-.1.8-.1.9-.1.8-.1.8-.2.8-.1.7-.1.7-.2.8-.1.7-.2.8-.2.7-.2.8-.2.7-.2.7-.1.7-.2.7-.2.7-.2.7-.2.6-.2.8-.3.8-.2.8-.3.7-.2.7-.3.6-.3.7-.2.6-.3.7-.2.6-.2.8-.2.8-.3.8-.2.8-.2.7-.2.8-.1.7-.2.6-.1.9-.2.9-.1.8-.1.7-.1.7 0 .8 0 .8 0 .7 0 .7.2.8.3.7.4.7.5.8.6.4.4.5.5.4.5.4.6.4.6.5.7.4.7.3.5.3.6.3.7.3.6.3.7.3.6.3.7.3.7.3.7.3.7.3.7.2.7.3.7.3.8.2.7.3.8.2.7.2.7.3.6.2.6.4 1 .3.9.3.9.3.7.3.5.4.3.5-.2.6-.6.6-.9.6-.7.6-.3.5.2.5.4.5.6.6.8.5.9.3.5.3.7.3.7.4.7.3.7.3.7.4.8.3.6.4.6.5.7.6.6.5.6.6.6.6.5.6.4.6.4.8.3.8.2.7.1.8 0 .9.1.7.1.7.1.7.1.7 0 .7.1.8.1.7.1.7.1.6.1.6 0 .6.1.7.1.8.1 1 .1.6.1.6 0 .7.1.7.1.8.1.8.1.8.1.8.1.8.1.8.1.7.1.7.1.6.1.6.1 1 .2.8.2.7.1.6.2.6.2.6.2.7.2.7.3.8.3.7.3.7.4.7.3.7.2.7.2.9.1.8.1.8-.1.8-.2.7-.2.7-.4.6-.5.6-.6.6-.6.5-.4.8-.5.8-.4.8 0 .6.2.7.4.7.5.6.8.3.5.2.6.2.6.3.6.2.8.4.9.4 1 .2.6.3.6.3.7.3.8.3.9.4.8.3.9.4.8.4.8.3.8.4.7.4.5.3.5.4.4.3.2.5 0 .4-.3.5-.6.4-.8.5-.9.4-.9.5-.9.4-.8.5-.5.4-.3.5 0 .3.2.3.4.3.6.3.6.3.7.3.9.3.8.3.9.3.9.3.9.3.9.3.8.3.7.3.6.3.5.2.4.3.2.4 0 .4-.4.4-.7.3-.8.4-1 .3-1.1.4-.9.3-.9.4-.7.3-.4.4-.1.3.2.3.4.3.5.3.6.3.7.3.9.3.8.3.9.3.9.3.9.2.8.3.8.2.6.1.6.2.4 0 1.1.4.6.4-.1.4 1.5.4 2.2.4-8.8.4-.2.4 6.3.4 2.4.4-3.6.4 2.6.4-7.6.4 11.3.4-1.2.4-1.6.4-4.8.4-6.5.4 9.5.4-6.4.4 3.3.4-.9.4 6.1.4-8.9.4 7 .4-6.4.4 3.2.4-6.7.4-6.9.4 15.5.4-8.5.4 14.9.4-14.7.4 10 .4-1.9.4-16 .4-1.7.4 20.5.4-19 .4 4.3.4.1.4 11.6.4-17.4.4 12.7.4-12.6.4 10.4.4 8.2.4-6.2.4 3.7.4-16.2.4 12.7.4 4.6.4-1.4.4-10.6.4 4.2.4-.8.4 7.6.4.2.4 3.3.4-9.4.4 3 .4-1 .4 3.4.4 1.5.4-5.9.4 3.1.4.5.4 1.8.4.1.4-17.3.4 24.4.4-2.4.4-4.9.4-16.9.4 7.3.4 3.2.4-10.1.4 10.1.4 3.7.4-13.1.4 8.4.4 6.8.4-2.6.4-1.7.4 6.5.4-5.3.4 13 .4-7.9.4 2.6.4-16 .4 18.9.4-18.3.4 9.6.4-9 .4 9.7.4-6.3.4 1.1.4-3.2.4-.2.4 5.4.4-4.5.4 3.3.4 9.6.4-10 .4 5.9.4 3.6.4-7.2.4-1.5.4-7.1.4 14.5.4-.3.4-1.7" stroke="#ff1500" stroke-width="1.3"/>
<path d="M647 302l1.5.9 1.5 1 1.5 0 1.5.1 1.5 0 1.5.1 1.5 0 1.5 0 1.5.1 1.5 0 1.5.1 1.5 0 1.5.1 1.5 0 1.5.1 1.5 0 1.5.1 1.5 0 1.5 0 1.5.1 1.5 0 1.5.1 1.5 0 1.5.1 1.5 0 1.5 0 0 10.2-1.5 0-1.5 0-1.5 0-1.5-.1-1.5 0-1.5-.1-1.5 0-1.5-.1-1.5 0-1.5-.1-1.5 0-1.5 0-1.5-.1-1.5 0-1.5-.1-1.5 0-1.5-.1-1.5 0-1.5-.1-1.5 0-1.5 0-1.5-.1-1.5 0-1.5-.1-1.5-.9-1.5-1z" fill="#7e1b8d" stroke="none"/>
<path d="M505.5 246.6l.4 0 .5-.1.6-.1.7 0 .7-.1.8-.1.8 0 .9-.1.8-.1.9-.1.8-.1.8-.2.8-.1.7-.1.7-.2.8-.1.7-.2.8-.2.7-.2.8-.2.7-.2.7-.1.7-.2.7-.2.7-.2.7-.2.6-.2.8-.3.8-.2.8-.3.7-.2.7-.3.6-.3.7-.2.6-.3.7-.2.6-.2.8-.2.8-.3.8-.2.8-.2.7-.2.8-.1.7-.2.6-.1.9-.2.9-.1.8-.1.7-.1.7 0 .8 0 .8 0 .7 0 .7.2.8.3.7.4.7.5.8.6.4.4.5.5.4.5.4.6.4.6.5.7.4.7.3.5.3.6.3.7.3.6.3.7.3.6.3.7.3.7.3.7.3.7.3.7.2.7.3.7.3.8.2.7.3.8.2.7.2.7.3.6.2.6.4 1 .3.9.3.9.3.7.3.5.4.3.5-.2.6-.6.6-.9.6-.7.6-.3.5.2.5.4.5.6.6.8.5.9.3.5.3.7.3.7.4.7.3.7.3.7.4.8.3.6.4.6.5.7.6.6.5.6.6.6.6.5.6.4.6.4.8.3.8.2.7.1.8 0 .9.1.7.1.7.1.7.1.7 0 .7.1.8.1.7.1.7.1.6.1.6 0 .6.1.7.1.8.1 1 .1.6.1.6 0 .7.1.7.1.8.1.8.1.8.1.8.1.8.1.8.1.7.1.7.1.6.1.6.1 1 .2.8.2.7.1.6.2.6.2.6.2.7.2.7.3.8.3.7.3.7.4.7.3.7.2.7.2.9.1.8.1.8-.1.8-.2.7-.2.7-.4.6-.5.6-.6.6-.6.5-.4.8-.5.8-.4.8 0 .6.2.7.3.6.5.7.9.3.5.3.5.2.7.3.7.3.7.3.7.3.8.3.8.3.8.4.8.3.6.3.8.4.8.3.8.4.8.3.9.4.8.4.8.3.6.4.6.3.5.4.3.3.2.4-.1.4-.5.3-.7.3-1 .4-1 .3-1 .3-.9.4-.8.3-.4.4-.1.3.2.2.4.3.6.3.7.3.8.3.9.3.9.3.9.3.9.3.8.3.8.3.5.2.4.3.2.3-.1.4-.4.3-.7.3-.8.3-1 .3-1 .3-1 .4-.8.3-.7.3-.4.3-.1.3.2.2.3.3.5.3.7.3.7.2.9.3.8.3.9.3.9.2.9.3.8.2.8.3.6.4.8.4.9.3.7.4.8.4.7.3.7.3.5.3.5.2.4 0-1.3.4 5.4.4.3.4-1.8.4-5.3.4.3.4 4 .4-3.5.4 9 .4-11.6.4 13.3.4-1.4.4 2.6.4-11.7.4 5.3.4-5.9.4 20.1.4-10.9.4-2.4.4-6.6.4 18.6.4-7.2.4-4.5.4-17.4.4 27 .4-21.7.4 10.2.4-.2.4 7.1.4 1.6.4-7.7.4-13.3.4 32.5.4-16.1.4 14.8.4-10.5.4-20.8.4 9.9.4 11.5.4-8.1.4 5.4.4 2.8.4-13.1.4 9.3.4-4.2.4-2.7.4 14.9.4-26.3.4 24.3.4-8.5.4 6.6.4 1.8.4 1.5.4 5.7.4-22.2.4 14.3.4-14.3.4 3.1.4 12.8.4-24.4.4 10.8.4 20.7.4-18.3.4-12.5.4 2.9.4 30.1.4-10.9.4-11.4.4 6.2.4.3.4 16.9.4-7.6.4-12 .4 3.1.4 16.2.4-12.1.4-3.5.4 1.3.4-3 .4 2.5.4 4 .4-15.1.4-7.2.4 7 .4 13.7.4-.8.4-19.5.4 19.1.4-8.6.4.5.4 7.5.4-10.6.4 15.1.4-11.7.4 4.6.4-6.5.4-2.8.4 19.5.4-27.3.4 7.7.4 1.7.4 1.1.4 3.7.4-7.2.4-7.1.4 26.3.4-2.7.4-14.4.4-.7.4 3.6.4 18.9" stroke="#7e1b8d" stroke-width="1.3"/>
</g>
<path d="M505.5 343.5v3.4M541.9 343.5v3.4M578.4 343.5v3.4M614.8 343.5v3.4M651.2 343.5v3.4M505.5 325.9h-3.4M505.5 288.3h-3.4M505.5 250.7h-3.4" stroke="#333" stroke-width="0.8" fill="none"/>
<path d="M516.5 343.5v1.9M522.9 343.5v1.9M527.4 343.5v1.9M531 343.5v1.9M533.8 343.5v1.9M536.3 343.5v1.9M538.4 343.5v1.9M540.3 343.5v1.9M552.9 343.5v1.9M559.3 343.5v1.9M563.9 343.5v1.9M567.4 343.5v1.9M570.3 343.5v1.9M572.7 343.5v1.9M574.8 343.5v1.9M576.7 343.5v1.9M589.3 343.5v1.9M595.7 343.5v1.9M600.3 343.5v1.9M603.8 343.5v1.9M606.7 343.5v1.9M609.1 343.5v1.9M611.3 343.5v1.9M613.1 343.5v1.9M625.8 343.5v1.9M632.2 343.5v1.9M636.7 343.5v1.9M640.3 343.5v1.9M643.1 343.5v1.9M645.6 343.5v1.9M647.7 343.5v1.9M649.6 343.5v1.9M662.2 343.5v1.9M668.6 343.5v1.9M673.2 343.5v1.9M676.7 343.5v1.9M679.6 343.5v1.9M682 343.5v1.9M505.5 340.9h-1.9M505.5 337.2h-1.9M505.5 334.2h-1.9M505.5 331.7h-1.9M505.5 329.5h-1.9M505.5 327.6h-1.9M505.5 314.6h-1.9M505.5 308h-1.9M505.5 303.3h-1.9M505.5 299.6h-1.9M505.5 296.6h-1.9M505.5 294.1h-1.9M505.5 291.9h-1.9M505.5 290h-1.9M505.5 277h-1.9M505.5 270.4h-1.9M505.5 265.7h-1.9M505.5 262h-1.9M505.5 259h-1.9M505.5 256.5h-1.9M505.5 254.3h-1.9M505.5 252.4h-1.9M505.5 239.4h-1.9M505.5 232.7h-1.9M505.5 228h-1.9M505.5 224.4h-1.9" stroke="#333" stroke-width="0.6" fill="none"/>
<rect x="505.5" y="223.5" width="178" height="120" fill="none" stroke="#3a3a3a" stroke-width="0.8"/>
<text x="505.8" y="356.8" text-anchor="middle" class="t">10<tspan class="s" dy="-4.3">0</tspan></text>
<text x="542.2" y="356.8" text-anchor="middle" class="t">10<tspan class="s" dy="-4.3">1</tspan></text>
<text x="578.7" y="356.8" text-anchor="middle" class="t">10<tspan class="s" dy="-4.3">2</tspan></text>
<text x="615.1" y="356.8" text-anchor="middle" class="t">10<tspan class="s" dy="-4.3">3</tspan></text>
<text x="651.5" y="356.8" text-anchor="middle" class="t">10<tspan class="s" dy="-4.3">4</tspan></text>
<text x="499.5" y="329.5" text-anchor="end" class="t">10<tspan class="s" dy="-4.3">0</tspan></text>
<text x="499.5" y="291.9" text-anchor="end" class="t">10<tspan class="s" dy="-4.3">1</tspan></text>
<text x="499.5" y="254.3" text-anchor="end" class="t">10<tspan class="s" dy="-4.3">2</tspan></text>
<path d="M43.5 385.5V505.5M45.8 385.5V505.5M61.2 385.5V505.5M69 385.5V505.5M74.6 385.5V505.5M78.9 385.5V505.5M82.4 385.5V505.5M85.4 385.5V505.5M88 385.5V505.5M90.2 385.5V505.5M105.7 385.5V505.5M113.5 385.5V505.5M119 385.5V505.5M123.3 385.5V505.5M126.9 385.5V505.5M129.8 385.5V505.5M132.4 385.5V505.5M134.7 385.5V505.5M150.1 385.5V505.5M157.9 385.5V505.5M163.5 385.5V505.5M167.8 385.5V505.5M171.3 385.5V505.5M174.3 385.5V505.5M176.9 385.5V505.5M179.1 385.5V505.5M194.6 385.5V505.5M202.4 385.5V505.5M207.9 385.5V505.5M212.3 385.5V505.5M215.8 385.5V505.5M218.7 385.5V505.5M221.3 385.5V505.5M43.5 505.5H221.5M43.5 500.8H221.5M43.5 496.9H221.5M43.5 493.6H221.5M43.5 490.8H221.5M43.5 488.3H221.5M43.5 471.4H221.5M43.5 462.8H221.5M43.5 456.7H221.5M43.5 452H221.5M43.5 448.1H221.5M43.5 444.8H221.5M43.5 442H221.5M43.5 439.5H221.5M43.5 422.6H221.5M43.5 414H221.5M43.5 407.9H221.5M43.5 403.2H221.5M43.5 399.3H221.5M43.5 396H221.5M43.5 393.2H221.5M43.5 390.7H221.5" stroke="#000" stroke-opacity="0.085" stroke-width="0.8" stroke-dasharray="2.6 1.1 1.8 1.1" fill="none"/>
<path d="M47.8 385.5V505.5M92.3 385.5V505.5M136.7 385.5V505.5M181.2 385.5V505.5M43.5 388.5H221.5M43.5 437.3H221.5M43.5 486.1H221.5" stroke="#000" stroke-opacity="0.13" stroke-width="0.8" stroke-dasharray="3.2 1.3" fill="none"/>
<g clip-path="url(#c20)" fill="none" stroke-linejoin="round" stroke-linecap="round">
<path d="M43.5 390.4l13.4.9 7.8 1.1 5.6.5 4.3.8 3.5.6 3 .4 2.6.5 2.2.3 2.1.8 1.8.1 1.7.4 1.5.3 1.5.3 1.3.3 1.2.4 1.2.2 1.1.4 1.1.2.9-.2 1 0 .9.3.8-.2.9.1.8-.1.7 0 .7.3.7-.2.7.1.7-.1.6.4.6-.4.6-.3.6 0 .5-.2.6.5.5-.9.5-.4.5 1.7.5-1.4.5.5.5-.7.4.7.9-.3.8 1.3.8-.6.8-.1.8.6.7-.1.7-.3.6.9.7 0 .6.1.6-.3.6.7.6 0 .5.2.5-.2.6.1.5.3.5-.3.4.6.5 0 .5-.6.6.6.7-.5.6.4.6-.1.6 0 .6.2.5-.1.6-.1.5.1.5.6.5-.1.5 0 .5.2.4 0 .5.3.6.9.5-.2.6.8.5.1.5 1 .6.1.4.9.5.5.5 1.1.5 0 .5 1.1.6 1.4.5.7.5.8.5 1.2.5 1.5.5-.4.4.1.5.2.5 0 .5.2.5.6.5-.6.5.7.5.2.4-.2.6-.1.5-.1.5.2.4.3.5.5.5-.7.5.2.5 0 .5.6.4.2.5-.3.4-.2.5.2.5 0 .5.8.4-.5.5.8.5-.1.5-.1.5 1 .4.3.5.3.5.6.4 1.7.5-.2.5 1.2.4.7.5.7.5.5.4-.1.5.8.5.6.5.4.4.4.5.3.5-.4.4.7.5-.4.5.3.4.4.5 0 .5.8.4.1.5-.3.4.3.5.1.5.9.4 0 .5 1.3.5-.3.4 1 .5-.5.5.5.4-.7.5.6.4-.4.5.4.5-.2.4.3.5-.2.4.1.5.2.4.8.5-.6.5.4.4-.3.5.4.4.6.5 1.6.4-.4.5 1.4.5.5.4 1.4.5 2.3.4-.5.5-2.9.4.3.5.4.5-.7.4 4.1.5.3.4-1.4.5-1.8.5-5.5.4 1.7.5-.3.4 11.2.5-10.6.4 1.4.5 3.5.4 2.8.5-3.9.4-5.2.5 11.6.5-7.1.4-4 .5 4.8.4 5.3.5-10.8.4 7 .5-1.2.4 5 .5-9.6.4 8.6.5 1.5.4-10.1.5 1.9.4 3.4.5 4.3.5-3.1.4-7.5.5 11.8.4-3.1.5-5.5.4 5.4.5 1.1.4-7.6.5.9.4 1.4.5 3.4.4-6.3.5 8.2.4-4 .5 5.7.4-7.9.5.4.5-.9.4 8.6.5-9.5.4 7.6.5-5.3.4 4.6.5-2.7.4 3.1.5-1.9.4 2.9.5-.7.4-.2.5.6.4.6.5-.1.4-.5.5.6.4-.3.5 1.2.4-.3.5.4.4.2.5-.9.4 1.1.5-.7.4.9.5 0 .4-.2" stroke="#000000" stroke-width="1.75"/>
<path d="M43.5 390.3l13.4 1.2 7.8.9 5.6.7 4.3.7 3.5.6 3 .4 2.6.2 2.2.5 2.1.5 1.8.6 1.7.3 1.5.3 1.5.5 1.3.1 1.2.2 1.2.3 1.1.2 1.1.3.9-.2 1 .5.9-.3.8.1.9-.2.8.5.7-.3.7.1.7.1.7.1.7-.1.6 0 .6.2.6 0 .6-.4.5.5.6.5.5-.9.5 2.1.5-2.4.5.5.5.7.5-1.9.4.6.9.9.8-1 .8-.2.8.1.8.9.7-.3.7.4.6.6.7 1.1.6.4.6.3.6 1.4.6.4.5.6.5 1 .6-.5.5.3.5.9.4.6.5.7.5.2.6.6.7.4.6 1.2.6 2 .6.1.6.6.5 1.1.6.8.5-1 .5 2.2.5.6.5 1.1.5-.6.4.7.5.4.6 1.5.5 1.3.6-.2.5 1.1.5.7.6 0 .4-.1.5 1.5.5 1.7.5-2.5.5 3.5.6.7.5 0 .5-.6.5.6.5 2.6.5.3.4-.5.5 1.1.5 0 .5 2.9.5-2.9.5 2.6.5-.3.5-.4.4-1 .6 3.1.5-2.9.5 4.6.4 2.6.5-3.5.5 3 .5-2.6.5 3.9.5-1.1.4-.7.5 1.7.4.1.5 3.8.5-3.1.5 2 .4-3 .5 5.1.5-5.6.5.4.5 5.4.4-.3.5 1.4.5-4.9.4 7.7.5-2.6.5.2.4-1.3.5 5.2.5-4.4.4-2 .5 7.1.5 1.8.5-6.5.4-.8.5 6.7.5 2.9.4-3 .5-.2.5 1.5.4-5.2.5 4 .5 5.4.4-5.1.5 2.8.4-1 .5-.6.5 1.9.4-.1.5 3.3.5 1.5.4-5.1.5 3.1.5 2.8.4-2.3.5-4.1.4 4.7.5-2.3.5.4.4.9.5 2 .4.6.5 4.7.4-7.8.5 2.3.5 1.1.4 2.2.5-3.2.4 5.7.5-2.5.4.7.5-.8.5-1.3.4 3.3.5.4.4-2 .5-.9.4 4.9.5-2.6.5-1.1.4 2.8.5 4.2.4-1.8.5 2.4.5-5.3.4 3.6.5.1.4.8.5 2 .4.6.5-1.4.4 2.4.5-.3.4-2.6.5 9.5.5-2.9.4 0 .5-.7.4 1.5.5-1.7.4 2.2.5.6.4 2.7.5.4.4-.1.5-1.9.4 3.4.5-5.8.4 7.7.5-3 .5 1.5.4-3.7.5 8.1.4-3.8.5-3.9.4 6.5.5-3 .4.5.5-.3.4 2.7.5-1.1.4 1.7.5 0 .4.2.5 2.5.4-.7.5-.8.5 4.8.4-4.6.5-1.1.4 4.4.5-1.9.4 3 .5-5.7.4 4.2.5 1.6.4-.2.5-2.4.4-1.1.5 3.2.4 2.4.5 1.9.4-1.6.5-.7.4.5.5-.8.4-.6.5 3 .4-.5.5.2.4 2.7.5-.8.4-1.6.5 1.6.4-1.2" stroke="#338a16" stroke-width="1.3"/>
<path d="M43.5 390.4l13.4 1 7.8 1 5.6.5 4.3.7 3.5.8 3 .5 2.6.6 2.2.2 2.1.5 1.8.1 1.7.4 1.5.5 1.5.3 1.3.3 1.2.5 1.2.1 1.1.2 1.1.1.9.2 1-.1.9 0 .8.1.9 0 .8.2.7-.1.7 0 .7.1.7-.1.7.3.6-.3.6 0 .6 0 .6.5.5 0 .6-.1.5-1.8.5 3.4.5-.3.5-2 .5-.5.5.6.4-.7.9.1.8 1.2.8.2.8-.5.8-.3.7.3.7 1.5.6-.3.7 1.2.6.5.6.2.6 1 .6.3.5.5.5 1.4.6-.2.5.3.5.7.4.8.5-.4.5 1.3.6.8.7 1.4.6 1.8.6-1.2.6.5.6 1.7.5-.5.6 1.3.5 0 .5.7.5 3.2.5-1.2.5.9.4.2.5-1.1.6 1.8.5 2.2.6 1.6.5-.4.5 1.4.6-.7.4-.5.5 1.8.5 1.1.5-1.9.5 1.7.6 1.2.5 1.4.5 1.7.5-.4.5-1.3.5 3.2.4-2.3.5-.3.5 2.4.5 2.3.5-.7.5-2.9.5 1.4.5 2.8.4-1.3.6 2 .5-2.5.5 4.6.4-1.9.5-.1.5 2.9.5-1 .5 2.3.5-.1.4-.8.5 0 .4 3 .5-.5.5-3.2.5 3.9.4 2 .5.9.5-3.7.5 4.1.5-1.1.4-.8.5 5.4.5-4.1.4 2.9.5-3.5.5 4 .4 1.4.5 3.7.5-3.6.4-4.7.5 9.6.5-3.1.5-1.1.4 3.4.5-5.3.5 1.9.4 2.5.5 1.4.5.4.4.3.5-2 .5 1.4.4-3.1.5 9.8.4-3.7.5 1.2.5 4.5.4-2.9.5-5.4.5 4.4.4-3.6.5-.2.5 2.3.4 1.5.5-1.3.4.5.5-.7.5 5.5.4.4.5-.6.4-8.3.5 6.9.4-.8.5-2.9.5 1.2.4-.7.5 7.2.4-2.6.5 7.4.4-1.9.5-2 .5-2.8.4 5.9.5-6.4.4-.4.5-.1.4-5.1.5 7.7.5-.3.4 1.6.5-.1.4 4.2.5.1.5-6.7.4-.7.5-.8.4-.2.5.3.4 8.6.5-10.6.4 7.2.5-3.6.4-.1.5 8.8.5-6.4.4-.1.5 3.1.4 3 .5.4.4-.9.5 2.2.4-4 .5-2.7.4 5.8.5-6.2.4 5.2.5-.9.4 8 .5-13.9.5 8.4.4 2.4.5-3.2.4 1.1.5 3 .4-8.2.5 7.6.4-7.2.5 5.5.4 3.5.5 3.8.4-7.5.5 6.1.4-7.8.5 9.1.4-4.5.5-3.9.5 5.4.4.3.5 10.1.4-10.4.5 3.6.4-4.1.5 12.5.4-6.7.5 2 .4 3.9.5-1.5.4-7.4.5 7.6.4 2.5.5-2.4.4-1.9.5 2.3.4-4 .5 3.7.4 5.4.5-4 .4 2.2.5-.8.4.9.5 1.8.4-4.1.5 2.5.4-.6" stroke="#eca32c" stroke-width="1.3"/>
<path d="M196 475l1.5 1 1.6 1 1.5 1 1.5 1 1.5 1 1.6 1 1.5 1 1.5.9 1.6 1 1.5.9 1.5 1 1.6 1 1.5 1 1.5 1 1.5.9 1.6 1 1.5.7 0 7.2-1.5-.7-1.6-1-1.5-.9-1.5-1-1.5-1-1.6-1-1.5-1-1.5-.9-1.6-1-1.5-.9-1.5-1-1.6-1-1.5-1-1.5-1-1.5-1-1.6-1-1.5-1z" fill="#1000ff" stroke="none"/>
<path d="M43.5 390.5l13.4 1.1 7.8.9 5.6.5 4.3.9 3.5.4 3 .4 2.6.5 2.2.5 2.1.7 1.8 0 1.7.6 1.5.3 1.5.3 1.3.2 1.2.1 1.2.5 1.1.3 1.1.1.9-.2 1 .4.9-.3.8.3.9-.2.8.2.7-.2.7.1.7.4.7-.1.7 0 .6.1.6 0 .6-.7.6 1.1.5-.4.6.3.5-1.6.5 1.5.5.6.5-.4.5.1.5.6.4.1.9-2 .8 1.7.8-2.5.8 1.2.8.7.7-.6.7.2.6 1.1.7 1.1.6.6.6.4.6.7.6.5.5-.4.5 1.1.6.3.5 1 .5.7.4.3.5 1.3.5.2.6.5.7-.3.6.8.6 2.5.6.5.6-.6.5 2.3.6.1.5.7.5.6.5-.3.5 2.6.5-1.2.4.9.5-.5.6 2.2.5 1.3.6-.2.5 1.5.5-.7.6-.9.4 2.4.5.7.5 1 .5.5.5 1.1.6 1.5.5.9.5-.3.5-.6.5 1.4.5-2.4.4 3.3.5 1 .5-1.3.5 2.8.5-.1.5 0 .5 1.4.5 2.6.4-4.6.6 2.3.5-.5.5 3.1.4-1.5.5 4.6.5-1.2.5 1.7.5-2.9.5 2.6.4-.8.5-1.5.4.4.5 3.1.5 1.9.5-.7.4 1.6.5.6.5-1 .5 2 .5-.3.4-2.9.5 3.2.5-2.2.4 4.1.5 2.7.5-2.6.4 2.4.5-1.4.5-3.6.4 2.1.5 4.7.5-.9.5-2.1.4.4.5 2 .5-.2.4-1 .5 1.9.5-.6.4 4.6.5-3.6.5 3.6.4-.5.5 1.7-.3-1.1.3-15.4.3 15.4.1 0 .5 2.4.5-1.2.4-3 .5 5.4.5 1.2.4-1.3.5 1.6.5.9.4.3.5-1.1.4 4.7.5-.8.5-1.2.4-3 .5-.1.4 2.9.5 4.8.4-5.2.5-.6.5 7.4.4-5.9.5 6.3-.1-3.1.2-36.4.2 36.4.1 0 .5-5.9.4 7.4.5-1.5.5-1.5.4 7.6.5-3.5.4-3.2.5 2.7.4 1.3.5 2.6.5-.7.4-.7.5-.9.4.5.5-1.2.5 4.1.4.2.5-6 .4 5.5.5-.9.4.9.5-1.9.4 2.5.5 1.1.4-5.4.5 5.6.5 1.9.4-2.7.5-3.5.4 10.1.5-.9.4-2.3.5.7.4 5.5.5-7.5.4 2.1.5 3.2.4-2.7.5 4.6.4-4 .5-.6.5 3.6.4.6.5-4.1.4 3.8.5-2.3.4 7.9.5-4.9.4 2.8.5 1.5.4-3.3.5-4.7.4 8.1.5-2 .4-4.7.5 1.1.4 3.6.5-1.9.5-.6.4 5 .5 1.2.4-.1.5 2.5.4 1.7.5-1.6.4-7.2.5 2.7.4-.5.5 2.8.4-1.5.5-.1.4 3.6.5.3.4-1.7.5.2.4-.4.5 2.4.4-1.4.5 1.8.4 2.9.5-2 .4-.1.5-.6.4 0 .5.9.4-2" stroke="#1000ff" stroke-width="1.3"/>
<path d="M43.5 390.4l13.4.9 7.8 1.1 5.6.6 4.3.8 3.5.5 3 .4 2.6.7 2.2.4 2.1.4 1.8.1 1.7.4 1.5.4 1.5.4 1.3.3 1.2.1 1.2.7 1.1.1 1.1.2.9.1 1 0 .9-.3.8.2.9.1.8 0 .7.1.7-.2.7.2.7.1.7-.1.6.2.6.3.6-.3.6-.2.5-.2.6.7.5-.4.5.4.5.4.5-.9.5-.8.5-.7.4 2.3.9 0 .8.6.8-.9.8-.8.8.1.7.5.7.6.6.7.7.8.6-.6.6 1.2.6.6.6.1.5.2.5 1.3.6-.3.5 1.6.5-.8.4.7.5 1.1.5.8.6-.4.7 1.6.6-.6.6 1.1.6 1.1.6.6.5 2.8.6-1.9.5 2.3.5 1.8.5-.9.5.2.5 1 .4.6.5-1.6.6 1.2.5 2.3.6-2.2.5 3.4.5 1.7.6-2 .4.9.5 2 .5 1.2.5-.7.5-1.1.6 2.2.5 1.2.5-.7.5 3.6.5-3.9.5 1.2.4 2.3.5-.8.5.2.5-1.4.5.8.5 5.2.5-3.4.5-.7.4.8.6.1.5 1.9.5 1.7.4-3.2.5 2.3.5 3.1.5-2.5.5 3 .5-.3.4.1.5-3.5.4 5.4.5 2.6.5-5.4.5 2.3.4 5.4.5-5.9.5 5.6.5-4.9.5 1 .4-1.8.5 6.7.5-2.8.4-1.8.5 4.5.5-1.4.4 1.2.5 1.8.5-2.2.4-2.5.5 4.2.5-.9.5 2.9.4-.4.5 3.1.5-2.8.4 2.5.5 1.2.5-1.9.4.2.5-.5.5 7.7.4-5.8.5-.9.4-1.4.5 7 .5-4 .4 1.4.5 1.8.5-1.2.4-4.7.5 8.4.5-7 .4 10.1.5-10.7.4 3.8.5 3.4.5 5.3.4-7.4.5 2.4.4-6.1.5 12.2.4-7.9.5 4.5.5-5.7.4 2 .5 4.5.4-12.9.5 7.7.4 9.1.5-12.4.5 10.2.4-7.2.5 8 .4-2.8.5-2.2.4-2.2.5-.6.5 8.8.4-5 .5-2.8.4 4.2.5 6.7.5-6 .4 1.6.5-1.3.4 4.1.5-10.1.4-1.3.5 12.3.4-6.2.5 10.7.4-18.2.5 17.7.5-17.8.4 15.6.5-4.3.4.4.5 7.3.4-6 .5-6.3.4-1.9.5 4.5.4 3.9.5-1 .4 5.7.5-4.6.4-.4.5.8.5.3.4 4.6.5-5.1.4.7.5 9 .4-3.7.5-2 .4-1.5.5 8.3.4-11.1.5.5.4 1.8.5-1.5.4 8.5.5-.4.4.1.5 6.1.5-5.7.4 2.3.5-.5.4 2.4.5-.8.4 7.6.5-.7.4-4.1.5 1 .4-6.8.5 1.5.4 4.9.5 6 .4-8.1.5.9.4-.1.5 6.6.4-.8.5-1.7.4 1.4.5 4.2.4-.4.5.1.4 2.2.5-1 .4-.5.5.6.4-1" stroke="#a52a2a" stroke-width="1.3"/>
<path d="M128 404l1.5 1.8 1.5 1.8 1.5 1.8 1.5 1.7 1.5 1.8 1.5 1.8 1.4 1.5 1.5 1.5 1.5 1.4 1.5 1.4 1.5 1.4 1.5 1.2 1.5 1.1 1.5 1 1.5 1.2 1.5 1.3 1.5 1.4 1.5 1.4 1.4 1.4 1.5 1.4 1.5 1.4 1.5 1.4 1.5 1.4 1.5 1.5 1.5 1.2 1.5.5 1.5.5 1.5.5 1.5.5 1.5.5 1.5.5 1.4.4 1.5.1 1.5.2 1.5.1 1.5.2 1.5.1 1.5.1 1.5 0 1.5 0 1.5.1 1.5.2 1.5.6 1.5.5 1.4.5 1.5.5 1.5.5 1.5.6 1.5 1.7 1.5 2.1 1.5 2.2 1.5 2.1 1.5 2.2 1.5 3.6 1.5 3.6 1.5 3.6 1.4 3.6 1.5 2.3 1.5 2.2 1.5 2.3 1.5 2.3 1.5 2.3 1.5 1.5 0 5-1.5-1.5-1.5-2.3-1.5-2.3-1.5-2.3-1.5-2.2-1.5-2.3-1.4-3.6-1.5-3.6-1.5-3.6-1.5-3.6-1.5-2.2-1.5-2.1-1.5-2.2-1.5-2.1-1.5-1.7-1.5-.6-1.5-.5-1.5-.5-1.4-.5-1.5-.5-1.5-.6-1.5-.2-1.5-.1-1.5 0-1.5 0-1.5-.1-1.5-.1-1.5-.2-1.5-.1-1.5-.2-1.5-.1-1.4-.4-1.5-.5-1.5-.5-1.5-.5-1.5-.5-1.5-.5-1.5-.5-1.5-1.2-1.5-1.5-1.5-1.4-1.5-1.4-1.5-1.4-1.5-1.4-1.4-1.4-1.5-1.4-1.5-1.4-1.5-1.3-1.5-1.2-1.5-1-1.5-1.1-1.5-1.2-1.5-1.4-1.5-1.4-1.5-1.4-1.5-1.5-1.4-1.5-1.5-1.8-1.5-1.8-1.5-1.7-1.5-1.8-1.5-1.8-1.5-1.8z" fill="#ff1500" stroke="none"/>
<path d="M43.5 390.4l13.4.9 7.8 1 5.6.5 4.3.8 3.5.8 3 .3 2.6.6 2.2.3 2.1.3 1.8.6 1.7.7 1.5.1 1.5.3 1.3.3 1.2.4 1.2.1 1.1.3 1.1.1.9-.2 1 .1.9.1.8.1.9-.1.8 0 .7 0 .7.4.7.1.7 0 .7-.2.6.1.6-.4.6 0 .6.3.5-.2.6 1 .5-1.8.5 1.4.5-.3.5-1.2.5 1.3.5-.5.4.3.9.2.8.2.8.3.8-.4.8-1.7.7 1.5.7.6.6-.1.7.8.6 1.5.6.1.6.6.6.5.5 1.3.5.3.6-.2.5 1 .5-.1.4 1.5.5 1 .5-1.2.6 1.1.7.2.6 2.1.6 1.5.6-1.3.6 2.3.5-.2.6 1.2.5-.1.5-.3.5.9.5.6.5 1.9.4 1 .5-1.7.6 2.4.5.2.6 3.2.5-1.1.5-.8.6 1.8.4 0 .5 1 .5-1.6.5 2.8.5-1.5.6 1 .5-1.6.5 3.5.5-.3.5-.1.5-2 .4 2.8.5 1.2.5-1 .5-1.1.5 3.7.5-2 .5.8.5.8.4-1.1.6 2.5.5-2.1.5 3 .4.4.5.3.5-1.8.5 6.5.5-6.7.5 2 .4 4.2.5.3.4-4.6.5-.2.5.6.5 5.5.4 1.3.5-1 .5 1.3.5.2.5 2 .4-3.7.5.3.5.9.4-2.8.5 5.7.5-3.9.4.6.5 2.7.5.6.4 2.4.5-4.9.5 3.1.5-1.9.4-.3.5-.9.5 5.1.4-3.1.5 3.4.5-.1.4-1 .5-3.9.5 3.3.4-.6.5 3.6.4-2.2.5 2.3.5 1.8.4-5.7.5 3.3.5 1 .4-1.9.5 4 .5-2.3.4.8.5.8.4 1.3.5-.6.5-4.9.4 0 .5 1.4.4 4.3.5-6.4.4 2.5.5-2.9.5 2.9.4-2.5.5 4.7.4-6.5.5 5.8.4-1.4.5 2.7.5-1.7.4-3.5.5-1 .4.8.5-.5.4.5.5 5.4.5 4.4.4-9.8.5 2 .4 4.5.5-.4.5 1.2.4 4.1.5-7.7.4-.1.5 2.2.4-.9.5-2.1.4 4.5.5.3.4-3 .5.3.5 2.6.4-7.2.5 4.8.4 4.1.5-2.4.4-5.2.5 3.1.4 6.2.5-.1.4-3 .5.3.4 2.6.5-3.7.4 1.9.5 6 .5-5.9.4-.2.5 1.1.4-1.8.5 4.6.4-.2.5-.5.4 3.4.5-2.9.4.7.5 2.4.4-.5.5 3.9.4-1 .5 4.8.4-3.1.5-1.1.5 3.8.4 2.5.5 3.7.4-3.5.5.6.4 4.3.5-1.8.4 4.4.5-.1.4 5.1.5-1.7.4-3.9.5-1 .4 3.7.5 1.2.4 5.1.5-5.3.4 3.2.5-.5.4 1 .5 1.5.4 0 .5-1.4.4 4.4.5-.2.4.3.5-1.4.4 3.8" stroke="#ff1500" stroke-width="1.3"/>
<path d="M121 398.6l1.5 1.2 1.5 1.3 1.5 1.2 1.5 1.3 1.5 1.4 1.5 1.9 1.6 1.8 1.5 1.8 1.5 1.8 1.5 1.9 1.5 1.7 1.5 1.5 1.5 1.5 1.5 1.5 1.5 1.5 1.5 1.4 1.5 1.1 1.5 1.2 1.5 1.1 1.5 1.3 1.6 1.5 1.5 1.4 1.5 1.4 1.5 1.5 1.5 1.5 1.5 1.4 1.5 1.5 1.5 1.5 1.5 1.5 1.5.8 1.5.6 1.5.7 1.5.6 1.6.7 1.5.6 1.5.6 1.5.3 1.5.3 1.5.2 1.5.3 1.5.3 1.5.2 1.5.2 1.5.1 1.5.2 1.5.2 1.6.6 1.5.6 1.5.5 1.5.6 1.5.6 1.5.5 1.5 1.4 1.5 2 1.5 2 1.5 2 1.5 2 1.5 3.3 1.5 3.4 1.5 3.4 1.6 3.4 1.5 2.2 1.5 2.1 1.5 2.2 1.5 2.1 1.5 2.2 1.5 1.4 0 6.8-1.5-.8-1.5-1.3-1.5-1.2-1.5-1.2-1.5-1.2-1.5-1.3-1.6-1.8-1.5-1.9-1.5-1.9-1.5-1.9-1.5-1-1.5-1-1.5-1-1.5-1-1.5-1-1.5-.8-1.5-.8-1.5-.7-1.5-.8-1.5-.8-1.6-.8-1.5-.9-1.5-.9-1.5-.9-1.5-1-1.5-.9-1.5-1-1.5-1.1-1.5-1-1.5-1-1.5-1.1-1.5-1.3-1.5-1.5-1.6-1.4-1.5-1.4-1.5-1.5-1.5-1.4-1.5-1.5-1.5-1.8-1.5-1.7-1.5-1.8-1.5-1.7-1.5-1.8-1.5-1.7-1.5-1.7-1.5-1.7-1.6-1.7-1.5-1.7-1.5-1.4-1.5-1.4-1.5-1.4-1.5-1.8-1.5-1.7-1.5-1.8-1.5-1.8-1.5-1.7-1.5-2-1.5-2-1.5-1.9-1.5-2-1.6-1.9-1.5-2-1.5-1.6-1.5-1.4-1.5-1.4-1.5-1.4-1.5-1.4z" fill="#7e1b8d" stroke="none"/>
<path d="M43.5 390.5l13.4.9 7.8.9 5.6.8 4.3.6 3.5.6 3 .4 2.6.5 2.2.5 2.1.4 1.8.4 1.7.3 1.5.4 1.5.4 1.3.2 1.2.5 1.2.2 1.1 0 1.1.2.9.4 1-.5.9.4.8 0 .9.2.8-.1.7-.3.7.2.7 0 .7.2.7-.2.6 0 .6.4.6.1.6.4.5-1.2.6-.4.5 2 .5-.1.5-1.3.5.2.5.6.5-2 .4.6.9.5.8-.4.8 1.3.8-.3.8-.8.7.5.7.7.6-.3.7 1.3.6 1 .6.2.6.8.6.5.5.2.5.8.6.2.5.9.5.3.4.5.5-.3.5.7.6 3 .7-.7.6 2.1.6-.5.6-1.3.6 2.6.5-.9.6 2.2.5-1 .5 2.2.5-.2.5 3.4.5-.7.4.3.5.4.6-.3.5 2.5.6 1.2.5-.5.5 1.9.6-1.6.4-1.5.5 3 .5-.2.5.6.5.2.6-.6.5 1.6.5 2.4.5-.6.5-.2.5 1.1.4-1.1.5 1.7.5 1.1.5 1.3.5-.2.5-.1.5 1.7.5-1.4.4.6.6-.9.5 3.9.5.2.4 1.8.5-1.6.5 1.3.5-2.3.5-1.3.5-.5.4 1.6.5 4 .4-3.7.5 6.2.5-.9.5-4.1.4 3.7.5 3.1.5-1 .5 4.6.5 1 .4-5.3.5-.5.5 6.9.4-7.8.5 3.9.5.9.4-1.2.5 1.3.5 4 .4-2.7.5-4.1.5 8.2.5-.7.4.8.5 4 .5-7.1.4 3.8.5-3.1.5-.5.4 3.4.5 2.8.5-9.8.4 3.9.5-2 .4 4.4.5-6.3.5 5.8.4 10.8.5-4 .5 4.6.4-13 .5 5.2.5 8.8.4-7.8.5 2.3.4-10.2.5 7.6.5-2.2.4 6.7.5 5.6.4-7.8.5-4.2.4-.6.5.1.5 11.1.4-5.5.5 3.2.4-2 .5 2.1.4-4.2.5-8.4.5 16.9.4-3.2.5 1.6.4-17.6.5 6.6.4 10 .5-16.3.5 18.2.4-5.9.5 0 .4 4.1.5 6.5.5-5 .4-16.5.5 6.2.4 14 .5 1.6.4-2.8.5-5.5.4-1.6.5 6.2.4 1.7.5-.7.5-7.8.4-4.9.5 23.9.4-16.1.5 8.6.4-10.7.5-6.3.4 17 .5.3.4-1.5.5-11.4.4 9.6.5-16.8.4 9.5.5 3.1.5.2.4 7.4.5-8.3.4 3.4.5-3.2.4 5.1.5-2.5.4 5 .5 3.5.4-14.7.5-.7.4 14.8.5-12.2.4 13.3.5.9.4-1 .5 5.1.5-7.9.4 10.7.5-7.6.4.4.5.6.4.2.5-.9.4 4.7.5 1.4.4 3 .5-1 .4-2.8.5.9.4 1 .5 9.2.4-6.6.5-1.2.4 1.4.5 2.8.4-3.2.5 2.1.4 1.2.5 1 .4-.5.5 3.7.4-2.3.5-.3.4-2.2" stroke="#7e1b8d" stroke-width="1.3"/>
</g>
<path d="M47.8 505.5v3.4M92.3 505.5v3.4M136.7 505.5v3.4M181.2 505.5v3.4M43.5 388.5h-3.4M43.5 437.3h-3.4M43.5 486.1h-3.4" stroke="#333" stroke-width="0.8" fill="none"/>
<path d="M43.5 505.5v1.9M45.8 505.5v1.9M61.2 505.5v1.9M69 505.5v1.9M74.6 505.5v1.9M78.9 505.5v1.9M82.4 505.5v1.9M85.4 505.5v1.9M88 505.5v1.9M90.2 505.5v1.9M105.7 505.5v1.9M113.5 505.5v1.9M119 505.5v1.9M123.3 505.5v1.9M126.9 505.5v1.9M129.8 505.5v1.9M132.4 505.5v1.9M134.7 505.5v1.9M150.1 505.5v1.9M157.9 505.5v1.9M163.5 505.5v1.9M167.8 505.5v1.9M171.3 505.5v1.9M174.3 505.5v1.9M176.9 505.5v1.9M179.1 505.5v1.9M194.6 505.5v1.9M202.4 505.5v1.9M207.9 505.5v1.9M212.3 505.5v1.9M215.8 505.5v1.9M218.7 505.5v1.9M221.3 505.5v1.9M43.5 505.5h-1.9M43.5 500.8h-1.9M43.5 496.9h-1.9M43.5 493.6h-1.9M43.5 490.8h-1.9M43.5 488.3h-1.9M43.5 471.4h-1.9M43.5 462.8h-1.9M43.5 456.7h-1.9M43.5 452h-1.9M43.5 448.1h-1.9M43.5 444.8h-1.9M43.5 442h-1.9M43.5 439.5h-1.9M43.5 422.6h-1.9M43.5 414h-1.9M43.5 407.9h-1.9M43.5 403.2h-1.9M43.5 399.3h-1.9M43.5 396h-1.9M43.5 393.2h-1.9M43.5 390.7h-1.9" stroke="#333" stroke-width="0.6" fill="none"/>
<rect x="43.5" y="385.5" width="178" height="120" fill="none" stroke="#3a3a3a" stroke-width="0.8"/>
<text x="48.1" y="518.8" text-anchor="middle" class="t">10<tspan class="s" dy="-4.3">2</tspan></text>
<text x="92.6" y="518.8" text-anchor="middle" class="t">10<tspan class="s" dy="-4.3">3</tspan></text>
<text x="137" y="518.8" text-anchor="middle" class="t">10<tspan class="s" dy="-4.3">4</tspan></text>
<text x="181.5" y="518.8" text-anchor="middle" class="t">10<tspan class="s" dy="-4.3">5</tspan></text>
<text x="37.5" y="392.1" text-anchor="end" class="t">10<tspan class="s" dy="-4.3">0</tspan></text>
<text x="37.5" y="440.9" text-anchor="end" class="t">10<tspan class="s" dy="-4.3">−1</tspan></text>
<text x="37.5" y="489.7" text-anchor="end" class="t">10<tspan class="s" dy="-4.3">−2</tspan></text>
<path d="M280.9 385.5V505.5M289.2 385.5V505.5M295.6 385.5V505.5M300.8 385.5V505.5M305.3 385.5V505.5M309.1 385.5V505.5M312.5 385.5V505.5M335.4 385.5V505.5M347.1 385.5V505.5M355.3 385.5V505.5M361.7 385.5V505.5M367 385.5V505.5M371.4 385.5V505.5M375.2 385.5V505.5M378.6 385.5V505.5M401.6 385.5V505.5M413.2 385.5V505.5M421.5 385.5V505.5M427.9 385.5V505.5M433.1 385.5V505.5M437.6 385.5V505.5M441.4 385.5V505.5M444.8 385.5V505.5M274.5 499.7H452.5M274.5 486H452.5M274.5 476.3H452.5M274.5 468.8H452.5M274.5 462.6H452.5M274.5 457.4H452.5M274.5 452.9H452.5M274.5 449H452.5M274.5 422.1H452.5M274.5 408.4H452.5M274.5 398.7H452.5M274.5 391.2H452.5" stroke="#000" stroke-opacity="0.085" stroke-width="0.8" stroke-dasharray="2.6 1.1 1.8 1.1" fill="none"/>
<path d="M315.5 385.5V505.5M381.7 385.5V505.5M447.8 385.5V505.5M274.5 445.4H452.5" stroke="#000" stroke-opacity="0.13" stroke-width="0.8" stroke-dasharray="3.2 1.3" fill="none"/>
<g clip-path="url(#c21)" fill="none" stroke-linejoin="round" stroke-linecap="round">
<path d="M274.5 391.2l19.9 14.1 11.7 5.1 8.2 3 6.4 3 5.3.4 4.4 1 3.9 3.5 3.3 2 3.1 1.4 2.7 1.5 2.5 1.6 2.3 1.6 2.1.7 2 .1 1.9.9 1.7-.2 1.6 2.3 1.6-.8 1.5 1.6 1.4-.5 1.3 2 1.3 0 1.2 1.3 1.2.6 1.1-.5 1.1-.1 1 0 1-.3 1 .7 1-.1.9.7.9-.2.8.9.8-.3.9.6.7.8.8 0 .8-1 .7 1.6.7-.2.7-.7.7 1.4.6.1.7.2.6 1.4.6-.6.6 1.3.6-1.1.6-.3.6.6.5-1.1.6.1.5.7.5.3.6-.1.5-2.5.5-2.6.4 0 .5.4.5 3.1.5 3.4.4-1 .5.2.9 0 .8 0 .9.4.8.3.8 1 .7-.1.8.3.7 1.8.7-1.1.7.7.7.8.6 0 .7 1.1.6-.4.6-1 .6 1 .6.6.6.8.6-1.1.5 1.5.6-.6.5 1.1.5-.3.6 1.1.5-.2.5.8.5-.6.4-.4.5.7.5 0 .4.8.5.8.7-1.4.6.5.7.3.6 1.2.6 0 .6-.1.6-.8.5-2.5.6 2.3.5 1.8.6-.2.5.3.5.6.6.2.5-.3.4-.3.5 1.1.5-.2.5-.1.4.5.5 1.5.6-.3.6-.1.5.8.6-.2.6-.5.5.8.5.6.5 1 .6-1.1.5.4.5-.4.4.2.5.6.5-.6.4-.1.5 1.5.6-.9.5.6.5 1.1.6-1.2.5 2.7.5-.8.5.9.5-.7.5.9.4-.4.5 1.8.5.1.4-.3.6 1.1.5.2.5.7.5 0 .5.4.5.1.5-.5.4 1.2.5-.4.5-.8.4 1.6.5-1 .5 1.1.5-.8.5.3.5.8.5.4.4.1.5.1.5-.3.5-.5.5 1.1.4-.4.5-.4.5 1 .5.7" stroke="#000000" stroke-width="1.75"/>
<path d="M274.5 395.3l19.9 14.5 11.7 4.5 8.2 1.4 6.4 4.2 5.3 3 4.4 3.6 3.9-.2 3.3 3.3 3.1 1.9 2.7-.1 2.5 3.2 2.3 5.7 2.1-6.8 2 1.4 1.9 4.8 1.7-2.9 1.6 3.5 1.6-.5 1.5 3.2 1.4.4 1.3-.1 1.3-1.1 1.2 2.2 1.2-3.7 1.1 5.3 1.1 2.7 1-.5 1 3.8 1-8.5 1 4.5.9-6.7.9 4.6.8 3.8.8-6.4.9 10.2.7-11.5.8 14.6.8-3.8.7-9.4.7 8.6.7 1.5.7 2.6.6 2.3.7-4.6.6 6.6.6-12.1.6 2.8.6-.1.6 9.8.6.4.5-.3.6-3.2.5-13.5.5 14.4.6-13.1.5 17.4.5-3.5.4-1.5.5-1.2.5.9.5 1.7.4 9.1.5-15.6.9 6.8.8-4.4.9-6.8.8 11.7.8 5.1.7 1.8.8-9.3.7-3.5.7 1.4.7 4.7.7 5.3.6 1.7.7-18.7.6 1.1.6 15.6.6-14.9.6 17 .6 2.8.6-.9.5.6.6-1.9.5-9.1.5 6 .6-10.5.5 11 .5 4.8.5-6.8.4 1.3.5-2.9.5-7 .4 8.6.5 4.6.7-2.2.6 8.5.7 8 .6-10.2.6-6.6.6.9.6 6.6.5-3.9.6 6.9.5.5.6-4.7.5-4.2.5.3.6 7.9.5-1.2.4-10.6.5 9.2.5-4.9.5 10.7.4-2.3.5.4.6.5.6-4.2.5-.3.6 5.6.6 1.1.5-.2.5-1 .5 1.1.6-2.1.5 2.4.5-1.8.4 2.3.5-2 .5 1.4.4 1.2.5.5.6-.5.5.3.5.1.6 1.8.5-.1.5.8.5.5.5.2.5.4.4 0 .5.3.5.5.4 1.2.6-1.7.5 2.1.5.3.5 0 .5.6.5.5.5.3.4-1.2.5 2.3.5-.5.4.7.5-.7.5 1.2.5 1.1.5-1.4.5-.4.5 2.1.4-.6.5-.7.5 1.6.5-.7.5 1.7.4-1.2.5 1 .5-1.3.5 1.1" stroke="#338a16" stroke-width="1.3"/>
<path d="M274.5 395.5l19.9 13.9 11.7 4.1 8.2 3.5 6.4 3.1 5.3 4.3 4.4 2.3 3.9.8 3.3 1.1 3.1.6 2.7 2.1 2.5.5 2.3 1.8 2.1 3.8 2-6.6 1.9 7.6 1.7-3.4 1.6 5.5 1.6.9 1.5.5 1.4-3 1.3 2.8 1.3-1.4 1.2 3.6 1.2-6.4 1.1 7.7 1.1 1 1-1.1 1 4.6 1-6.6 1 1.8.9 6 .9-2.8.8 4.3.8-3.5.9-6.5.7 7 .8 7.5.8-3.1.7-7.8.7 11.6.7-5.1.7 5.5.6.7.7-2.5.6-6.5.6 8.6.6-1.3.6-8 .6 7.7.6-.5.5 3.6.6 2.8.5-.6.5-1.4.6-4 .5 1 .5-12.7.4 11 .5 1 .5 4.4.5 2.5.4-5.6.5 6.9.9-11.5.8 6.5.9 4.8.8-3.3.8 5.2.7-7.7.8-10.3.7.3.7 15.3.7-2.3.7 5.8.6-.1.7-.3.6-2.9.6-12.7.6 15.8.6 1 .6-15.4.6.2.5 10.3.6-6.8.5-5.5.5 4.8.6 6.6.5 4.5.5 1.8.5 3.3.4-10.8.5-3.9.5 6.2.4 2.9.5 1.5.7-1.6.6 1.9.7-3.8.6 9.4.6-1.6.6-5 .6-9.6.5 14 .6 2.2.5-15.1.6 10.2.5 1.9.5 5.6.6-10.9.5 9.3.4 2 .5-9.6.5 6.2.5 1.9.4-5.7.5 6 .6-5.4.6 5.2.5-2.2.6 5.9.6-.1.5.8.5-.9.5 1 .6-.2.5-1.3.5.6.4-.5.5 2.5.5.1.4 1.1.5-.3.6.5.5 1.4.5-1.3.6 2.3.5-.1.5-.3.5 1.3.5-1.6.5 1 .4 1.6.5 1 .5-.2.4.6.6.6.5-.1.5.7.5 1.2.5 0 .5.6.5-.2.4-.6.5 1.9.5-.2.4.5.5.4.5-.5.5.3.5 1.5.5-.4.5.3.4-1.3.5 2 .5-1.2.5 1.5.5.1.4.7.5.3.5-.7.5-.2" stroke="#eca32c" stroke-width="1.3"/>
<path d="M274.5 395.7l19.9 12.7 11.7 5.3 8.2 3.7 6.4 3.7 5.3 1.6 4.4 4.1 3.9.5 3.3 1 3.1 1.3 2.7 2.9 2.5-3.2 2.3 0 2.1 11.5 2-3.1 1.9 1 1.7-1.5 1.6-.8 1.6 3.7 1.5 3.6 1.4-8.1 1.3 5.4 1.3.7 1.2 4 1.2-5.7 1.1 6.1 1.1.5 1-1.6 1 4.6 1 1.2 1-3.6.9 6.5.9-3.2.8 3.1.8-8.9.9 10.7.7 5 .8-4.4.8-6.9.7 2.3.7 6.4.7-7.5.7-2.6.6-4.8.7 10.9.6.8.6 3.3.6-2.5.6 4 .6-1.3.6 3.7.5-4.5.6 3.5.5-4.4.5-7.5.6 6.1.5 2.1.5 4 .4.2.5-2 .5-14 .5 10.5.4 5.7.5-11.1.9 10.7.8-4.9.9 2.4.8 1.2.8.6.7-3.3.8 1.1.7 6.4.7-3.5.7 4.8.7-15.4.6 14.3.7-13.5.6-1.8.6.2.6 5.2.6 2.1.6-1.1.6-4.7.5 3.1.6 14.5.5-3.2.5 6.2.6-3.8.5-.4.5 1.2.5-4.1.4 4.4.5-1.4.5 1.8.4 3.4.5-1.5.7-6 .6 8.4.7-11.1.6 5.8.6-2.9.6-2 .6 3.6.5 5.1.6.5.5-1.1.6 2 .5-12.1.5 7.4.6 1.2.5 1.8.4-2.8.5 3.1.5 6.1.5-9.5.4 3 .5 7.3.6.8.6 0 .5-.3.6-1.4.6 1 .5-.4.5.7.5.1.6 1 .5.2.5-1.8.4 2.7.5.1.5-1.6.4 2.9.5-.3.6 1 .5.7.5-.7.6.8.5 1 .5.5.5.8.5-1.7.5 2.2.4.4.5-.5.5 1.2.4 1.1.6-.6.5 1.7.5-1.1.5.4.5 1.1.5.8.5-.4.4.8.5-.7.5 1.8.4-.1.5-1.5.5 1.7.5.6.5-.1.5.8.5 1 .4-.3.5-1.8.5 2.6.5-.9.5.6.4.6.5.3.5.4.5-.2" stroke="#1000ff" stroke-width="1.3"/>
<path d="M274.5 395.3l19.9 14.2 11.7 4.2 8.2 3.9 6.4 3.4 5.3 3 4.4 2.1 3.9 2.2 3.3-1.6 3.1 4.4 2.7 2.3 2.5-4 2.3 1.4 2.1 6.2 2-1.4 1.9 2 1.7-2.1 1.6 5.9 1.6-4.1 1.5 5.3 1.4-4.7 1.3 6.8 1.3 2.1 1.2.5 1.2 1.3 1.1-4 1.1.6 1-3.6 1 8.8 1-3.7 1 3.5.9.8.9 3.9.8-5.1.8 1.9.9-.3.7-.4.8 1.7.8-.6.7 3.4.7-10.9.7 7.3.7-3.1.6-5.8.7 14.3.6-6 .6 8.9.6-1.6.6-4.8.6-1.8.6-2.3.5 4.3.6-.1.5 1.6.5 6.7.6-6.7.5-1.1.5.9.4-8.9.5 16 .5-8.3.5.1.4 5.7.5 2 .9-1.4.8.8.9 1.8.8 3.5.8-13.5.7-2.3.8.8.7 15.8.7-3.8.7-2.9.7-3 .6 9.7.7-6.6.6-.4.6-3.8.6 19.9.6-16.3.6-2.8.6 7.3.5.4.6 1.1.5 2.7.5-5.3.6 1.7.5 5.7.5.9.5-7 .4-3.3.5 1.9.5 8.5.4-4.5.5-8.5.7 15 .6-2.9.7 8.3.6-5.5.6-6.7.6 5.8.6-9.3.5 4.5.6 0 .5 4.1.6-4 .5 7.9.5-14.8.6 16 .5-2.6.4-4.8.5 12.6.5-5.9.5-9.2.4 8.3.5.4.6-3.2.6-.3.5 1 .6 2 .6 4.5.5-1.8.5 2 .5-.8.6.3.5-.4.5.8.4.8.5-1.8.5-.1.4 1.8.5.2.6 1.2.5-.1.5 1.7.6-1 .5 1.5.5.1.5-1.3.5 2.7.5-.5.4 1.3.5-1.1.5 1.1.4 1.4.6-.2.5.5.5 1.1.5-.2.5.1.5-.8.5 1.7.4.3.5.4.5.7.4-.4.5 1.5.5-1.5.5.4.5.7.5 2.5.5-2.5.4.7.5-.9.5 1.5.5-.2.5.2.4-.9.5 1.6.5-.3.5 1.1" stroke="#a52a2a" stroke-width="1.3"/>
<path d="M274.5 394.5l19.9 14.4 11.7 5.5 8.2 2.5 6.4 3.5 5.3 3.5 4.4 1.8 3.9 1.2 3.3 2.1 3.1 3.2 2.7-.6 2.5-3.9 2.3 5.7 2.1 2.8 2 1.3 1.9 0 1.7-.1 1.6 3.6 1.6 1.5 1.5-3.7 1.4 2.2 1.3 4.6 1.3.9 1.2.4 1.2-8.5 1.1 6.8 1.1 2.3 1-.4 1 3.2 1-.6 1 2 .9.5.9-4.1.8 2.2.8.6.9-.2.7-4 .8 5.3.8 6.3.7-8.8.7 4.2.7-1 .7 0 .6-2.1.7-4.3.6 12 .6-2.9.6 9.8.6-6 .6-8.3.6 9.5.5-16.2.6 3.2.5 1.1.5-4.7.6 15.2.5-1.1.5-2.2.4 2.8.5 3.4.5-10.8.5 10.9.4-6.2.5 3.1.9-5.8.8 8 .9-10.4.8 15.7.8-18.5.7 4.6.8 8.3.7 2 .7.4.7-5.4.7 9 .6.1.7-1.1.6 2.3.6 1.3.6-18.6.6 4.2.6 6.8.6 8.4.5-19.9.6 12.2.5-.4.5 6.8.6-14.2.5-1.6.5 4.7.5 9.8.4.4.5-.7.5 4.8.4-4.7.5-6.6.7 5 .6 6.5.7-2.3.6 5.6.6-7.1.6 4.3.6 5.7.5-18.3.6-2.6.5 12.3.6 2.9.5-4.3.5 6.2.6-2.9.5-8.2.4 10.3.5 2.8.5-9 .5 7.8.4-1.1.5-.5.6 2.8.6.6.5-.4.6.1.6 1.1.5 1.5.5-.8.5.2.6 1 .5-.3.5.4.4.3.5 1 .5.2.4-.1.5-.8.6.9.5 1.4.5.8.6-.4.5.7.5.7.5.5.5 1.2.5-1.5.4 1.2.5.7.5-1.3.4 1.3.6 1.4.5 0 .5 1.1.5.9.5-.7.5.9.5.8.4.4.5-.3.5.7.4-1.1.5 1.6.5-.7.5-.2.5 1.1.5.8.5-.4.4.1.5.4.5.5.5.7.5-.4.4 1 .5-.7.5-.9.5 1.8" stroke="#ff1500" stroke-width="1.3"/>
<path d="M346 431.5l1.5.9 1.5.8 1.5.8 1.5.8 1.5.8 1.5.9 1.5.8 1.5.8 1.5.8 1.5.9 1.5.9 1.5 1 1.5.9 1.5.9 1.5.9 1.5.9 1.5 1 1.5.9 1.5.9 1.5.7 1.5.6 1.5.7 1.5.6 1.5.6 1.5.7 1.5.6 1.5.6 1.5.7 1.5.6 1.5.6 1.5.5 1.5.6 1.5.5 1.5.6 1.5.5 1.5.6 1.5.6 1.5.5 1.5.6 1.5.6 1.5.8 1.5.7 1.5.7 1.5.7 1.5.8 1.5.7 1.5.9 1.5 1 1.5.9 1.5 1.4 1.5 1.7 1.5 1.8 1.5 1.9 1.5 1.8 1.5 1.5 1.5 1.1 0 1.6-1.5-.2-1.5-.6-1.5-.8-1.5-.6-1.5-.6-1.5-.5-1.5-.5-1.5-1-1.5-1-1.5-1-1.5-.8-1.5-.7-1.5-.8-1.5-.8-1.5-.8-1.5-.7-1.5-.8-1.5-.6-1.5-.6-1.5-.6-1.5-.6-1.5-.6-1.5-.6-1.5-.6-1.5-.6-1.5-.6-1.5-.7-1.5-.8-1.5-.8-1.5-.9-1.5-.8-1.5-.8-1.5-.9-1.5-.8-1.5-.8-1.5-.8-1.5-1-1.5-1.1-1.5-1.1-1.5-1.1-1.5-1.2-1.5-1.1-1.5-1.1-1.5-1.1-1.5-1.1-1.5-1.2-1.5-1-1.5-.9-1.5-.9-1.5-1-1.5-.9-1.5-.9-1.5-.9-1.5-.9-1.5-1-1.5-.9z" fill="#7e1b8d" stroke="none"/>
<path d="M274.5 394.5l19.9 15.1 11.7 4.5 8.2 2.2 6.4 5 5.3 2.7 4.4 1.9 3.9 0 3.3.7 3.1 5.2 2.7.6 2.5-2.8 2.3 5.1 2.1-5 2 9.1 1.9.1 1.7 1.9 1.6 1 1.6-3.1 1.5 1.1 1.4.6 1.3 1.5 1.3-.1 1.2 4.9 1.2-5.9 1.1 4.3 1.1-6.7 1 8.5 1 .1 1 2 1-6.5.9 5 .9 1.8.8-1 .8.3.9-1.4.7 3.6.8 3.2.8-10.9.7 3.4.7 6.7.7 1.3.7-1.2.6 3.6.7-1.2.6-9.1.6 10.5.6-5.8.6.9.6 2.6.6-8.5.5 4.9.6 8.2.5-.6.5 3.2.6-1.4.5 1.1.5-2.1.4-7 .5.8.5 5.5.5-11.7.4 11.1.5-3.2.9-4.9.8 10.2.9 2.2.8-1.7.8-6.7.7 6.8.8-1.5.7-1.6.7 7.7.7-.9.7-16.1.6 17.4.7-5.6.6-1.5.6 8.4.6-17.9.6 4.1.6 16.9.6-4.8.5-3.2.6 1.5.5 3.1.5-.6.6-.1.5-3.7.5 2.9.5 5.8.4-3.8.5-.8.5 3.1.4.7.5-.7.7 1.7.6-1.6.7-6.1.6 5.7.6 2.7.6-5.4.6.2.5 2.5.6 6.9.5-7.9.6 16.7.5-13.9.5-11.1.6 16.1.5-1 .4 2.4.5-6.6.5 2.1.5 3.2.4 1.1.5-.2.6 1.8.6.2.5-6.5.6 6.9.6-.7.5.7.5-1.6.5 2.2.6-.6.5-.5.5 1.9.4-.5.5.2.5-1.3.4 2.2.5 1 .6.6.5-1.4.5 2 .6-1.1.5 1.6.5.2.5 1.7.5.1.5.1.4-.2.5-.6.5.3.4 2.2.6.4.5-.5.5 1.7.5.7.5-.6.5 1.4.5-.1.4-.4.5 1.6.5-.6.4-.2.5-.4.5 2 .5.9.5-.7.5.7.5.6.4-1.9.5.2.5.8.5.9.5-1.1.4 1.3.5.3.5.6.5.1" stroke="#7e1b8d" stroke-width="1.3"/>
</g>
<path d="M315.5 505.5v3.4M381.7 505.5v3.4M447.8 505.5v3.4M274.5 445.4h-3.4" stroke="#333" stroke-width="0.8" fill="none"/>
<path d="M280.9 505.5v1.9M289.2 505.5v1.9M295.6 505.5v1.9M300.8 505.5v1.9M305.3 505.5v1.9M309.1 505.5v1.9M312.5 505.5v1.9M335.4 505.5v1.9M347.1 505.5v1.9M355.3 505.5v1.9M361.7 505.5v1.9M367 505.5v1.9M371.4 505.5v1.9M375.2 505.5v1.9M378.6 505.5v1.9M401.6 505.5v1.9M413.2 505.5v1.9M421.5 505.5v1.9M427.9 505.5v1.9M433.1 505.5v1.9M437.6 505.5v1.9M441.4 505.5v1.9M444.8 505.5v1.9M274.5 499.7h-1.9M274.5 486h-1.9M274.5 476.3h-1.9M274.5 468.8h-1.9M274.5 462.6h-1.9M274.5 457.4h-1.9M274.5 452.9h-1.9M274.5 449h-1.9M274.5 422.1h-1.9M274.5 408.4h-1.9M274.5 398.7h-1.9M274.5 391.2h-1.9" stroke="#333" stroke-width="0.6" fill="none"/>
<rect x="274.5" y="385.5" width="178" height="120" fill="none" stroke="#3a3a3a" stroke-width="0.8"/>
<text x="315.8" y="518.8" text-anchor="middle" class="t">10<tspan class="s" dy="-4.3">2</tspan></text>
<text x="382" y="518.8" text-anchor="middle" class="t">10<tspan class="s" dy="-4.3">3</tspan></text>
<text x="448.1" y="518.8" text-anchor="middle" class="t">10<tspan class="s" dy="-4.3">4</tspan></text>
<text x="268.5" y="449" text-anchor="end" class="t">10<tspan class="s" dy="-4.3">−1</tspan></text>
<path d="M505.5 385.5V505.5M511.8 385.5V505.5M517 385.5V505.5M521.4 385.5V505.5M525.2 385.5V505.5M528.6 385.5V505.5M551.2 385.5V505.5M562.8 385.5V505.5M570.9 385.5V505.5M577.3 385.5V505.5M582.5 385.5V505.5M586.8 385.5V505.5M590.6 385.5V505.5M594 385.5V505.5M616.7 385.5V505.5M628.2 385.5V505.5M636.4 385.5V505.5M642.7 385.5V505.5M647.9 385.5V505.5M652.3 385.5V505.5M656.1 385.5V505.5M659.4 385.5V505.5M682.1 385.5V505.5M505.5 504.7H683.5M505.5 501.7H683.5M505.5 498.9H683.5M505.5 480.5H683.5M505.5 471.1H683.5M505.5 464.4H683.5M505.5 459.2H683.5M505.5 455H683.5M505.5 451.5H683.5M505.5 448.4H683.5M505.5 445.6H683.5M505.5 427.2H683.5M505.5 417.8H683.5M505.5 411.1H683.5M505.5 406H683.5M505.5 401.7H683.5M505.5 398.2H683.5M505.5 395.1H683.5M505.5 392.4H683.5" stroke="#000" stroke-opacity="0.085" stroke-width="0.8" stroke-dasharray="2.6 1.1 1.8 1.1" fill="none"/>
<path d="M531.5 385.5V505.5M597 385.5V505.5M662.4 385.5V505.5M505.5 389.9H683.5M505.5 443.2H683.5M505.5 496.5H683.5" stroke="#000" stroke-opacity="0.13" stroke-width="0.8" stroke-dasharray="3.2 1.3" fill="none"/>
<g clip-path="url(#c22)" fill="none" stroke-linejoin="round" stroke-linecap="round">
<path d="M505.5 390.4l19.7 1.9 11.5 1.4 8.2 4.1 6.3 3.7 5.2 2.7 4.4-.3 3.8 1.9 3.4-.8 2.9.4 2.8 1.8 2.4-.9 2.3.1 2.1.9 2 .2 1.8.8 1.7.5 1.7.3 1.5 1.3 1.4.4 1.4.8 1.4.4 1.2.9 1.2 1.3 1.2-.3 1.1 1.8 1.1 1.1 1 1.1 1 .5 1 .2.9.2.9-.3.9-.4.8.9.8-.5.9-1.8.7.3.8-.2.7 2.6.7-1.8.7 1.2.7-.2.7.3.7 2.2.6-.9.6.8.6.8.6-.5.6 1.1.6.1.5-.2.6.2 1.1 1.3 1-.1 1-.4 1 1.9.9.2.9.7.9-.3.8-.2.8 0 .8 1 .8-.9.8 1.7.7.2.7.7.7-1.5.7 1.2.7.1.7.4.6-.3.6-.8.6 2.6.6.1.6-1.7.6 2.2.5-.7.6-1.4.8 2 .8-.7.8.5.7-.5.7 2.2.7-.3.7-.8.7 1.1.7-.2.6 1.8.6-1.8.6 1.7.7.7.5.6.6-1.4.6 2 .5-1.5.8.4.7 1.7.7 1.2.6-.9.7-.3.6.2.7 1.3.6 1.7.6-.2.6.1.5.6.6-.4.6.6.6.7.7 1.9.7.3.6-1.2.6 2 .6 1.7.6-2.1.6.8.6 2.8.5-.8.7 1.6.6.6.6-.3.7 2.3.6-1.4.5.9.6.4.6 2.3.5-1.2.7 1.7.6 1.8.6.5.6-.4.6.3.5 2.7.6.7.6.2.6.6.6-.7.6 1.5.6.5.5 1.4.6 0 .6 1.4.6-.2.6 1.8.6-1.8.5-.4.6.6.6.5.6 1.7.6-.1.5.4.6.7.6 0" stroke="#000000" stroke-width="1.75"/>
<path d="M505.5 396.1l19.7 8.5 11.5 5.8 8.2 7.2 6.3 8.2 5.2 6.6 4.4 0 3.8 2.3 3.4.3 2.9 1.1 2.8 3.3 2.4 1.5 2.3-2.5 2.1.8 2-3.8 1.8 6 1.7-1.3 1.7.2 1.5-3.2 1.4 3.4 1.4.5 1.4-3.1 1.2 2.2 1.2 2.9 1.2.5 1.1-.2 1.1-.1 1 2.4 1-1.1 1-5.6.9 2.5.9-2.5.9 7.3.8-1.7.8-3.7.9-.3.7.6.8 3.3.7-1 .7-3.9.7 5.7.7-3.1.7.2.7 6.2.6-.6.6-.1.6.2.6-2.6.6-4.4.6 2.9.5 2.2.6 3 1.1-5.1 1-2.1 1 8.2 1-2 .9 1.4.9-3 .9-1.6.8.4.8-1.4.8 2.5.8 2.1.8 4.1.7.4.7-4.2.7-2.3.7 7.4.7-8.9.7.9.6 6.1.6-.4.6 3.9.6-2.6.6 1.6.6 1 .5 1 .6-.3.8-3.3.8 1.8.8 1.7.7-7 .7 5.4.7-.8.7 4.1.7-5.4.7 6.6.6-5.6.6 2.7.6 1.2.7-1.9.5 4.3.6 1.1.6 2.2.5-5.3.8 5.4.7-2.7.7 2.3.6-5.5.7 3 .6 3.3.7-.8.6-3.8.6 4.2.6 2.1.5 1.2.6-7.2.6 1 .6 2.5.7-2.3.7 8.5.6-.1.6.2.6-1.6.6-1.8.6 1.8.6-3.2.5 7.2.7-5 .6 5.4.6-3.1.7-1 .6 2.6.5-.1.6 6 .6-7.2.5 3.2.7 1.2.6 1.3.6-3.3.6 7.2.6-2.6.5 2.9.6-2.3.6 1.1.6 1 .6 1.1.6 5 .6-4.2.5-.5.6 7.5.6-4.4.6 5.8.6-1 .6 2.1.5-2.1.6 1.2.6 2.9.6-1.2.6 1 .5-1.3.6 4.1.6-1.9" stroke="#338a16" stroke-width="1.3"/>
<path d="M505.5 400.9l19.7 14.7 11.5 14 8.2-4.1 6.3 8.6 5.2-12.3 4.4 14.9 3.8 2.8 3.4.9 2.9-.4 2.8 3.7 2.4-1.7 2.3 2.9 2.1-3.3 2 2.4 1.8-3.1 1.7-.2 1.7-1.8 1.5-.2 1.4.6 1.4.8 1.4-4.2 1.2 3.2 1.2 2 1.2-.5 1.1 4.3 1.1 1.1 1-7 1 1 1 6.3.9-6.5.9-.1.9 6.9.8-5 .8-2 .9 4.7.7-3.1.8 1.8.7-.4.7 4.3.7 1.2.7.3.7-3.8.7 3.8.6-1.9.6-1.1.6 1 .6.3.6 2.4.6-5.7.5 5.9.6-.4 1.1-1.9 1-.7 1-1.6 1 6.2.9-4.7.9-3.1.9 8.7.8-3.2.8-1.3.8-3.7.8 4 .8 5.4.7.3.7-7.4.7 1.9.7 6.9.7-2.5.7-1.3.6-3.6.6 5 .6-5.4.6.2.6 6.9.6-5.9.5 9.3.6-7.3.8-1.2.8 3.4.8-.4.7 7.1.7-4.7.7-.5.7 2.3.7-2.1.7-2.2.6.6.6 6.5.6-1 .7-4.7.5 9.9.6-3.9.6-.4.5-1.1.8 6.5.7-5.3.7-3 .6 8.7.7-2.3.6 3.5.7-5.5.6 6.9.6-8.5.6 2.8.5-.8.6 3.1.6 3.9.6-2.6.7.6.7 1.8.6-3.7.6 7.9.6-7.3.6 3.1.6 3.1.6.9.5-5.4.7 3.4.6.7.6 0 .7-1.5.6 5 .5-1.3.6-.1.6 3.1.5-1.7.7 1 .6-.1.6 3.8.6-3.5.6-1 .5 3.5.6.8.6-1.4.6 5.1.6.3.6-1.6.6 3.5.5-2 .6 4.1.6-2.1.6 4 .6-2.1.6 4.8.5 1.1.6-4.4.6 6.4.6-4 .6 5.8.5.6.6-3.4.6 3.1" stroke="#eca32c" stroke-width="1.3"/>
<path d="M505.5 395.3l19.7 7.6 11.5 6.4 8.2 6 6.3 3.2 5.2 5.9 4.4 5.5 3.8.6 3.4 4.3 2.9 1.4 2.8-4.6 2.4.3 2.3 2.7 2.1 3.5 2-2.8 1.8 2.5 1.7-.6 1.7-4 1.5 2.9 1.4 1.3 1.4-3.2 1.4-.2 1.2 3.9 1.2-2.6 1.2 2.9 1.1-3 1.1-1.5 1 2.2 1 3.3 1-3.4.9 1.5.9 1.9.9-3.6.8 5.5.8-6 .9 4 .7-1 .8 0 .7 6.7.7-5.5.7 5.7.7-2 .7 4.4.7-.4.6-7.3.6 8.2.6-3.2.6 1.5.6-5.2.6 5.4.5.2.6 2.3 1.1-3 1-4.7 1 5.6 1 .4.9-4.7.9 6.4.9-6.9.8 5.3.8.6.8 3.4.8-6.9.8.7.7 4.6.7-1.5.7 4.5.7-7 .7 5.1.7-4 .6 7.2.6-5.2.6.7.6 1.2.6 4.5.6-.6.5-1.8.6-2.7.8 3.5.8 3 .8-3.7.7-2.8.7 6.8.7 2.4.7-6.5.7-2 .7 3 .6-.9.6 4.8.6-1 .7 3.7.5-6 .6 4.7.6-.2.5-4.1.8 4 .7-2.3.7-1.4.6 3.9.7.3.6-3.2.7 8.1.6.7.6-6.1.6 1.3.5-1.1.6 7.9.6-.9.6.9.7-2.6.7 3.7.6-1.2.6-2.7.6.7.6 2.7.6-.6.6 2.3.5-1.4.7-3.3.6 6.3.6.2.7 2.1.6.4.5.5.6-2.5.6-2.8.5 5 .7 3.8.6-.8.6 2 .6-2.3.6.6.5-1 .6 5.1.6-1.9.6 4.3.6-.4.6.5.6-1.3.5-.4.6-1.1.6 5.9.6.8.6-2.5.6 5 .5-3.6.6 5.9.6-1.8.6-.2.6-.2.5 5.3.6-1.2.6 2.2" stroke="#1000ff" stroke-width="1.3"/>
<path d="M505.5 394.5l19.7 7.2 11.5 8.6 8.2 5 6.3 14.7 5.2 0 4.4-3.2 3.8 6.3 3.4-13.4 2.9 7.5 2.8 4.6 2.4-6 2.3 2.3 2.1 2.7 2 .4 1.8 5.9 1.7.3 1.7 4 1.5-2.4 1.4-1.6 1.4.5 1.4 6.1 1.2-2.4 1.2.1 1.2.2 1.1-.4 1.1-2.4 1 4.8 1-.2 1 1.7.9-3.1.9-3.6.9 3 .8 1.5.8.6.9-2.3.7.8.8.6.7 4.1.7-6.5.7.2.7 7 .7-3.1.7-4.6.6 1.9.6 1.6.6 1.3.6 2.9.6-1.4.6-4.2.5 4.6.6.4 1.1-.5 1-1.4 1 1.5 1 3.9.9-4.7.9.3.9 4.4.8-2.9.8-2.3.8 6.4.8-3.8.8-1.8.7-.2.7-.8.7 4.5.7-2.7.7 6.5.7-6.3.6 5.7.6-1.1.6 2.5.6-4.4.6-.5.6 5 .5-.1.6 1.3.8-5.5.8 3.5.8 1.1.7 1.9.7-1.7.7-4.8.7 7.1.7-2.3.7.4.6 2.9.6 2.4.6-3.4.7 3 .5-.3.6-2.1.6 2.6.5-3 .8 6.3.7-8.3.7 2.1.6-.4.7 7.5.6-6.7.7.7.6 1.3.6-1.2.6 5.8.5-2.2.6 4.2.6-5 .6 6.4.7-2.7.7-.5.6 1.7.6-2.6.6 1.5.6 1.9.6 3.7.6-6 .5 4 .7.3.6 1.2.6-3.8.7 8.3.6-3.6.5.4.6-1 .6 4.5.5-.2.7-2 .6 2.6.6-3.5.6 3.1.6-1.7.5 4.4.6-2.1.6 4.9.6-1.4.6-1.4.6.8.6 1.1.5 5.5.6-1.5.6.3.6 4 .6-3.4.6 2.8.5 2 .6 2.5.6-4.5.6 4.3.6.2.5 2.8.6 1.1.6-1.8" stroke="#a52a2a" stroke-width="1.3"/>
<path d="M505.5 397.7l19.7 14.2 11.5 6.9 8.2 5.7 6.3 8.3 5.2 4.4 4.4 1.3 3.8-3.7 3.4 1.8 2.9-3.6 2.8 3.9 2.4 2.4 2.3-.1 2.1 1.1 2-3.9 1.8 3.7 1.7 3.1 1.7-3.5 1.5-1.1 1.4 3 1.4-2.2 1.4 4.7 1.2.2 1.2-.3 1.2-1.9 1.1-3.8 1.1.2 1 3 1 3.3 1-3.5.9 5.1.9-3 .9-3.8.8 3.8.8 3.7.9-5.5.7 4.5.8-1.3.7-3.3.7 4.8.7-5.1.7 2.2.7 3 .7-6.1.6 7.3.6-4.3.6 2.6.6.2.6 3 .6-4.9.5 3.1.6-1.3 1.1-3.1 1 2.5 1 4.9 1-.4.9-6.1.9 3.4.9-2.2.8-.6.8-.2.8 2.7.8 1 .8-2.8.7 8 .7-8.9.7 4.6.7 2.2.7 1.3.7.7.6-.9.6-3 .6 4 .6-6.2.6 2.3.6-.2.5-.1.6-.3.8 2.7.8 4.7.8-.6.7-5.4.7 6.7.7-3.8.7 7.3.7-7.2.7 3.9.6-1.1.6-.9.6 5.3.7-1.2.5 2.1.6-7.3.6 4.8.5 3.1.8 1.8.7-5.3.7-1.6.6 1.1.7 2.5.6 2.8.7-3.2.6 2.9.6-.2.6.9.5 1.4.6.4.6-4.8.6 1.1.7 1.3.7 3.3.6-2 .6.7.6 1.2.6-1.3.6 5.7.6 1.8.5-4.2.7.8.6-2.3.6 4.1.7 4 .6 1.3.5.4.6-4 .6-2.2.5 2.9.7 3.9.6-4.7.6 5.1.6-3.4.6 2.1.5 2.1.6-.9.6 4 .6-3.3.6 3.7.6 1.3.6-.2.5 2 .6.2.6-2.3.6 4.8.6-1.6.6 4.9.5-1.5.6-1.3.6.9.6.6.6 1.5.5 2 .6.1.6-.6" stroke="#ff1500" stroke-width="1.3"/>
<path d="M505.5 399.3l19.7 13.8 11.5 7.2 8.2 7.1 6.3 10 5.2 0 4.4.5 3.8-2.4 3.4 5.8 2.9 1.4 2.8-1.3 2.4-.8 2.3 2.7 2.1 1.9 2 1.3 1.8-3.9 1.7.6 1.7-.1 1.5 1.4 1.4-1.4 1.4 5.3 1.4-4.7 1.2 2.2 1.2-4 1.2 5.1 1.1-5.2 1.1-.6 1 3.6 1 3 1-2.4.9 1 .9-2.4.9 4.4.8-6.2.8-1.8.9 4.7.7-.7.8-2.6.7-1 .7 4.3.7-3 .7-.9.7 7.3.7.1.6-6.9.6-1.2.6 6.5.6-2.2.6 2.6.6-6.1.5 7.9.6-1.5 1.1 1.6 1-7.4 1 4.6 1 3.1.9-7 .9 5.9.9-1.1.8.4.8.2.8-.9.8 3.8.8-2.9.7 2 .7 1.9.7-1.4.7-2.8.7 6.1.7 1.2.6-6.9.6-.3.6 1.3.6 2.4.6.3.6 5.1.5-2.6.6-.9.8-3.1.8 3.1.8 4.4.7-2.9.7-4.9.7 3.2.7-2.2.7 5.3.7 4.2.6-.4.6-7.6.6 8.5.7-5.4.5 6.6.6-4.9.6 3.8.5-1.7.8-3 .7 3.7.7 3.9.6-3.7.7 1.1.6-.4.7 5.2.6-6.7.6 3.1.6 3.4.5.9.6-3.9.6-.3.6 5.9.7-5.9.7 7.1.6.4.6-7.8.6 2.8.6-.2.6 1 .6 3.8.5 1.8.7-2.2.6-2.5.6-.1.7 2.5.6.9.5-.9.6.6.6 4.3.5-.7.7 2.3.6 2.1.6-4.9.6.8.6 1.9.5 5.1.6 1.1.6-4.4.6 1.4.6 2.2.6-2.1.6 3.6.5 2 .6.5.6 3.9.6-.9.6 2.2.6-2.8.5 2.2.6 1.8.6 2.3.6.3.6 1.1.5-2.9.6 1.5.6 1.2" stroke="#7e1b8d" stroke-width="1.3"/>
</g>
<path d="M531.5 505.5v3.4M597 505.5v3.4M662.4 505.5v3.4M505.5 389.9h-3.4M505.5 443.2h-3.4M505.5 496.5h-3.4" stroke="#333" stroke-width="0.8" fill="none"/>
<path d="M505.5 505.5v1.9M511.8 505.5v1.9M517 505.5v1.9M521.4 505.5v1.9M525.2 505.5v1.9M528.6 505.5v1.9M551.2 505.5v1.9M562.8 505.5v1.9M570.9 505.5v1.9M577.3 505.5v1.9M582.5 505.5v1.9M586.8 505.5v1.9M590.6 505.5v1.9M594 505.5v1.9M616.7 505.5v1.9M628.2 505.5v1.9M636.4 505.5v1.9M642.7 505.5v1.9M647.9 505.5v1.9M652.3 505.5v1.9M656.1 505.5v1.9M659.4 505.5v1.9M682.1 505.5v1.9M505.5 504.7h-1.9M505.5 501.7h-1.9M505.5 498.9h-1.9M505.5 480.5h-1.9M505.5 471.1h-1.9M505.5 464.4h-1.9M505.5 459.2h-1.9M505.5 455h-1.9M505.5 451.5h-1.9M505.5 448.4h-1.9M505.5 445.6h-1.9M505.5 427.2h-1.9M505.5 417.8h-1.9M505.5 411.1h-1.9M505.5 406h-1.9M505.5 401.7h-1.9M505.5 398.2h-1.9M505.5 395.1h-1.9M505.5 392.4h-1.9" stroke="#333" stroke-width="0.6" fill="none"/>
<rect x="505.5" y="385.5" width="178" height="120" fill="none" stroke="#3a3a3a" stroke-width="0.8"/>
<text x="531.8" y="518.8" text-anchor="middle" class="t">10<tspan class="s" dy="-4.3">3</tspan></text>
<text x="597.3" y="518.8" text-anchor="middle" class="t">10<tspan class="s" dy="-4.3">4</tspan></text>
<text x="662.7" y="518.8" text-anchor="middle" class="t">10<tspan class="s" dy="-4.3">5</tspan></text>
<text x="499.5" y="393.5" text-anchor="end" class="t">10<tspan class="s" dy="-4.3">0</tspan></text>
<text x="499.5" y="446.8" text-anchor="end" class="t">10<tspan class="s" dy="-4.3">−1</tspan></text>
<text x="499.5" y="500.1" text-anchor="end" class="t">10<tspan class="s" dy="-4.3">−2</tspan></text>
<path d="M43.5 547.5V667.5M45.8 547.5V667.5M61.2 547.5V667.5M69 547.5V667.5M74.6 547.5V667.5M78.9 547.5V667.5M82.4 547.5V667.5M85.4 547.5V667.5M88 547.5V667.5M90.2 547.5V667.5M105.7 547.5V667.5M113.5 547.5V667.5M119 547.5V667.5M123.3 547.5V667.5M126.9 547.5V667.5M129.8 547.5V667.5M132.4 547.5V667.5M134.7 547.5V667.5M150.1 547.5V667.5M157.9 547.5V667.5M163.5 547.5V667.5M167.8 547.5V667.5M171.3 547.5V667.5M174.3 547.5V667.5M176.9 547.5V667.5M179.1 547.5V667.5M194.6 547.5V667.5M202.4 547.5V667.5M207.9 547.5V667.5M212.3 547.5V667.5M215.8 547.5V667.5M218.7 547.5V667.5M221.3 547.5V667.5M43.5 667.3H221.5M43.5 665.2H221.5M43.5 651.1H221.5M43.5 643.9H221.5M43.5 638.8H221.5M43.5 634.9H221.5M43.5 631.7H221.5M43.5 629H221.5M43.5 626.6H221.5M43.5 624.5H221.5M43.5 610.4H221.5M43.5 603.3H221.5M43.5 598.2H221.5M43.5 594.2H221.5M43.5 591H221.5M43.5 588.3H221.5M43.5 586H221.5M43.5 583.9H221.5M43.5 569.8H221.5M43.5 562.6H221.5M43.5 557.5H221.5M43.5 553.6H221.5M43.5 550.4H221.5M43.5 547.7H221.5" stroke="#000" stroke-opacity="0.085" stroke-width="0.8" stroke-dasharray="2.6 1.1 1.8 1.1" fill="none"/>
<path d="M47.8 547.5V667.5M92.3 547.5V667.5M136.7 547.5V667.5M181.2 547.5V667.5M43.5 663.3H221.5M43.5 622.7H221.5M43.5 582H221.5" stroke="#000" stroke-opacity="0.13" stroke-width="0.8" stroke-dasharray="3.2 1.3" fill="none"/>
<g clip-path="url(#c30)" fill="none" stroke-linejoin="round" stroke-linecap="round">
<path d="M43.5 622.2l13.4-19.5 7.8 6 5.6-.3 4.3 2.6 3.5-2.3 3-.2 2.6-2 2.2 1.7 2.1 2.5 1.8 2.3 1.7-.9 1.5 1.9 1.5.1 1.3 3.9 1.2-4.4 1.2-2 1.1-2.4 1.1.1.9 2.8 1-.3.9-.8.8-1 .9 2 .8-3.7.7 4.8.7 2.2.7-3.6.7 3.3.7-3.5.6 3.4.6-1.5.6-1.2.6-6.3.5 5.3.6-1.3.5-5.1.5 7.4.5-5.9.5 4.1.5-4.2.5-1.7.4-.6.9 3.4.8-6.9.8.6.8 1.3.8 1.7.7-.3.7-.5.6-4.3.7 1 .6-4.7.6 9.3.6-2.5.6 4.9.5-5.2.5 1.4.6-7.2.5-3.5.5 8.4.4-5.5.5 1.4.5 3.1.6.5.7-10.1.6 11.8.6-10.3.6 6.2.6-1 .5 3.2.6-3.6.5 4.8.5-8.7.5 4.1.5-8.1.5 4.9.4 2.5.5-.4.6.8.5-.9.6-5.9.5-2.1.5 4.9.6-.4.4-6.4.5 5.2.5-6.8.5 6.2.5-1.5.6-3.9.5-.1.5-1.5.5.2.5 2.6.5-.2.4.2.5-1.3.5-5.6.5 5 .5-6.3.5 7.5.5-1.6.5-3.2.4 2.6.6-2.6.5 1.8.5-2.1.4 1.9.5-1.4.5-.5.5-1.8.5-2.2.5 4.3.4-2.3.5-1.9.4 1.4.5-.2.5 3.1.5-.4.4 2.5.5-2.8.5-1.6.5.8.5 2.7.4-.1.5-.4.5-1.5.4.4.5-4.7.5 0 .4-1.6.5 2.9.5-1 .4-2.1.5 4.8.5-1.9.5.3.4.9.5 1.2.5-2.2.4 4.6.5-5.2.5-.9.4 3.5.5-2.4.5-1.1.4 2.6.5-2.9.4 2.5.5 1.2.5-1.1.4-1.6.5 2.4.5-3.3.4 5.6.5-3 .5-2 .4 0 .5 2 .4-1.9.5.2.5.4.4-1.5.5 1.5.4-.5.5-3.1.4 5.8.5-3.4.5 4.5.4-6.9.5 2.1.4 4.1.5-3.4.4-3.7.5 3.4.5-.5.4-.3.5-1.9.4 6.3.5-4.2.4-.8.5 0 .5 1 .4-.2.5 3.5.4-4.9.5.4.5.1.4.4.5 1.8.4-1.4.5 1.4.4.3.5-3.1.4 1.9.5 2.8.4-4.8.5-.9.5 2.4.4.9.5-3.6.4 1.6.5 1.3.4-.1.5-.3.4-1.3.5.1.4 1.3.5-2.3.4-1.2.5 3.5.4-3.2.5 2.3.5-2.7.4 1.1.5-.9.4 1.7.5-.5.4-1.5.5 2.7.4-3.9.5 3.4.4.4.5-.6.4 2.5.5-3 .4-1.3.5-3.3.4 4.2.5-2.3.5.5.4 1.7.5-2.4.4 1 .5 1.7.4-3 .5.9.4.7.5-4.2.4 3.3.5-2.9.4 1.9.5 3.9.4-5.7.5 2.5.4-.1.5 1.8.4-5 .5 5.4.4 1.9.5-3.4.4 11.3.5 4.2.4 10.4.5 17.1.4 21.3.5 12.7.4 11" stroke="#000000" stroke-width="1.75"/>
<path d="M43.5 622.2l13.4-21.9 7.8 8 5.6 1.2 4.3 2.1 3.5 15.8 3-13.8 2.6-.8 2.2-2.7 2.1-1.1 1.8-1 1.7-.3 1.5 2.8 1.5 3.6 1.3-4.1 1.2-.6 1.2 4.1 1.1-3.1 1.1-.6.9.7 1 1 .9-2.5.8-.3.9 3 .8-3.8.7 1.2.7-.1.7 2.4.7-4.7.7 4.8.6-1.5.6-5.3.6 8 .6-8.8.5-1 .6-3.9.5-.9.5 7.5.5 3.1.5-8.8.5 4.4.5-3.5.4-5 .9 6 .8-.7.8-.4.8.8.2-4.6.3-44.7.3 44.7.7-1 .7-1.5.6 6.5.7-4 .6-9.4.6 3.3.6 2 .6-13.2.5 13.4.5-6.9.6 5.3.5 4.4.5-1.7.4-6.9.5-3.2.5 4.8.6 0 .7-7.2.6.2.6-1.4.6 2 .6.4.5-.7.6 2.3.5-5 .5 2.6.5 1.4.5 4.4.5 1.5.4-2.9.5-2 .6-3.1.5 5.1.6-2.7.5-.5.5 5.5.6-3 .4-.3.5 1.1.5 4.7.5-.4.5-10.7.6 5.5.5 1.1.5 1.1.5-3.7.5-5.6.5 5.4.4-2.7.5 7.4.5 1.6.5-8.4.5 0 .5 2.1.5 4 .5-4.4.4 4 .6-1.4.5-3.2.5 5.7.4.5.5-5.4.5-4.5.5 9.3.5-.1.5-4.1.4 1.6.5-1.9.4-4 .5 4.6.5-2.1.5 2 .4-.7.5 7.9.5-6.5.5-2 .5 1.4.4 10.5.5-6.9.5.1.4-9.8.5 11.8.5 3.2.4-6.3.5-.8.5-7.8.4 11.4.5-10.7.5 6.6.5 7.8.4-14.4.5 11.6.5-7 .4-4.5.5 14.4.5-14.6.4 7 .5 2.9.5-1 .4 2.7.5.3.4-1.7.5-4.7.5 2.5.4 1.2.5 7.6.5-4 .4-3.2.5.2.5 3.3.4-6.9.5 6.6.4-3.7.5-2.7.5 7.6.4-5.1.5-2.8.4 5.6.5-4.4.4 5 .5-5.8.5 6.4.4-9.7.5 8.9.4-5 .5-5.1.4 11.8.5-3.3.5.8.4-4.4.5 3.4.4.4.5 1.4.4 1.4.5-6.4.5 2.5.4 3.3.5-6.2.4.1.5 4.5.5-1 .4 6.5.5-11.4.4 3 .5-1.4.4-.9.5 10.7.4-9.1.5 3 .4.1.5 1.3.5 2.9.4-4.1.5-1.5.4 1.3.5-2.1.4 3.4.5-5.2.2 5.3.2-31.3.2 31.3-.2 0 .5-2.4.4-3.3.5 4.4.4-2.7.5-7.5.4 10.2.5-7.7 0 9.8.3-31.1.3 31.1-.1 0 .4.6.5-6.7.4 1.9.5-1.7.4 2.6.5 1.2.4-2 .5-.4.4 5.1.5-6.1.4-.6.5-.8.4-.3.5 1.1.4 3.6.5-2.6.5.8.4-9.2.5 15 .4-5.1.5.3.4-2.5.5 6 .4-8.3.5-5 .4 1.7.5-5.1.4 16.9.5-5.9.4-4.9.5 6.3.4 2 .5-10.6.4-2.2.5 5.9.4-1.1.5 3.1.4.4.5 9.5.4 11.4.5 16.2.4 18.4.5 8.2.4 13.4" stroke="#338a16" stroke-width="1.3"/>
<path d="M43.5 622.2l13.4-16.1 7.8.3 5.6 3.1 4.3 10.9 3.5-8.8 3-3.4 2.6-.4 2.2 2.4 2.1-1.7 1.8.9 1.7-1.8 1.5 1.9 1.5.2 1.3 3 1.2-1.6 1.2-2.2 1.1-1.6 1.1-1.1.9-4.8 1 9 .9-5 .8 6.2.9-3.1.8 5.2.7-7.3.7 0 .7-3.4.7-.6.7 6.2.6-2.8.6-3.1.6 2.5.6-1.9.5-.9.6 2.1.5-.6.5-1.9.5-2.6.5-1.7.5 9.4.5-4.3.4-5.6.9 4.5.8-12 .8 13.5.8-16.1.8 6.8.7.8.7-6.6.6 5.7.7-3.9.6-8.2.6 13.1.6-2.8.6-2.3.5 6.6.5-6.6.6-1.4.5 4.3.5-4.5.4-2.3.5-3.7.5 3.7.6.1.7 3.4.6 2.9.6-13.4.6 7.1.6 1 .5-4.5.6 5 .5-5.1.5-3.7.5 3.7.5-1.5.5 0 .4 1.2.5 1.1.6.2.5 1.2.6 4.9.5-3.2.5-1 .6 1 .4-.1.5 1.6.5-.8.5-3.2.5 6.9.6-13.3.5 5 .5 5.9.5-3.1.5 1.3.5.5.4 3 .5-3.7.5-.3.5-3.4.5 5.3.5.8.5-3.5.5-.8.4-4 .6-.9.5 7.8.5 1.3.4 4.8.5-13.3.5 5.2.5-4 .5 7.3.5-9.2.4 7 .5-8.3.4 4.7.5 5.6.5-5.1.5 11.3.4-10.3.5.6.5.4.5 2.6.5.9.4 5.7.5-10.7.5 7.7.4-13.4.5 10.1.5 1.5.4-1 .5-2.1.5-.2.4 2.7.5.6.5-5.2.5 2.8.4-3.6.5 3 .5 7.2.4-3.9.5 2.4.5-3.2.4-4.6.5 2.3.5-5.7.4 10.9.5 2.8.4-8.3.5 2.1.5 1.4.4-4.5.5-3.5.5 11 .4-1.4.5.9.5-2.4.4 5.5.5-10.1.4 5.3.5 1 .5-.4.4 1.1.5-5.9.4 1.2.5 5.5.4-6.6.5 6.9.5-5.5.4 9.8.5-8.7.4-1.7.5 5.3.4-5.8.5 0 .5.2.4 2.1.5 1.3.4 2.3.5-2.3.4-3.2.5.2.5 2.5.4 3.4.5-.8.4-4.6.5.4.5 9.9.4-11.2.5-4.3.4 5.9.5 3.5.4-3.9.5 1.9.4-3.3.5 7.8.4-8 .5-4.2.5.6.4 7.7.5-3.9.4.3.5 10 .4-5.4.5-3.6.4-2.5.5.8.4 6.9.5-4.7.4 4 .5-2.4.4 2.6.5-5.3.5-2.5.4 5 .5-2.4.4 5.4.5-1.4.4-7.8.5 13.4.4-13.8.5 6.9.4-.3.5-2 .4.5.5 1.5.4.3.5-3.1.4 8.5.5-10.8.5 11.2.4-9.6.5-1.4.4 4.7.5-1.9.4-1.9.5 8.6.4-4.6.5-.9.4 2.9.5 1.5.4-4.4.5-6.1.4-2.3.5-1.6.4 1.2.5-1 .4-1.1.5 6.9.4.1.5 7 .4-.8.5 11.3.4-1.8.5 26.3.4 8 .5 6.3.4 17.3" stroke="#eca32c" stroke-width="1.3"/>
<path d="M43.5 622.2l13.4-28 7.8 19.9 5.6-6.3 4.3-.5 3.5 2.4 3-1.3 2.6.5 2.2-1.2 2.1 4.1 1.8-5 1.7 4.2 1.5-2.8 1.5 4.2 1.3-8.5 1.2 6.9 1.2-.8 1.1 2.2 1.1-4.8.9-1 1-3 .9-1.1.8 3.8.9 4.5.8-1.7.7.7.7.5.7-.4.7-.6.7-2.9.6-9.2.6 8 .6-3.6.6 3.6.5-.3.6-1.1.5-.1.5-5.9.5-2.4.5-.2.5-.5.5-2.3.4 3.8.9-2.3.8 3 .8-1.1.8-1.5.8-3.4.7 3.8.7-5.2.6-2.1.7 4.7-.1 4.2.2-29.1.2 29.1.3 0 .6-12.3.6-1.6.6 7.6.5-1.4.5-6.3.6.6.5 3 .5 2.5.4-9.3.5 5.4.5 4.2.6-.7.7-5.9.6-.5.6-.1.6 1.3.6 6 .5-2.3.6-6.6.5-1.7.5 4.6.5-5.2.5 3.5.5 6.2.4-6.1.5 7.8.6-3.8.5 1.9.6 2.4.5-2.5.5-3.2.6-4.5.4 6.2.5-3.9.5 5.7.5-.7.5 1.2.6-.7.5-5.5.5.6.5 6 .5-.9.5 3.5.4-6.4.5 5.4.5-7.2.5-3.5.5 8.6.5-4.4.5-1.8.5 11.7.4-11.3.6 10.4.5.2.5-1.6.4-3.2.5 3.6.5-6.1.5 7.3.5-3.7.5 1.3.4-4.7.5-2.8.4 9.1.5-2.5.5.2.5 4.9.4-3.2.5 1.8.5-9.2.5 4.4.5 6.2.4.5.5-1.4.5.6.4-13.2.5 11.6.5-3.4.4-5.3.5 11.9.5-12.8.4 8.8.5 5 .5-1.1.5-5.5.4 5.6.5-5.6.5-2.8.4 3.8.5 2.2.5-.7.4-.7.5-.3.5-2.8.4 2.4.5-1.1.4-5 .5 8.2.5-3.4.4 2.2.5-.1.5-1.9.4 2.4.5-2 .5 3.2.4-7.3.5 9.4.4-4 .5.1.5-1.5.4-4.2.5 11.4.4-6.8.5 4.9.4-5.6.5 4.1.5-3.1.4 1.7.5 6.4.4-4.8.5-4.5.4 8.8.5-6.2.5-1.8.4-3.2.5 7.7.4-1.2.5-3.2.4 4.3.5-2.3.5 6.3.4-5.4.5-1.6.4-.4.5 2.9.5-4.1.4-1.3.5.9.4 8.5.5-4.4.4.4.5-2 .4-1.9.5 7.4.4-11.7.5 6.9.5 4.1.4-3.8.5-.6.4 6.5.5-2.9.4-7.5.5 5.9.4 2.2.5-1.4.4 1.4.5-5.7.4 4.1.5 2.8.4-5.9.5.6.5 1.9.4-7.5.5-1.8.4 8.5.5-.4.4-3.3.5 4.5.4-1.7.5 4 .4-5.6.5-5 .4 8 .5 1.6.4-7.5.5 2.6.4.2.5-1 .5-1.1.4.8.5-1.2.4 1.3.5 2.7.4-2 .5 2.4.4-3.8.5 4.2.4-2.2.5.9.4-.4.5-2.2.4-.8.5-1.6.4-4.2.5 10.5.4-2.6.5 1.8.4-3.2.5 9.1.4 3.8.5.7.4 8.6.5 9.6.4 14.5.5 17.6.4 8.5" stroke="#1000ff" stroke-width="1.3"/>
<path d="M43.5 622.2l13.4-22.9 7.8 6.4 5.6 3.5 4.3-1.8 3.5-5.1 3 .3 2.6 4.4 2.2-.7 2.1 5.3 1.8.4 1.7-2.9 1.5 1.1 1.5-3 1.3.7 1.2.7 1.2-.8 1.1 2.7 1.1-.3.9-5.3 1-1.5.9 3.7.8 2.6.9-7.1.8 6.7.7-1.4.7-1.5.7-7.9.7 11.6.7 2.4.6-16.5.6-.5.6 5 .6 4.4.5-4.5.6-.3.5 1 .5 2.1.5 1.4.5-3.5.5-6.7.5 6 .4-1.5.9-4.7.8-2.6.8.2.8-4.4.8 6.1.7 4.6.7-10.2.6 2 .7.5.6-4 .6-9.3.6 1 .6 16.3.5-2.7.5-5.1.6-6.3.5 7.5.5-3.4.4-.4.5-1.5.5 8 .6-11.8.7 7 .6-2.6.6-2 .6-1.2.6-1.4.5 3.9.6-5.4.5 3 .5-.9.5 5 .5-3.6.5-1 .4 4.6.5-2.1.6-1.7.5-1.7.6.6.5-.3.5-2 .6-.2.4-4.2.5 5.5.5 0 .5 5.8.5-5.4.6 2.4.5 3.8.5-9.9.5 3.4.5.1.5 5 .4 2.8.5-4.7.5-1.6.5.8.5.2.5 1 .5 1.8.5-8.8.4-1.5.6 16.2.5-10.8.5 10.8.4-4.8.5-4.7.5-1.8.5 9 .5 1.7.5-6.6.4-5.8.5 8.4.4.9.5-1.8.5-5.1.5 1 .4-3.1.5 14.8.5-10.2.5-2.1.5 3.5.4 6.8.5-5.5.5-10.1.4 11.4.5-7.5.5 7.6.4.8.5-2.1.5-1.7.4 8 .5-17.8.5 8.8.5 7.9.4-3.5.5-5.2.5-.5.4 9.7.5-4.5.5-4.8.4 7.9.5-2.7.5 5.9.4-5.9.5 6.7.4-17.4.5 5.7.5 4.4.4 2.7.5 3.7.5-16.5.4 5.7.5 2 .5 1.8.4-6.6.5 8.5.4-9.1.5 6.2.5-5.7.4 4.9.5-1.9.4 2.5.5 1.2.4 2.7.5 1.8.5 2.8.4-10.9.5 2.1.4-7.3.5 11.2.4-7.4.5-3.6.5 10.9.4-12.5.5 15.9.4-7.7.5-2 .4 3 .5-3.2.5 3 .4 4.3.5-5.4.4-7.8.5 11.6.5-5.8.4-.6.5 1.2.4 1.6.5-3.3.4.9.5 6.8.4-3.7.5-.2.4 4.2.5-6 .5 7.8.4-5.9.5 4.6.4-8.2.5 12.1.4-4.9.5-13 .4 18.4.5-8.7.4-2.9.5 5.6.4-10.8.5 5.1.4 5.4.5-5.4.5-1.6.4-1.2.5 6.5.4-6.8.5 3.7.4-3.2.5 13 .4-16.7.5 12.5.4-6.5.5 9.6.4-12.4.5 1.5.4 3.7.5-3.6.4 4.4.5-3.4.5-5.8.4-2.3.5 9 .4 4.1.5 1.7.4-7.9.5-3 .4-2.2.5 16.5.4-6.3.5-4.5.4 3.1.5-13.2.4 10.5.5-2.3.4 7.7.5 2.7.4-8 .5-2.7.4-2.5.5 6.2.4-.6.5 19.9.4 12.6.5 7.8.4 15.9.5 16.8.4-1.9" stroke="#a52a2a" stroke-width="1.3"/>
<path d="M136 573l1.5 0 1.5 0 1.5 0 1.5 0 1.5 0 1.6 0 1.5 0 1.5 0 1.5 0 1.5 0 1.5 0 1.5 0 1.5 0 1.5 0 1.5 0 1.6 0 1.5.2 1.5.1 1.5.2 1.5.1 1.5.2 1.5.1 1.5.2 1.5.1 1.5.2 1.5.1 1.6.2 1.5.1 1.5.2 1.5-.2 1.5-.2 1.5-.2 1.5-.3 1.5-.2 1.5-.2 1.5-.3 1.5-.2 1.6-.2 1.5-.2 1.5-.3 1.5-.2 1.5-.2 1.5-.3 1.5-.4 1.5-.3 1.5-.4 1.5-.3 1.6-.4 1.5-.3 1.5-.3 1.5-.4 1.5 0 1.5 0 0 6-1.5 0-1.5 0-1.5.4-1.5.3-1.5.3-1.6.4-1.5.3-1.5.4-1.5.3-1.5.4-1.5.3-1.5.2-1.5.2-1.5.3-1.5.2-1.6.2-1.5.2-1.5.3-1.5.2-1.5.2-1.5.3-1.5.2-1.5.2-1.5.2-1.5-.2-1.5-.1-1.6-.2-1.5-.1-1.5-.2-1.5-.1-1.5-.2-1.5-.1-1.5-.2-1.5-.1-1.5-.2-1.5-.1-1.5-.2-1.6 0-1.5 0-1.5 0-1.5 0-1.5 0-1.5 0-1.5 0-1.5 0-1.5 0-1.5 0-1.6 0-1.5 0-1.5 0-1.5 0-1.5 0-1.5 0z" fill="#ff1500" stroke="none"/>
<path d="M43.5 622.2l13.4-25.6 7.8 12.4 5.6-.3 4.3 9.7 3.5-6.1 3-8.1 2.6 2.7 2.2-1 2.1-1.7 1.8 7.6 1.7-3.5 1.5 1.1 1.5-3.9 1.3 1.8 1.2-2.2 1.2 1 1.1 4.9 1.1-.2.9-3.4 1-5.4.9 6.5.8 4.8.9-10.3.8 5.1.7-.4.7 5.4.7-2.9.7-13.1.7 2.5.6 3.7.6-5.6.6 9 .6-11.5.5 3.7.6 2.2.5 1.7.5-1.5.5-.3.5-8.7.5 4.8.5-7 .4-3.1.9 5.7.8 2.9.8-8.3.8.8.8.5.7-9.8.7 10.2.6-.4.7.2.6-6.8.6-2.7.6 2.6.6 3.5.5-8.1.5.1.6 3.6.5-7.3.5 11.8.4-1.9.5 1.5.5 2.9.6-13.3.7 6.4.6-6.1.6 3.4.6-3.2.6-.3.5 4.8.6-9.6.5 8.8.5-8.4.5 5.2.5-4.6.5 3.9.4 7 .5-6.3.6 2.5.5-4.9.6 1.9.5-1.1.5-2.1.6 5.6.4-.3.5-2.3.5-4.4.5 1.5.5 5.9.6-2 .5-5.5.5 4.1.5 4.5.5-.9.5-2.8.4-5.5.5 2.9.5 3.4.5-5.1.5 3.2.5-.4.5-.7.5.5.4 0 .6.1.5 2.6.5 4 .4-8.6.5 6.2.5-7.7.5 3.5.5 4.4.5-9.5.4 6.6.5 2.6.4-1 .5 1.2.5-3.3.5 5 .4-4.5.5-1.8.5 5.3.5-1.7.5 3 .4-1.6.5-.7.5-8.6.4 8.1.5-4.2.5 2 .4.7.5 1.9.5.2.4.7.5-1.8.5-5.1.5 1.8.4 1.7.5 4.4.5-3.2.4-5.5.5 10.5.5-7 .4-.9.5 8.4.5-10.2.4 4.9.5-5.2.4 1.7.5 6.3.5-3.1.4-6.4.5 11.3.5-6.7.4.3.5 8 .5-4.6.4-4 .5 3.3.4 4.7.5-1 .5 0 .4-4.8.5-2.2.4 6.5.5-2.7.4-3 .5-4.4.5 13.3.4-1.6.5-1.2.4 3.2.5-8.8.4-4.7.5 8.5.5 1.2.4 4 .5-2.3.4-2.5.5-2.5.4.9.5-.1.5-1.9.4 4.6.5-7.1.4 1.9.5 8.3.5-6.5.4 2 .5-3 .4 4.8.5-2.1.4.3.5-5.5.4 3.1.5-1 .4-4.8.5 6.7.5-6.9.4 6.6.5-3.7.4 6.2.5-6.8.4 2.9.5 1.5.4-3.6.5-.9.4 4.4.5-3.7.4.1.5 2.5.4-1.7.5-2.4.5 3 .4-5.2.5 7 .4-2 .5-6.8.4 1.8.5 0 .4 4 .5.8.4 0 .5-3.3.4 6.3.5-4.5.4 0 .5-3.8.4 1.2.5 2.6.5-.4.4 4.5.5-3.9.4 4.2.5-11.6.4 4.6.5 1.7.4-1.2.5.6.4-5.6.5 4.2.4 7.9.5-12.1.4 4.6.5-.2.4 1.4.5-5.9.4 5.2.5-.9.4 2.7.5 1.9.4 7.2.5 5.1.4 12 .5 14.5.4 15.2.5 16.3.4 17.5" stroke="#ff1500" stroke-width="1.3"/>
<path d="M131 575.4l1.5-.5 1.5-.6 1.5-.5 1.5-.5 1.5-.6 1.6-.5 1.5.1 1.5.1 1.5.1 1.5.1 1.5 0 1.5.1 1.5.2 1.5.2 1.5.2 1.5.3 1.5.2 1.6.3 1.5.2 1.5.3 1.5.2 1.5.3 1.5.2 1.5.2 1.5.2 1.5.2 1.5.2 1.5.2 1.6.3 1.5.2 1.5.2 1.5.2 1.5 0 1.5-.2 1.5-.2 1.5-.2 1.5-.2 1.5-.2 1.5-.2 1.6-.2 1.5-.3 1.5-.3 1.5-.3 1.5-.3 1.5-.2 1.5-.3 1.5-.2 1.5-.1 1.5-.2 1.5-.2 1.5-.1 1.6-.2 1.5-.2 1.5-.1 1.5.2 1.5.5 1.5.1 0 18.8-1.5-.2-1.5-.6-1.5-.3-1.5.1-1.5 0-1.6.1-1.5.1-1.5 0-1.5.1-1.5.1-1.5 0-1.5.2-1.5.1-1.5.2-1.5.2-1.5.2-1.5.1-1.6.2-1.5.1-1.5.1-1.5.1-1.5.1-1.5.2-1.5.1-1.5-.1-1.5-.3-1.5-.3-1.5-.3-1.6-.3-1.5-.3-1.5-.3-1.5-.3-1.5-.3-1.5-.3-1.5-.3-1.5-.3-1.5-.4-1.5-.3-1.5-.4-1.6-.4-1.5-.3-1.5-.4-1.5-.4-1.5-.3-1.5-.3-1.5-.2-1.5-.2-1.5-.2-1.5-.3-1.5-.2-1.5-.2-1.6-.2-1.5-.3-1.5-.2-1.5-.2-1.5-.3-1.5-.2z" fill="#7e1b8d" stroke="none"/>
<path d="M43.5 622.2l13.4-23.9 7.8 8.8 5.6.8 4.3 3.2 3.5-9.7 3-1.2 2.6-4.9 2.2 5.6 2.1 1.6 1.8-.8 1.7 10.8 1.5-3.7 1.5 2.8 1.3-3 1.2 1.7 1.2.3 1.1-1.9 1.1-1.3.9 2.4 1-3.6.9 1.8.8-.9.9 1.6.8 1 .7-7.3.7 4.9.7 3.3.7-4.8.7 1.5.6-.8.6-.1.6-4.4.6-.1.5 3.8.6-9.4.5-2.1.5 10.1.5-1.8.5-3.8.5 3.7.5-2.2.4-6.7.9-1.9.8-1 .8-.5.8 5.3.8-1 .7-7.5.7-6.1.6 2.7.7 0 .6-4.3.6 4.5.6 3.6.6-2.3.5 1.8.5-1 .6-9.8.5 5.1.5-7 .4 10.1.5.9.5-12.5.6-1.2.7 3.9.6 6.5.6-3.5.6-.2.6 6.9.5-3.9.6-2.2.5-1.6.5 5.8.5-8.4.5 3.7.5-.9.4-.6.5-.3.6 9 .5-7 .6-2.4.5 5.7.5-1.2.6.1.4-2.6.5 6.5.5 3.3.5-9.5.5-4.3.6 7.2.5 7.3.5.8.5-12.5.5-.6.5 11.6.4.8.5-11.1.5-6.8.5 7.4.5-3 .5 3.3.5-.6.5-.6.4 2.2.6-4.1.5 2.2.5 2.5.4 10.8.5-5.8.5-5.3.5 3.7.5-9 .5-.6.4 4.5.5 4.6.4-7 .5-4 .5 12.3.5-5.8.4 8 .5-5.4.5-1.6.5 1.2.5 2.1.4-1.3.5-4.7.5.8.4 4.7.5-4.4.5 14.4.4-1.6.5-8.2.5 11.2.4-9.1.5-7.5.5-4.5.5 14 .4 5.7.5-2.6.5 3.1.4-12.6.5-1.9.5.4.4 4.1.5 5.2.5 4.6.4-5.8.5-4 .4 8.4.5 1.2.5-10.4.4-1.3.5 9.3.5-11.5.4-4.6.5 12.1.5-7.4.4 9.9.5-5.4.4 12.9.5-21.9.5 11.9.4-9.1.5 13 .4 3.3.5-4 .4-8 .5 6.4.5-6.1.4 8.3.5 5.8.4-7.7.5-1.6.4 1.4.5-7 .5 3 .4 5.4.5-2.2.4-9.9.5 6.4.4 7 .5-8.3.5 1.6.4 9.4.5-3.4.4-16.2.5 11.9.5 6.1.4-5.2.5-1.5.4 8.7.5-6.8.4 1.5.5-12.9.4 11.3.5-8.6.4 11.5.5-9 .5-2.8.4 1.4.5 6.7.4 1 .5-14.7.4 6.2.5 7.3.4 3.5.5 1.4.4-7.8.5.3.4-1.7.5 1.6.4-7.9.5 12.5.5-13.2.4 11.3.5-1.4.4 4.5.5-2.9.4-4.9.5 2.4.4 5.3.5-4 .4 1.5.5-16.1.4 18.2.5 5.1.4-3 .5-20 .4 9.3.5 8.4.5-.7.4-4.8.5 3.8.4-15.7.5 14.4.4-.1.5 4.2.4-13.8.5 2.4.4 1.1.5-2.8.4 3.6.5 5.2.4-9.1.5 4.8.4 3.9.5-4.4.4 5.7.5-9.9.4 7.8.5 13.8.4-7.6.5 11 .4-.9.5 18.4.4 28.9.5.3.4 6.2" stroke="#7e1b8d" stroke-width="1.3"/>
</g>
<path d="M47.8 667.5v3.4M92.3 667.5v3.4M136.7 667.5v3.4M181.2 667.5v3.4M43.5 663.3h-3.4M43.5 622.7h-3.4M43.5 582h-3.4" stroke="#333" stroke-width="0.8" fill="none"/>
<path d="M43.5 667.5v1.9M45.8 667.5v1.9M61.2 667.5v1.9M69 667.5v1.9M74.6 667.5v1.9M78.9 667.5v1.9M82.4 667.5v1.9M85.4 667.5v1.9M88 667.5v1.9M90.2 667.5v1.9M105.7 667.5v1.9M113.5 667.5v1.9M119 667.5v1.9M123.3 667.5v1.9M126.9 667.5v1.9M129.8 667.5v1.9M132.4 667.5v1.9M134.7 667.5v1.9M150.1 667.5v1.9M157.9 667.5v1.9M163.5 667.5v1.9M167.8 667.5v1.9M171.3 667.5v1.9M174.3 667.5v1.9M176.9 667.5v1.9M179.1 667.5v1.9M194.6 667.5v1.9M202.4 667.5v1.9M207.9 667.5v1.9M212.3 667.5v1.9M215.8 667.5v1.9M218.7 667.5v1.9M221.3 667.5v1.9M43.5 667.3h-1.9M43.5 665.2h-1.9M43.5 651.1h-1.9M43.5 643.9h-1.9M43.5 638.8h-1.9M43.5 634.9h-1.9M43.5 631.7h-1.9M43.5 629h-1.9M43.5 626.6h-1.9M43.5 624.5h-1.9M43.5 610.4h-1.9M43.5 603.3h-1.9M43.5 598.2h-1.9M43.5 594.2h-1.9M43.5 591h-1.9M43.5 588.3h-1.9M43.5 586h-1.9M43.5 583.9h-1.9M43.5 569.8h-1.9M43.5 562.6h-1.9M43.5 557.5h-1.9M43.5 553.6h-1.9M43.5 550.4h-1.9M43.5 547.7h-1.9" stroke="#333" stroke-width="0.6" fill="none"/>
<rect x="43.5" y="547.5" width="178" height="120" fill="none" stroke="#3a3a3a" stroke-width="0.8"/>
<text x="48.1" y="680.8" text-anchor="middle" class="t">10<tspan class="s" dy="-4.3">2</tspan></text>
<text x="92.6" y="680.8" text-anchor="middle" class="t">10<tspan class="s" dy="-4.3">3</tspan></text>
<text x="137" y="680.8" text-anchor="middle" class="t">10<tspan class="s" dy="-4.3">4</tspan></text>
<text x="181.5" y="680.8" text-anchor="middle" class="t">10<tspan class="s" dy="-4.3">5</tspan></text>
<text x="37.5" y="666.9" text-anchor="end" class="t">10<tspan class="s" dy="-4.3">−1</tspan></text>
<text x="37.5" y="626.3" text-anchor="end" class="t">10<tspan class="s" dy="-4.3">0</tspan></text>
<text x="37.5" y="585.6" text-anchor="end" class="t">10<tspan class="s" dy="-4.3">1</tspan></text>
<path d="M280.9 547.5V667.5M289.2 547.5V667.5M295.6 547.5V667.5M300.8 547.5V667.5M305.3 547.5V667.5M309.1 547.5V667.5M312.5 547.5V667.5M335.4 547.5V667.5M347.1 547.5V667.5M355.3 547.5V667.5M361.7 547.5V667.5M367 547.5V667.5M371.4 547.5V667.5M375.2 547.5V667.5M378.6 547.5V667.5M401.6 547.5V667.5M413.2 547.5V667.5M421.5 547.5V667.5M427.9 547.5V667.5M433.1 547.5V667.5M437.6 547.5V667.5M441.4 547.5V667.5M444.8 547.5V667.5M274.5 662.9H452.5M274.5 658.4H452.5M274.5 655H452.5M274.5 652.1H452.5M274.5 649.7H452.5M274.5 647.7H452.5M274.5 645.8H452.5M274.5 633.4H452.5M274.5 627.1H452.5M274.5 622.6H452.5M274.5 619.2H452.5M274.5 616.3H452.5M274.5 613.9H452.5M274.5 611.9H452.5M274.5 610H452.5M274.5 597.6H452.5M274.5 591.3H452.5M274.5 586.8H452.5M274.5 583.4H452.5M274.5 580.5H452.5M274.5 578.1H452.5M274.5 576.1H452.5M274.5 574.2H452.5M274.5 561.8H452.5M274.5 555.5H452.5M274.5 551H452.5M274.5 547.6H452.5" stroke="#000" stroke-opacity="0.085" stroke-width="0.8" stroke-dasharray="2.6 1.1 1.8 1.1" fill="none"/>
<path d="M315.5 547.5V667.5M381.7 547.5V667.5M447.8 547.5V667.5M274.5 644.2H452.5M274.5 608.4H452.5M274.5 572.6H452.5" stroke="#000" stroke-opacity="0.13" stroke-width="0.8" stroke-dasharray="3.2 1.3" fill="none"/>
<g clip-path="url(#c31)" fill="none" stroke-linejoin="round" stroke-linecap="round">
<path d="M274.5 600.4l19.9 0 11.7-8.7 8.2 5.4 6.4-3.5 5.3-3.8 4.4-6.3 3.9 11.2 3.3-1.9 3.1-3 2.7 4.4 2.5 7.3 2.3 1.6 2.1.4 2-1.6 1.9 3.7 1.7-8.3 1.6-1.2 1.6 2.1 1.5-1.7 1.4 4.6 1.3-7.1 1.3 1.3 1.2.4 1.2.6 1.1 5.6 1.1-8.1 1-1.1 1 7.9 1-5.7 1 1.3.9-.7.9-3.2.8 1.1.8.1.9 3.6.7-7.7.8 3.1.8 8.1.7-4.8.7-5.2.7 5.7.7-1.9.6-1.3.7 2.5.6-6.2.6 4.2.6 4.2.6-.1.6-2.1.6-4.4.5 10.1.6-4.5.5-1.6.5-3.9.6-1.3.5-.4.5 5.3.4 1.6.5-4.2.5 1.1.5.3.4 1.6.5 1.6.9.5.8-1.3.9.8.8.1.8-2.3.7 0 .8-1.3.7 7.3.7-.6.7-5.8.7.3.6 2.8.7-3.9.6 1 .6-.6.6 1.2.6 2.7.6.3.6-.7.5-7.1.6 2.1.5.5.5 4.2.6-2.8.5-5 .5 2.5.5-2.6.4 7.9.5-5.4.5 9.1.4-3.7.5-1.6.7 2.5.6 3.6.7-3.5.6-2.4.6 2.7.6 1.9.6 1.1.5-3.1.6-2.8.5-3.2.6 4.8.5-6.6.5 1.8.6-2.6.5.9.4 1.5.5 3.5.5-6.8.5 8.6.4-3 .5 5.3.6-4.6.6-2.6.5 3.8.6-3 .6 3.5.5-3 .5 1.7.5 3.7.6-1.6.5-6.5.5 1.6.4 3 .5.4.5-3.5.4 5.5.5 1.7.6-5.2.5 1.7.5-1.6.6.7.5-1.2.5.9.5-2 .5.6.5.2.4 1.3.5 2.1.5-.1.4.3.6-5.1.5-.2.5 3 .5 0 .5-2.7.5 2 .5-.3.4.3.5 1.4.5-.7.4 2.4.5.8.5 2.2.5-.2.5 1.6.5-.7.5 1.4.4 2.5.5.1.5 1.7.5 5.9.5 5 .4 2.6.5 10.5.5 19.7" stroke="#000000" stroke-width="1.75"/>
<path d="M274.5 553.1l19.9 36.9 11.7 1.4 8.2 9 6.4 13.4 5.3-13.9 4.4-10 3.9 2.5 3.3 9.1 3.1-6.8 2.7 4.1 2.5.2 2.3-11.1 2.1 3.1 2 5.7 1.9-8.9 1.7 8.9 1.6 6.1 1.6-10.7 1.5 7.8 1.4-3.9 1.3-8.3 1.3 11.9 1.2-3.1 1.2 2.1 1.1-5 1.1 1 1 7.6 1-5.5 1-6.2 1 4.7.9-3.4.9-7.4.8 9.3.8 10.1.9-9.1.7 2.5.8-1.6.8 1.8.7.5.7-2.2.7-2.3.7 2.7.6-5.5.7 3.6.6-9.5.6 6.8.6 2.2.6-3.7.6 3 .6-4.1.5 5.3.6 1.7.5-10.6.5 7.7.6-3.1.5.9.5 4.2.4.5.5-4.3.5 7.5.5-12.4.4 9.1.5-7.6.9 8.4.8-7.6.9 9.2.8.5.8-2.9.7 1.5.8-7.9.7 4.9.7-3.3.7-.7.7 4.2.6-.4.7-5.4.6.6.6 6.3.6-7.5.6 14.2.6-9.5.6 1.6.5 0 .6 3.4.5-12.2.5 11.7.6-.2.5-11.9.5 17.3.5-4.4.4-5.5.5.5.5 9.1.4-5.2.5-2.9.7 2 .6-10.5.7 10.7.6-9.8.6 9.6.6-3.9.6 3.2.5-5.3.6 12.5.5-6 .6-4.2.5 1.3.5 2.9.6 1.8.5-10.2.4 2.7.5.4.5 6.4.5.4.4-5.5.5 4.1.6 1.3.6 5.6.5-9.1.6 1.3.6-3.4.5 5.5.5.1.5-3.7.6-8.9.5 3.1.5 6.1.4 3 .5-.7.5 1.2.4 2.2.5-10.8.6 8.1.5.4.5-7.8.6 4.6.5 2.4.5-1.4.5 1.3.5-2.8.5-2.2.4 5 .5-3.4.5-1.5.4 3.8.6-2.9.5 2.3.5.7.5-1.5.5 1.5.5.8.5-.7.4 2.2.5.5.5-.5.4.5.5.2.5 0 .5 0 .5 4 .5-.3.5.7.4 2.5.5 1.2.5.2.5 4.9.5 3.3.4 4.8.5 13 .5 19.9" stroke="#338a16" stroke-width="1.3"/>
<path d="M274.5 553.1l19.9 37.9 11.7 3.9 8.2 1.9 6.4-.9 5.3 0 4.4 4.8 3.9-1.6 3.3-.9 3.1-3.4 2.7-4.8 2.5 3.9 2.3 5.6 2.1-.4 2-6.4 1.9-.1 1.7 11 1.6-11.8 1.6 4.3 1.5-4.4 1.4-.4 1.3 5 1.3 4.1 1.2-2.1 1.2-1 1.1-4 1.1 2.5 1 1 1 3.7 1-11.7 1 6.2.9-1.8.9 0 .8 5 .8 5.1.9-11.5.7 0 .8-7.6.8 10.4.7-2.5.7 5.5.7-.5.7.9.6-.6.7-6 .6 2.4.6-.3.6-1.8.6 3.8.6-9.9.6 6.3.5-2.3.6 8.1.5-7.1.5 4 .6 4.1.5-5.8.5 4.9.4-13.7.5 6.3.5-2.3.5 1.2.4.6.5 4.9.9 2.1.8-2.5.9.3.8-4.2.8-4.1.7 3.2.8 4 .7-4 .7-.4.7 5.4.7.4.6-1.6.7-3.7.6 8.9.6-9.2.6 3 .6.1.6.1.6 9.1.5-9.9.6-.2.5 2.9.5 2 .6-2.5.5 6.1.5-7 .5 1.4.4-.8.5-1.6.5-3.4.4 2 .5-1.4.7 2.1.6 5 .7-.1.6.4.6-8.5.6 15.1.6-5.3.5-14.4.6 13.8.5-1.9.6 2.6.5-2.4.5 2.7.6-5.7.5 5.5.4 2.7.5-6.6.5-8.8.5 10.6.4 1.5.5-6 .6 6.6.6-3.1.5.3.6-8.7.6 5 .5 3.4.5-1.4.5 3.9.6-1.7.5-8.4.5 2.8.4.4.5 2.1.5-6.1.4 3.3.5 0 .6 5.9.5 2.6.5-5.4.6-.2.5-3.5.5 8.8.5 1.8.5-5.2.5 2.9.4-2.9.5 2.1.5-4 .4 4.9.6-3.4.5 1.9.5.1.5-.3.5.9.5-1.9.5-1.1.4 1.6.5.2.5 3.3.4-1.3.5 1.9.5-1.8.5 2.3.5 1 .5-.7.5 3 .4-.7.5 4 .5 1.2.5 5.4.5 4.4.4 2.4.5 12.1.5 19.3" stroke="#eca32c" stroke-width="1.3"/>
<path d="M274.5 553.1l19.9 33.9 11.7 7.5 8.2 11.4 6.4-11.6 5.3 1.9 4.4-1.3 3.9-.8 3.3-1.4 3.1 5.3 2.7-3.4 2.5 4.8 2.3 1.1 2.1 2.3 2-12.7 1.9.2 1.7 9.9 1.6-2.8 1.6-5.9 1.5 9.4 1.4-10 1.3-.4 1.3 8.6 1.2 1.6 1.2-1.4 1.1-.2 1.1-4.5 1-3.6 1 13.3 1-7.7 1-4.8.9 4.7.9 7.5.8-13.3.8 6.7.9-3.8.7 1.4.8-7.3.8 14.5.7-11 .7 10.9.7-4.9.7 6.4.6-12.4.7 4.9.6-3.3.6 7.2.6-3.3.6-.6.6-6.5.6 1.4.5-5.7.6 4.9.5 1.9.5 2.8.6 1.9.5 4 .5-9.5.4 1.9.5 9.1.5-4.7.5-6 .4-2.5.5 10 .9-5.3.8 2.8.9-11 .8 5.5.8 10.3.7-16.1.8 13.8.7-3.9.7-5.8.7-5.7.7 11.9.6 6.9.7-13.7.6 5.6.6 2.1.6-4.8.6-.3.6-5.9.6 3.3.5 5.8.6-1.6.5-2.2.5 3.2.6-1 .5 6 .5-8.9.5-.9.4-5.9.5 6.5.5 1.7.4 4.7.5-10 .7 10.8.6-1.2.7-5.7.6 5.3.6-6.1.6-2.4.6 4.1.5 3.3.6-9.3.5 7.9.6 2.4.5-5.7.5 6.2.6 1.5.5-4.1.4 1.8.5-8.8.5 6.5.5-1.6.4 3.3.5-1.4.6 1.9.6 5.1.5-1 .6.7.6-11.6.5-1.7.5 15.4.5-11.7.6 2.7.5-1.3.5 6 .4-10.2.5 1.8.5 5.1.4-3.3.5-2.5.6 4.2.5 1.5.5-3.1.6 6.7.5-.7.5-6 .5 7.4.5-2.7.5-2 .4.3.5.7.5.4.4 2.4.6-3.7.5 2 .5-.6.5 1 .5-2.1.5-1.1.5 3.4.4-.1.5-1.2.5 3.4.4-.7.5.9.5.8.5.1.5.1.5 2.2.5.8.4 3.7.5.1.5 3.1.5 1.4.5 5.1.4 4.8.5 11.2.5 18.7" stroke="#1000ff" stroke-width="1.3"/>
<path d="M274.5 553.1l19.9 40.8 11.7-5.3 8.2 7 6.4 0 5.3 1.6 4.4-.2 3.9 4.4 3.3-3.2 3.1-.4 2.7.2 2.5-.6 2.3-.9 2.1 2.5 2-12.7 1.9 7.8 1.7.9 1.6-2.7 1.6 6.8 1.5-1 1.4-1.2 1.3-3.8 1.3 3 1.2 6.1 1.2-15.4 1.1 4.5 1.1 7.3 1-6 1 .7 1-.8 1 7.4.9-9.5.9 6.7.8.1.8-3 .9-2.2.7 2.9.8 2.7.8-5.3.7.2.7-2.1.7 12.8.7-9.1.6 5.1.7-2.7.6 1.3.6 4.2.6-7.5.6.2.6-4.7.6 6.7.5 1.2.6-7.6.5-1 .5 9.5.6 3.9.5-12.8.5 8 .4 3.7.5-10.8.5 3 .5 1.1.4-2.8.5 3.6.9-4.1.8-1.9.9 13.4.8-6.8.8 5.1.7-9.9.8 1.7.7 3 .7-7.3.7 3.9.7 3.4.6 1.4.7-6.7.6 3.2.6-2.5.6 2.5.6-.6.6.1.6 6 .5-4 .6-4.1.5 5.5.5-11.2.6 11.6.5-2 .5-2.2.5.5.4 2.7.5 5.5.5 1.2.4-17.5.5-1.3.7 12.1.6-8.8.7 15.1.6-8.5.6 3.2.6-6.4.6-1 .5-4.6.6 6.2.5 10.3.6 1.1.5-18.4.5 5.9.6-2.2.5 1.7.4 11.4.5-10.7.5-5.6.5 13 .4-2.7.5-5.7.6-3.4.6.8.5 8.7.6 7.5.6-8.1.5.5.5 2.4.5-4.2.6 7.3.5-8.6.5 3 .4 1.2.5.3.5-7.4.4-.4.5 5.7.6-.5.5-1.1.5 2.4.6-1.1.5-1.1.5.7.5.9.5-5.2.5 2.6.4 7.2.5-7 .5 1.9.4 0 .6 2.7.5-2.4.5-2.7.5 1.4.5.5.5 2.2.5.3.4.5.5 1.6.5-1.7.4 1.1.5 1.8.5-.2.5.9.5.2.5-1 .5 2.9.4 2.1.5 3.3.5.7.5 3.5.5 3.9.4 4.2.5 12.7.5 17.7" stroke="#a52a2a" stroke-width="1.3"/>
<path d="M274.5 553.1l19.9 39.2 11.7 1.3 8.2 3.5 6.4-.1 5.3-1.7 4.4.1 3.9 5.8 3.3-2.9 3.1-1.1 2.7-7 2.5-1.9 2.3 6.5 2.1 1.9 2 1 1.9-3.9 1.7-5.4 1.6 5.5 1.6 5.3 1.5-12.8 1.4 13.9 1.3-7.7 1.3-2 1.2 11.9 1.2-8.1 1.1 4.1 1.1-3.4 1 .9 1-3 1 3.8 1-5.1.9-6.1.9 14.3.8 3.2.8-4.2.9-13.7.7 7.4.8.8.8-4.1.7 3.5.7-2.9.7 11 .7-10.6.6 3.4.7-.4.6-.4.6.2.6 2.6.6-9.2.6 6.1.6-4.8.5 2.6.6 7.6.5-10 .5 5.3.6-3.2.5 2.4.5 8.4.4-5.3.5-7.7.5 1.6.5-.3.4 6.1.5.6.9-2.7.8-4.7.9 3.1.8-5.4.8 5.6.7-1.1.8-2.2.7.5.7 3.8.7-.4.7 2.4.6 7.6.7-5.9.6-6.6.6-1 .6-3.8.6 10.7.6-9.1.6 2 .5 3.1.6-7.8.5 18 .5-13.8.6 11.9.5-12.7.5 3.8.5-4.3.4 3.5.5-2.2.5 7.2.4-3.4.5-3 .7 9.6.6-13.8.7 17.9.6-6.9.6-11.3.6 4.4.6 3.7.5 4.3.6 6 .5-9.7.6-.2.5 6.4.5-8.4.6-5.6.5 8.1.4 8.9.5-8 .5 3.6.5-.3.4-7.9.5 2.6.6-1 .6-1.2.5-1 .6-1.4.6 8.5.5.8.5-3.2.5 3.1.6-2.8.5 3.8.5.1.4-6.5.5 7.1.5-3.5.4 1 .5-2.5.6-5.6.5-.6.5 11.4.6-6.5.5 4.2.5 1.7.5-2.5.5-4.9.5 3.5.4 4.1.5-.6.5 1.4.4-5.9.6 1.3.5-1.2.5 2.2.5-2.9.5 4.9.5-1.4.5 1.2.4.9.5-3.2.5 1.8.4-.6.5 3.5.5-.3.5 1.5.5-.9.5 1.6.5 1.2.4.9.5 3 .5-.7.5 6.8.5 1.6.4 5.7.5 13.5.5 17.9" stroke="#ff1500" stroke-width="1.3"/>
<path d="M342 594.6l1.5-.3 1.5-.3 1.5-.3 1.5-.3 1.5-.3 1.5-.2 1.6 0 1.5-.1 1.5-.1 1.5-.1 1.5 0 1.5-.1 1.5-.1 1.5-.1 1.5 0 1.5-.1 1.5-.1 1.5-.1 1.5 0 1.5-.1 1.6-.1 1.5-.1 1.5 0 1.5-.1 1.5-.1 1.5 0 1.5-.1 1.5 0 1.5-.1 1.5 0 1.5-.1 1.5 0 1.5-.1 1.5 0 1.6-.1 1.5 0 1.5-.1 1.5 0 1.5-.1 1.5 0 1.5-.1 1.5 0 1.5-.1 1.5 0 1.5-.1 1.5.1 1.5 0 1.5.1 1.6.1 1.5.1 1.5 0 1.5.1 1.5.1 1.5.1 1.5 0 1.5.1 1.5.1 1.5.1 1.5.2 1.5.3 1.5.3 1.5.3 1.6.3 1.5.3 1.5.3 1.5.3 1.5.3 1.5.3 1.5.1 0 3-1.5-.1-1.5-.3-1.5-.3-1.5-.3-1.5 0-1.5 0-1.6 0-1.5 0-1.5 0-1.5 0-1.5 0-1.5-.1-1.5-.1-1.5-.1-1.5 0-1.5-.1-1.5-.1-1.5-.1-1.5 0-1.5-.1-1.6-.1-1.5-.1-1.5 0-1.5-.1-1.5.1-1.5 0-1.5.1-1.5 0-1.5.1-1.5 0-1.5.1-1.5 0-1.5.1-1.5 0-1.6.1-1.5 0-1.5.1-1.5 0-1.5.1-1.5 0-1.5.1-1.5 0-1.5.1-1.5 0-1.5.1-1.5.1-1.5 0-1.5.1-1.6.1-1.5.1-1.5 0-1.5.1-1.5.1-1.5.1-1.5 0-1.5.1-1.5.1-1.5.1-1.5 0-1.5.1-1.5.1-1.5.1-1.6 0-1.5.1-1.5-.2-1.5-.1-1.5-.2-1.5-.1-1.5-.2z" fill="#7e1b8d" stroke="none"/>
<path d="M274.5 553.1l19.9 46.7 11.7-7.5 8.2 3.7 6.4 3.2 5.3-7.2 4.4 4.5 3.9 1 3.3-1.3 3.1 2.6 2.7 4.6 2.5-13.2 2.3 3.4 2.1 2.4 2 1.2 1.9 7.5 1.7-.3 1.6-8 1.6.8 1.5-2.7 1.4 1.7 1.3-8.6 1.3-2.7 1.2 6.3 1.2 4.6 1.1-2.7 1.1-.7 1 1.6 1 4.1 1-4 1 .8.9 3.6.9 2.8.8-8.6.8-3.6.9 11.5.7-6.7.8 8 .8-3.5.7-11.1.7-2 .7 5.5.7 5.9.6 1.3.7-6.8.6-.6.6 3.6.6 3.4.6 4.1.6-8.1.6 2.2.5-5.9.6-.2.5 4.6.5 6.6.6-6.6.5 2.4.5-2 .4 3.1.5 5.5.5-14 .5 7.8.4-.9.5-5.4.9-1.1.8 5.3.9 1 .8-6.7.8 7.1.7-9.2.8 7.6.7-4.2.7-1 .7-.3.7-1.1.6 5.9.7-.9.6 1 .6-5.4.6 7.7.6-4.9.6-4.7.6 10.8.5-6.8.6 2.1.5-9.3.5 18.5.6-9.5.5-3.9.5-4.2.5 4.3.4 1.1.5 4.3.5-9.2.4 3.4.5 3 .7 1.9.6 6.8.7-5.2.6-1.3.6-1.9.6 2.5.6-.3.5 3.8.6-4.7.5 5.4.6-12.8.5 5.2.5 6.4.6 4.8.5-10.1.4 6.7.5-7.1.5 4.2.5-1 .4.1.5.3.6.7.6-4.9.5 4 .6-1.8.6 9.6.5-7.8.5 2.2.5-7.3.6.5.5 6.1.5 1.7.4 4.2.5-11 .5 5.6.4-.5.5-9.1.6 10 .5-7.7.5 2.9.6 1.8.5 6 .5-5.8.5 1.5.5-.2.5-3.7.4 1.6.5.7.5-3.5.4 4.4.6-2 .5.2.5 1.2.5 2.1.5-3.7.5 3.2.5-.7.4.5.5 1.4.5-.5.4 2.1.5-.4.5.2.5 2.8.5.4.5-1.6.5 2 .4 1.8.5 2.1.5 1.5.5 2.9.5 5 .4 3.5.5 14.6.5 17.6" stroke="#7e1b8d" stroke-width="1.3"/>
</g>
<path d="M315.5 667.5v3.4M381.7 667.5v3.4M447.8 667.5v3.4M274.5 644.2h-3.4M274.5 608.4h-3.4M274.5 572.6h-3.4" stroke="#333" stroke-width="0.8" fill="none"/>
<path d="M280.9 667.5v1.9M289.2 667.5v1.9M295.6 667.5v1.9M300.8 667.5v1.9M305.3 667.5v1.9M309.1 667.5v1.9M312.5 667.5v1.9M335.4 667.5v1.9M347.1 667.5v1.9M355.3 667.5v1.9M361.7 667.5v1.9M367 667.5v1.9M371.4 667.5v1.9M375.2 667.5v1.9M378.6 667.5v1.9M401.6 667.5v1.9M413.2 667.5v1.9M421.5 667.5v1.9M427.9 667.5v1.9M433.1 667.5v1.9M437.6 667.5v1.9M441.4 667.5v1.9M444.8 667.5v1.9M274.5 662.9h-1.9M274.5 658.4h-1.9M274.5 655h-1.9M274.5 652.1h-1.9M274.5 649.7h-1.9M274.5 647.7h-1.9M274.5 645.8h-1.9M274.5 633.4h-1.9M274.5 627.1h-1.9M274.5 622.6h-1.9M274.5 619.2h-1.9M274.5 616.3h-1.9M274.5 613.9h-1.9M274.5 611.9h-1.9M274.5 610h-1.9M274.5 597.6h-1.9M274.5 591.3h-1.9M274.5 586.8h-1.9M274.5 583.4h-1.9M274.5 580.5h-1.9M274.5 578.1h-1.9M274.5 576.1h-1.9M274.5 574.2h-1.9M274.5 561.8h-1.9M274.5 555.5h-1.9M274.5 551h-1.9M274.5 547.6h-1.9" stroke="#333" stroke-width="0.6" fill="none"/>
<rect x="274.5" y="547.5" width="178" height="120" fill="none" stroke="#3a3a3a" stroke-width="0.8"/>
<text x="315.8" y="680.8" text-anchor="middle" class="t">10<tspan class="s" dy="-4.3">2</tspan></text>
<text x="382" y="680.8" text-anchor="middle" class="t">10<tspan class="s" dy="-4.3">3</tspan></text>
<text x="448.1" y="680.8" text-anchor="middle" class="t">10<tspan class="s" dy="-4.3">4</tspan></text>
<text x="268.5" y="647.8" text-anchor="end" class="t">10<tspan class="s" dy="-4.3">−1</tspan></text>
<text x="268.5" y="612" text-anchor="end" class="t">10<tspan class="s" dy="-4.3">0</tspan></text>
<text x="268.5" y="576.2" text-anchor="end" class="t">10<tspan class="s" dy="-4.3">1</tspan></text>
<path d="M505.5 547.5V667.5M511.8 547.5V667.5M517 547.5V667.5M521.4 547.5V667.5M525.2 547.5V667.5M528.6 547.5V667.5M551.2 547.5V667.5M562.8 547.5V667.5M570.9 547.5V667.5M577.3 547.5V667.5M582.5 547.5V667.5M586.8 547.5V667.5M590.6 547.5V667.5M594 547.5V667.5M616.7 547.5V667.5M628.2 547.5V667.5M636.4 547.5V667.5M642.7 547.5V667.5M647.9 547.5V667.5M652.3 547.5V667.5M656.1 547.5V667.5M659.4 547.5V667.5M682.1 547.5V667.5M505.5 662.2H683.5M505.5 657.7H683.5M505.5 653.7H683.5M505.5 650.3H683.5M505.5 626.9H683.5M505.5 615H683.5M505.5 606.6H683.5M505.5 600.1H683.5M505.5 594.7H683.5M505.5 590.2H683.5M505.5 586.3H683.5M505.5 582.9H683.5M505.5 559.5H683.5M505.5 547.6H683.5" stroke="#000" stroke-opacity="0.085" stroke-width="0.8" stroke-dasharray="2.6 1.1 1.8 1.1" fill="none"/>
<path d="M531.5 547.5V667.5M597 547.5V667.5M662.4 547.5V667.5M505.5 647.2H683.5M505.5 579.8H683.5" stroke="#000" stroke-opacity="0.13" stroke-width="0.8" stroke-dasharray="3.2 1.3" fill="none"/>
<g clip-path="url(#c32)" fill="none" stroke-linejoin="round" stroke-linecap="round">
<path d="M505.5 571.8l19.7 10.7 11.5-5.8 8.2 21.6 6.3 18.1 5.2-.5 4.4 1.2 3.8 9.5 3.4.3 2.9-6.5 2.8-6.1 2.4 6.4 2.3 3.2 2.1 1.6 2 .6 1.8-3.9 1.7-3.1 1.7 3.8 1.5 3.2 1.4-5.6 1.4 4.1 1.4-3.8 1.2 1.8 1.2-1.1 1.2.6 1.1-6.6 1.1 1.4 1 12.2 1-4.7 1-4.1.9 12.9.9 4.5.9-9.3.8 9.2.8-11.9.9-.6.7 2.1.8 4.4.7-7.6.7 2.7.7-9.7.7 4.8.7-.7.7 5.6.6-14.2.6 13.8.6-9.9.6-6.9.6 11.4.6-5.7.5 4.8.6 5.2.5.1.6-2 .5 1.1.5.2.5 3.2.5 6.8.5-.9.5 0 .4-8.1.5 10.4.5-1.2.8-15.3.9 6.7.8-11.9.9 8.1.7-.6.8 1.3.8-9.4.7 10.5.7 4.8.7-5.4.7-.5.6 3.1.7 3 .6-14.3.6 17.7.6-1.8.6-.5.6 1.4.6-7.4.5-9.7.6 9.2.5 5.9.5-.7.6.5.5-10.6.5 16.4.4-6.7.5.1.5-5.1.5-2.7.4 5.1.5-7.5.6-2.7.7 5.5.6 5 .6-1.7.7-5.1.5-2.4.6 13.3.6-13.8.6 12.5.5-11.4.5.5.6 4.4.5-2.3.5 2.6.5 3.2.5 3.3.5-6.4.4 1.9.5 13.4.5-2.8.4-5.6.6.6.6-.8.6-5.1.5 3.2.6-11.4.5 10.4.5-9.5.6-2.1.5 12.5.5.9.4-3.8.5-1.5.5 4 .5-5.9.4-1.1.5-3.5.5 2 .6.3.5-3.8.5-1.3.5-1.7.6-3.2.4 0 .5-.3.5-.2.5 1 .4 1 .5-4.2.5.5.6-1.7.5-2.1.5 3.2.5-.8.5-2.8.5 3.4.4-1.3.5.9.5.4.4.9.5-1.6.6.3.5-.9.4 1.5.5-1 .5 0 .5-2.4.4 1.3.5-.2.5.2.5-.5.5-2.6.5 1.4.4.3.5-.3.5 1.1.4-.9.5 0 .5 0 .5-.7" stroke="#000000" stroke-width="1.75"/>
<path d="M505.5 602.3l19.7-9.2 11.5 11.4 8.2 9.5 6.3-8.9 5.2-15.6 4.4 21.5 3.8 23.9 3.4-11 2.9-25.9 2.8-2.7 2.4-1.8 2.3 16.7 2.1-11.3 2-3.1 1.8 6.8 1.7-.2 1.7-16.3 1.5-2.6 1.4 3.9 1.4 8.9 1.4-18.5 1.2 8.4 1.2-1 1.2-2.1 1.1 9.8 1.1 1.4 1-21.5 1 19.4 1-3 .9-9.6.9 4.1.9 9.2.8-3.9.8-14.5.9 6.3.7 1.8.8 6 .7-5.6.7 3 .7-14.3.7-1.8.7 11.6.7 1.2.6-5.2.6.4.6-3.5.6-1.5.6 11 .6-13.7.5-3 .6 18.2.5-6.5.6 2.4.5-3.4.5-4.2.5-2.4.5 13.6.5-.7.5-20.1.4 7 .5 2.7.5-3.2.8-.1.9 8.1.8 10.4.9-11.2.7-.2.8-13.1.8 17.5.7-5.5.7 1.2.7-16.7.7 13.6.6 14 .7-17.9.6 9.5.6-14.3.6 8.5.6 11.7.6-7.4.6-9.9.5.7.6-.2.5 15.8.5-1.7.6-10.2.5 2.4.5 6.8.4-3 .5 5.1.5-13 .5 10 .4-4.3.5-15.3.6 11.2.7 8.2.6-5.4.6-3.9.7 3.6.5 9.7.6-18.3.6 17.2.6-3.4.5-10.2.5 10.8.6-6.1.5 7.3.5 0 .5-12.1.5 16.9.5-4.3.4-4.9.5-7.5.5 9.1.4.4.6-9.2.6 3.8.6-2 .5 10.5.6-1.4.5-11 .5 5.7.6-5 .5 2.7.5 8.2.4-6.4.5 10.8.5-.5.5-8.7.4 9.7.5-3.1.5 9 .6-5.6.5-2.8.5-9.1.5 12.9.6-3.1.4 7.3.5-1.1.5-9.8.5 6.4.4 4.7.5 6.7.5-10.2.6 7.1.5 3.7.5-.6.5-3.7.5-6.4.5-3.7.4 16.8.5.9.5-3.4.4-3.4.5-2.8.6 11.6.5-7.7.4-3 .5 1.5.5 9.6.5-.8.4-1.7.5.8.5-3.6.5-1.6.5 0 .5 4.2.4 2.5.5-6.9.5-1.6.4 9.6.5-5 .5 10.1.5-9.4" stroke="#338a16" stroke-width="1.3"/>
<path d="M505.5 602.3l19.7-4.2 11.5-17.4 8.2 9.3 6.3 37.5 5.2-31.7 4.4-25 3.8 6.1 3.4 16.7 2.9 28.6 2.8-21.5 2.4-20.3 2.3-2.7 2.1 5.1 2-1.1 1.8-15.9 1.7 9.9 1.7-12 1.5 3 1.4-2.4 1.4-1.3 1.4 8.6 1.2 4.2 1.2.7 1.2-15.4 1.1 14.7 1.1-12.9 1 14.3 1-14.4 1 1.2.9-1.2.9.5.9 3.6.8-1.9.8 10.9.9-3 .7-6.7.8-6.8.7 16.9.7-13.9.7 8.9.7 7.7.7-11.5.7 5.2.6-8.8.6 4.4.6-14.5.6 11.6.6 9.1.6-11.1.5-8.1.6-3.3.5 25.4.6-16.7.5 11.8.5-3.5.5-4.6.5-.7.5 12 .5-4.4.4-11.9.5 9 .5-3.4.8 4.8.9-7.9.8-9.8.9 14.2.7-6.8.8-1.4.8 5 .7-3.9.7 2.2.7-10.2.7 3 .6 9.4.7-3 .6-.7.6 13.5.6-23.6.6 7 .6 8.3.6-8.1.5 1.1.6 16.1.5-7.4.5 5.3.6-20.8.5 19.5.5-7.5.4 8.4.5-4.6.5-7.2.5 8.8.4.8.5-12.2.6 4 .7-3.4.6 7.6.6-4.6.7-5.7.5-4.8.6 14.1.6-6.9.6 7.9.5-9.6.5 9 .6-10.1.5 18.6.5 2.2.5-1.7.5-14.9.5 8.4.4-9.5.5-6.6.5 15.8.4 2.6.6.3.6-17.4.6 19.8.5-2.1.6-11.1.5 3 .5 5.2.6-6.4.5-2.7.5 4.6.4 7.4.5 5.2.5-9.4.5 3.1.4-6.4.5 12.6.5-5.2.6-5.5.5 12.6.5-14.9.5 6.1.6-5.2.4-5.1.5-.6.5 15.2.5 6.3.4-5.7.5 2 .5-17 .6 17.8.5-3.5.5 8.8.5-9 .5 4.6.5 1.5.4-5.7.5 9.4.5 1.8.4-3 .5-1.8.6 9.7.5-5.5.4 9.8.5.6.5-4.5.5 2.3.4 6.1.5-11.1.5 8.5.5-3.1.5 3 .5-4.7.4 3.1.5-2.9.5 1.2.4 4.5.5 5.1.5-11.6.5 2.2" stroke="#eca32c" stroke-width="1.3"/>
<path d="M505.5 602.3l19.7-16.1 11.5 46.3 8.2-32.5 6.3 6.3 5.2-14.6 4.4-5.2 3.8 1.7 3.4 10.4 2.9-7.1 2.8-7.9 2.4 7.2 2.3-2.3 2.1-3 2 .6 1.8 3.8 1.7 1.5 1.7-4.3 1.5.1 1.4 2.5 1.4 4.8 1.4-4.4 1.2-1.3 1.2-.7 1.2.7 1.1-.6 1.1-7.1 1 6.8 1-2.9 1-2.4.9 12.1.9-17.4.9 19 .8-5 .8 11.3.9-10.8.7 7.3.8-10.1.7 11.5.7-6.6.7 5.1.7-7.2.7-10.1.7 10.7.6-2.2.6-7.5.6 2.4.6-3.4.6-3.8.6 6.4.5-7.4.6-3.3.5 2.9.6 11.4.5-20.6.5 16.2.5-4.3.5 12 .5-6.9.5 0 .4-1.4.5-9.3.5 7.8.8 8 .9-2.8.8 5.4.9 2.9.7-1.3.8-6 .8 4.7.7-2.6.7-12.6.7 16.4.7-16.4.6 9.4.7-2.4.6 9.2.6-8.1.6-7.5.6 14.3.6-7 .6-.5.5 8 .6-8.5.5-1.9.5 4.1.6 6.9.5-13.1.5-1.5.4 8.3.5 9.7.5-12.3.5-.8.4 3.7.5 8.3.6-2.1.7-11.3.6 13.2.6-12.9.7-4.9.5 3.1.6.5.6 4.8.6-7.5.5-3.3.5 1.2.6 5.8.5-12 .5 23.7.5-5.3.5-.9.5-8.2.4 11.5.5-15.3.5 2.9.4-1.1.6 13.8.6-17.2.6 7.6.5 8.3.6-13.2.5 6.3.5-6.7.6-4.7.5 10.8.5 3.8.4 1 .5-.9.5-1.5.5 1.3.4.9.5-2.5.5-6.7.6 2.8.5 4.5.5-11.8.5 10 .6-7 .4 3.7.5-4 .5 5.7.5.7.4-.9.5-2.5.5-.2.6-.4.5 2.7.5-6 .5.4.5 5.9.5-1.1.4-.7.5-.7.5 3.8.4-5.3.5-3.5.6 7.9.5-1.4.4-3.2.5-1.8.5 7.7.5-2.3.4-3.1.5 1.9.5-3.2.5.5.5 6.5.5-4.3.4 4.6.5-5.7.5 5.7.4-3.4.5-2.1.5 4.6.5-4.1" stroke="#1000ff" stroke-width="1.3"/>
<path d="M505.5 602.3l19.7-22 11.5 7.4 8.2-5.7 6.3.9 5.2 10.6 4.4 20.1 3.8-27.8 3.4 26.2 2.9-15.3 2.8-14.4 2.4 1.7 2.3-7.3 2.1 11.5 2-5.6 1.8-3.7 1.7.9 1.7 8.1 1.5-8 1.4-1.6 1.4 5.7 1.4-10.6 1.2 12.7 1.2-11.8 1.2 3.4 1.1 3.9 1.1 2 1-2 1-17.2 1 21.9.9-5.5.9-9.2.9 2.9.8 4.1.8-7.2.9 9.2.7.7.8-10.6.7 7.1.7-8.2.7 4 .7-1.9.7 2.1.7-1.6.6 8.7.6 6 .6-19.7.6 16.9.6-11 .6-6.4.5 20.1.6-3.9.5 0 .6-4.8.5 6.8.5-24.6.5 20.9.5 4.5.5-14.8.5 13.4.4-16 .5 18.3.5-27.5.8 9.3.9 13.1.8-9.3.9 3.9.7-3 .8-1.1.8-2.1.7-4.8.7 14.3.7-21 .7 23.7.6-12.3.7 4.8.6-16.6.6 3.6.6 6.6.6 7.4.6 6.2.6-5.2.5-2.9.6-16.4.5 18.9.5 1.4.6 2.5.5-3.6.5-10.1.4 6.8.5 13.5.5-19.8.5 8 .4 11.5.5-4.7.6-14.1.7.7.6 8.5.6.9.7 9.9.5 1.5.6-17.7.6-.8.6 2.1.5-10.7.5 17.9.6-9.4.5 5 .5 5.7.5 0 .5-3.9.5.6.4 5.3.5-9.5.5-5.7.4 13.5.6 0 .6 3.8.6-4.3.5 10.6.6-13 .5-7.5.5 9.9.6-.1.5 7 .5-1.1.4 4.1.5-8.8.5-8.8.5 15 .4 3.5.5 2.5.5-17.7.6 6.7.5.4.5 6.5.5 1.8.6 7.7.4-5.2.5 1.5.5 1.3.5 1.9.4-1.5.5-7.6.5 5 .6-5.1.5-.3.5 3.2.5.7.5.6.5-2.4.4-5.8.5 12.9.5 6.4.4-10.5.5 4.4.6-6.7.5.3.4 3.8.5 8.8.5-15.9.5 6.3.4 1.3.5 8.5.5-11.5.5 1.6.5.8.5.2.4-1.8.5 10.7.5-11.2.4 10.6.5-8.9.5-4 .5 9" stroke="#a52a2a" stroke-width="1.3"/>
<path d="M505.5 602.3l19.7-16.1 11.5 20 8.2-16.2 6.3-22.3 5.2 9.4 4.4 8 3.8 27.9 3.4-30.2 2.9-5.4 2.8-8.2 2.4.2 2.3-3 2.1 9.6 2-5.9 1.8-3.1 1.7 3.3 1.7-4.3 1.5 5.4 1.4-2.3 1.4.2 1.4 11.2 1.2-9.8 1.2-17.8 1.2 14.9 1.1-3.1 1.1 1.8 1-12.9 1 16 1 .1.9 12.3.9-13.1.9.4.8 10.1.8-4.4.9-4.4.7-2.1.8-1.6.7 6.4.7-9.9.7 5.7.7-3.5.7 9.8.7-16.5.6 3.1.6 14.7.6-5.7.6 12.2.6-24.9.6 15 .5-3.6.6-3 .5-4.7.6.8.5-8.6.5 9.5.5-8.6.5 30.8.5-26.2.5 4.6.4.9.5 15.9.5-8.5.8-1.1.9-8.1.8 3.3.9-3.9.7 1.8.8 17.2.8-6.2.7-6 .7-5.1.7-2 .7 2.3.6 18.5.7 6.1.6-11.7.6 3.5.6-11.3.6-9.8.6 9.7.6-12.7.5 34.3.6-.1.5-9.8.5-4.9.6 1 .5 3.8.5 13.2.4-20.5.5 8.2.5-13 .5 3.6.4 9.5.5 18.1.6-18.9.7-13 .6 5.5.6 13.4.7-19.7.5 18.1.6-4.1.6-10.9.6 10.2.5 4.3.5 15.4.6-9.4.5-7.6.5 8.1.5 10.9.5-13.8.5-8.6.4 31.1.5-6.2.5-6.5.4-6.4.6-14.2.6 8.1.6-9.4.5 28.2.6-11.7.5 1.9.5-18.1.6 14.5.5 9.5.5 21.9.4.2.5-9 .5-1.2.5-5.9.4 9.2.5-8.8.5 10.2.6-9.2.5-4.4.5-6.6.5 24.3.6.2.4-7.9.5 19.5.5-9.9.5-9.1.4 21.1.5-11.2.5-1.7.6-2.7.5 13.8.5-5.5.5-3 .5-.1.5 4.5.4 11.9.5-9 .5 7.7.4-8.6.5 12.1.6-4.6.5.8.4-3.8.5.8.5 11.2.5-5.1.4-8.9.5 7.8.5 3.5.5-1.6.5 0 .5-1.3.4 4.7.5-.2.5-.1.4-1.1.5-2.3.5 1.1.5-2.2" stroke="#ff1500" stroke-width="1.3"/>
<path d="M505.5 602.3l19.7 42.1 11.5-54.1 8.2 34.7 6.3-52.7 5.2 53.3 4.4-35.6 3.8 27.4 3.4-32.3 2.9 32.5 2.8-20.4 2.4-13.1 2.3-2.5 2.1-5.1 2 10.7 1.8-1.9 1.7-22.5 1.7 20.5 1.5 1.3 1.4 4.2 1.4-13.6 1.4 2.1 1.2-8.9 1.2 3.6 1.2-12 1.1 21.9 1.1-3.8 1-7.4 1 10.3 1 6.9.9-10.1.9-11.8.9 22.9.8-11.5.8-3.4.9-11.9.7 7.2.8 14.6.7 11.1.7-4.2.7-14.8.7 19.2.7-14.5.7-21.7.6 28.3.6-28 .6 14.6.6-3.2.6-10.8.6 33.6.5-2 .6-8.7.5-10.9.6 1.2.5-5.1.5 14.2.5 3.4.5-21 .5 3.6.5 7.1.4 13.3.5 7.8.5-19 .8 18 .9-27.7.8-7.1.9 24.3.7-15.7.8 4.7.8 26.9.7-11.3.7-16.4.7 1.9.7.7.6 13.5.7-25.9.6 33.1.6-15.2.6-16 .6 1.9.6-7.2.6 22.8.5 15.6.6-16.9.5-10.6.5 13 .6-9.5.5 12.7.5-8.7.4-8.8.5 33.1.5-36 .5 17.9.4-8.7.5-17.3.6 27.3.7 8.2.6-18 .6 21.8.7-35.5.5 17.6.6 24.7.6-21.1.6-6.2.5 7.6.5-7.5.6 36.4.5-13.8.5 2.3.5-23.2.5-11.8.5 46.4.4-9.8.5-23.5.5 12.6.4-4.2.6 19.7.6.4.6-9.9.5 8.2.6-10.5.5 30.5.5-2.5.6-31.4.5 11 .5 21.7.4.3.5-1.3.5-19.6.5 16.2.4-12.4.5-2.3.5 26.4.6 9.3.5-30.3.5 11.4.5 12.2.6-14.3.4 12.4.5 11 .5-11.4.5 18.3.4-5.8.5-11.7.5 14.4.6-12.9.5 16.1.5-4.6.5 3.7.5-9.6.5 10.7.4-12.7.5.7.5 10 .4-13.9.5 9.7.6 3.2.5-3.8.4-15.5.5-2.7.5 14.6.5-1.9.4 1.8.5-7.7.5-2.8.5 4.6.5-8.6.5 12.5.4-16.8.5 3.3.5.2.4 3.8.5 6.8.5-.4.5-10" stroke="#7e1b8d" stroke-width="1.3"/>
</g>
<path d="M531.5 667.5v3.4M597 667.5v3.4M662.4 667.5v3.4M505.5 647.2h-3.4M505.5 579.8h-3.4" stroke="#333" stroke-width="0.8" fill="none"/>
<path d="M505.5 667.5v1.9M511.8 667.5v1.9M517 667.5v1.9M521.4 667.5v1.9M525.2 667.5v1.9M528.6 667.5v1.9M551.2 667.5v1.9M562.8 667.5v1.9M570.9 667.5v1.9M577.3 667.5v1.9M582.5 667.5v1.9M586.8 667.5v1.9M590.6 667.5v1.9M594 667.5v1.9M616.7 667.5v1.9M628.2 667.5v1.9M636.4 667.5v1.9M642.7 667.5v1.9M647.9 667.5v1.9M652.3 667.5v1.9M656.1 667.5v1.9M659.4 667.5v1.9M682.1 667.5v1.9M505.5 662.2h-1.9M505.5 657.7h-1.9M505.5 653.7h-1.9M505.5 650.3h-1.9M505.5 626.9h-1.9M505.5 615h-1.9M505.5 606.6h-1.9M505.5 600.1h-1.9M505.5 594.7h-1.9M505.5 590.2h-1.9M505.5 586.3h-1.9M505.5 582.9h-1.9M505.5 559.5h-1.9M505.5 547.6h-1.9" stroke="#333" stroke-width="0.6" fill="none"/>
<rect x="505.5" y="547.5" width="178" height="120" fill="none" stroke="#3a3a3a" stroke-width="0.8"/>
<text x="531.8" y="680.8" text-anchor="middle" class="t">10<tspan class="s" dy="-4.3">3</tspan></text>
<text x="597.3" y="680.8" text-anchor="middle" class="t">10<tspan class="s" dy="-4.3">4</tspan></text>
<text x="662.7" y="680.8" text-anchor="middle" class="t">10<tspan class="s" dy="-4.3">5</tspan></text>
<text x="499.5" y="650.8" text-anchor="end" class="t">10<tspan class="s" dy="-4.3">0</tspan></text>
<text x="499.5" y="583.4" text-anchor="end" class="t">10<tspan class="s" dy="-4.3">1</tspan></text>
<text x="132.5" y="56.2" text-anchor="middle" class="ti">Allen-Cahn (1st Order)</text>
<text x="363.5" y="56.2" text-anchor="middle" class="ti">Allen-Cahn (2nd Order)</text>
<text x="594.5" y="56.2" text-anchor="middle" class="ti">Burgers (1/100pi)</text>
<text x="132.5" y="380.2" text-anchor="middle" class="ti">BGD (DeepONet)</text>
<text x="363.5" y="380.2" text-anchor="middle" class="ti">NS (FNO)</text>
<text x="594.5" y="380.2" text-anchor="middle" class="ti">WE (TC-UNet)</text>
<text transform="translate(10.5 121.5) rotate(-90)" text-anchor="middle" class="yl">Generatilzation Error</text>
<text transform="translate(15.6 283.5) rotate(-90)" text-anchor="middle" class="yl">SNR</text>
<text transform="translate(10.1 445.5) rotate(-90)" text-anchor="middle" class="yl">Generalization Error</text>
<text transform="translate(10.9 607.5) rotate(-90)" text-anchor="middle" class="yl">SNR</text>
<text x="132.5" y="694.9" text-anchor="middle" class="ti" style="font-size:11.7px">Iterations</text>
<text x="363.5" y="694.9" text-anchor="middle" class="ti" style="font-size:11.7px">Iterations</text>
<text x="594.5" y="694.9" text-anchor="middle" class="ti" style="font-size:11.7px">Iterations</text>
<text transform="translate(1.9 42.2) scale(1.08 1)" class="pn">A</text>
<text transform="translate(4.6 369.4) scale(1.02 1)" class="pn">B</text>
<path d="M90.2 6.3H114.6" stroke="#000000" stroke-width="1.75"/>
<text x="123.4" y="10.4" class="lg">Baseline</text>
<path d="M90.2 22.6H114.6" stroke="#338a16" stroke-width="1.3"/>
<text x="123.8" y="28" class="lg"><tspan font-style="italic">vRBA</tspan> : Φ(<tspan font-style="italic">r</tspan>) = <tspan font-style="italic">e</tspan><tspan class="ls" dy="-4.5" font-style="italic">r</tspan></text>
<path d="M219.7 6.3H243.6" stroke="#eca32c" stroke-width="1.3"/>
<text x="252.5" y="10.5" class="lg"><tspan font-style="italic">RBA</tspan> : Φ(<tspan font-style="italic">r</tspan>) = <tspan font-style="italic">r</tspan><tspan class="ls" dy="-4.5">2</tspan></text>
<path d="M219.7 22.9H243.6" stroke="#1000ff" stroke-width="1.3"/>
<text x="252.5" y="28" class="lg">Φ(<tspan font-style="italic">r</tspan>) = (1 + <tspan font-style="italic">r</tspan>)log(1 + <tspan font-style="italic">r</tspan>) − <tspan font-style="italic">r</tspan></text>
<path d="M395.8 6.3H419.6" stroke="#a52a2a" stroke-width="1.3"/>
<text x="428.6" y="10.6" class="lg">Φ(<tspan font-style="italic">r</tspan>) = <tspan font-style="italic">r</tspan><tspan class="ls" dy="-4.5" font-style="italic">p</tspan></text>
<path d="M395.8 25.5H419.6" stroke="#ff1500" stroke-width="1.3"/>
<text x="428.6" y="29.2" class="lg">Φ(<tspan font-style="italic">r</tspan>) = <tspan font-style="italic">e</tspan><tspan class="ls" dy="-4" font-style="italic">r</tspan><tspan font-size="5.6px" dy="-2.6">2</tspan></text>
<path d="M495.4 6.2H519.6" stroke="#7e1b8d" stroke-width="1.3"/>
<text x="528.2" y="10.5" class="lg">Φ(<tspan font-style="italic">r</tspan>) = cosh(<tspan font-style="italic">r</tspan>)</text>
</svg></body></html>
